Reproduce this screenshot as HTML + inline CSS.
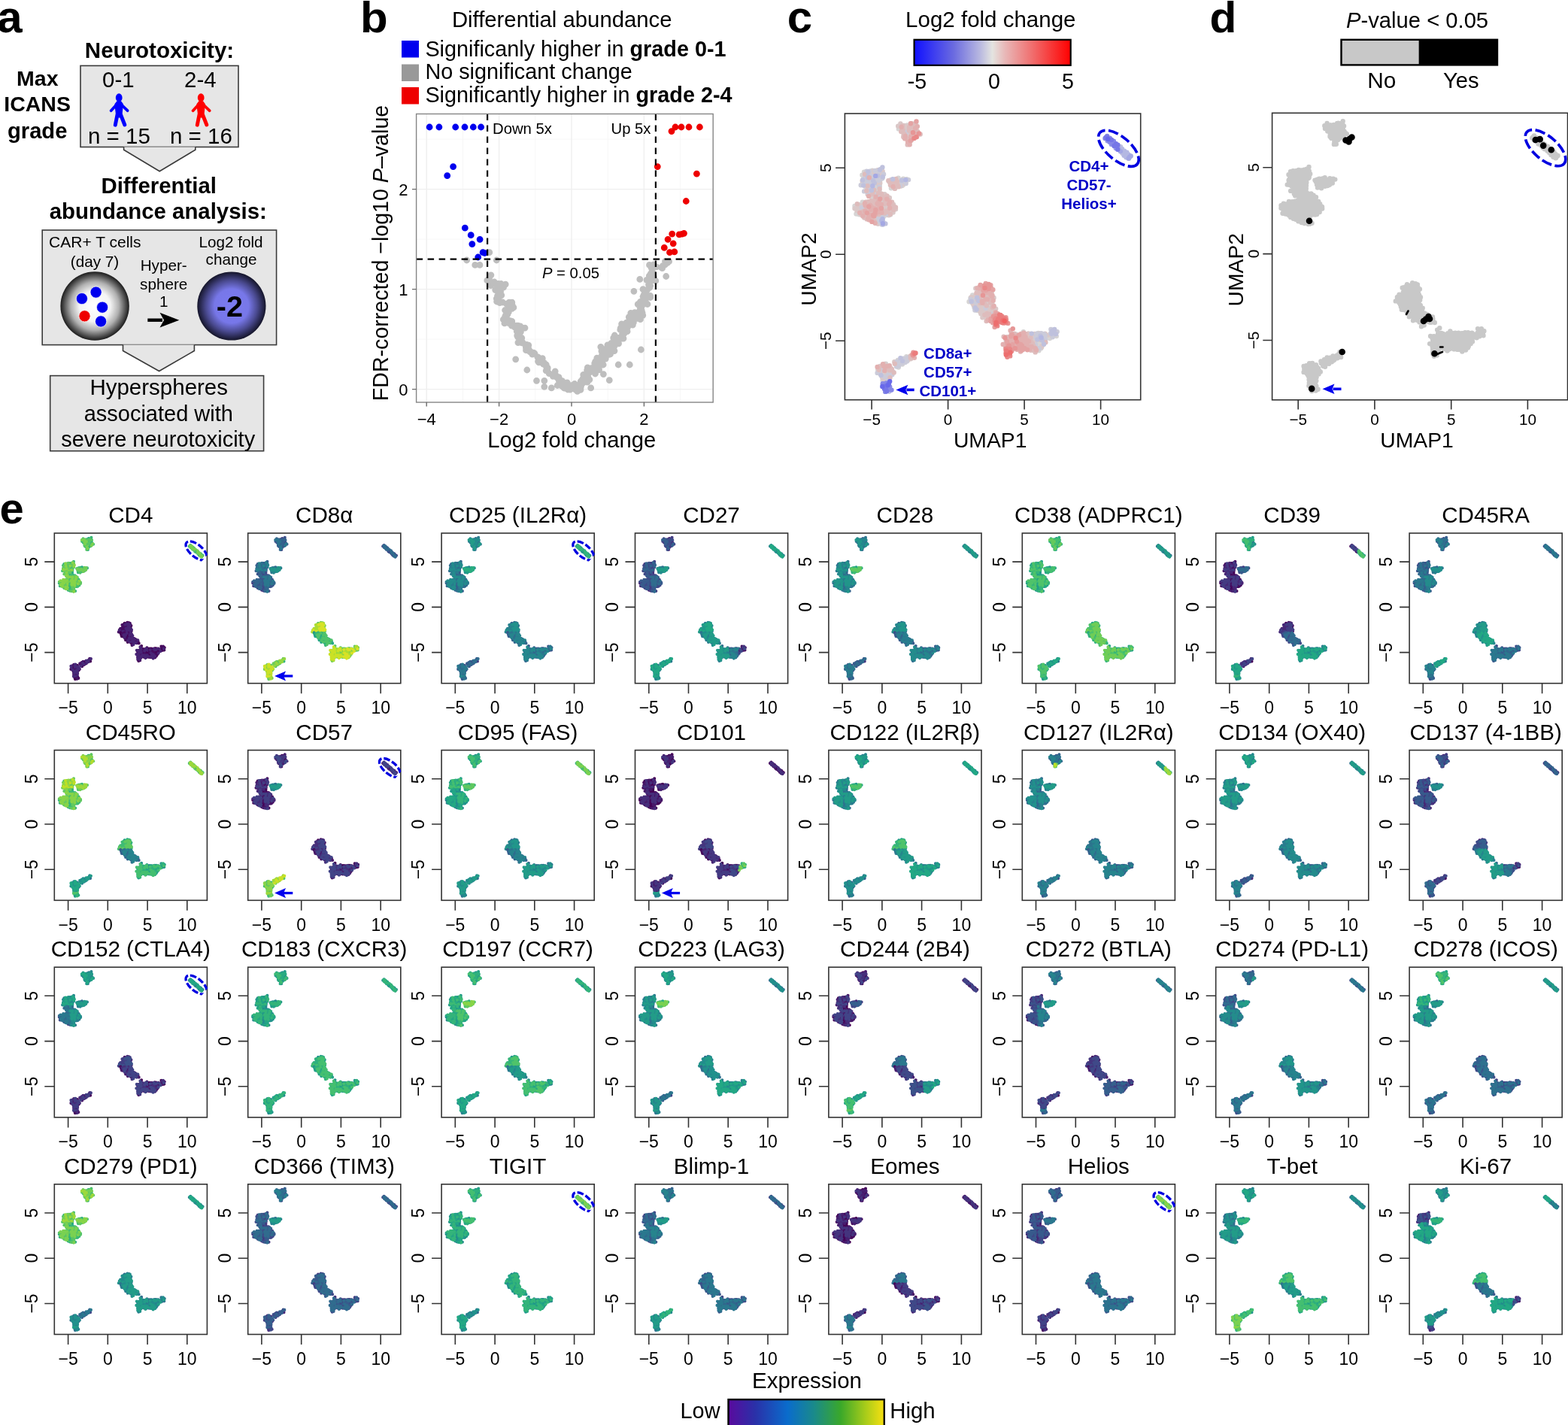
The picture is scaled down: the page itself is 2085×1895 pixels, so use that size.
<!DOCTYPE html><html><head><meta charset="utf-8"><style>html,body{margin:0;padding:0;background:#fff;}svg{display:block}</style></head><body><svg width="2085" height="1895" viewBox="0 0 2085 1895" font-family="Liberation Sans, Arial, Helvetica, sans-serif">
<defs><path id="pT10" d="M-33.3 -89.4h0M-28.1 -89.4h0M-29.1 -88.7h0M-25.4 -88.5h0M-29.8 -86.9h0M-24.8 -86.8h0M-28.9 -85.1h0M-22.7 -85.0h0M-22.5 -83.9h0M-27.3 -81.8h0M-25.8 -82.0h0M-23.7 -82.1h0M-29.8 -80.6h0M-25.1 -91.2h0M-25.8 -91.1h0M-23.0 -91.1h0"/><path id="pT11" d="M-26.8 -88.6h0M-22.5 -87.9h0M-26.9 -86.4h0M-23.2 -86.5h0M-24.2 -84.9h0M-30.8 -81.9h0M-29.5 -82.4h0M-28.3 -80.3h0M-24.6 -81.1h0M-28.3 -90.0h0M-21.9 -92.6h0M-22.1 -90.9h0M-29.1 -81.3h0M-32.4 -85.6h0M-34.2 -87.4h0"/><path id="pT12" d="M-30.3 -89.8h0M-26.6 -89.7h0M-25.2 -89.9h0M-23.2 -90.2h0M-32.2 -88.7h0M-23.5 -88.1h0M-21.8 -86.9h0M-30.3 -85.5h0M-27.4 -85.3h0M-25.3 -84.9h0M-28.5 -84.0h0M-26.0 -83.7h0M-24.9 -84.0h0M-23.5 -80.9h0M-32.8 -91.1h0M-30.6 -89.8h0M-21.2 -89.2h0M-23.4 -81.1h0M-30.2 -81.2h0M-30.7 -83.1h0"/><path id="pT13" d="M-31.4 -89.5h0M-30.8 -88.6h0M-31.2 -86.7h0M-28.2 -87.1h0M-30.2 -84.0h0M-26.5 -80.7h0M-34.5 -89.3h0"/><path id="pT20" d="M-22.0 -81.8h0M-20.9 -85.4h0"/><path id="pT21" d="M-19.2 -83.7h0"/><path id="pT22" d="M-20.8 -83.8h0"/><path id="pT23" d="M-20.1 -84.3h0M-21.6 -81.9h0"/><path id="pT30" d="M-25.9 -79.2h0M-27.8 -78.3h0M-26.4 -76.5h0"/><path id="pT31" d="M-25.3 -79.6h0"/><path id="pT32" d="M-28.0 -76.4h0"/><path id="pT33" d="M-27.6 -79.6h0M-26.6 -78.0h0"/><path id="pL10" d="M-47.7 -57.7h0M-57.5 -55.9h0M-45.8 -55.8h0M-48.5 -54.8h0M-46.2 -54.4h0M-50.5 -53.0h0M-49.4 -53.6h0M-45.7 -52.8h0M-57.1 -51.9h0M-54.8 -52.0h0M-50.3 -51.3h0M-47.8 -51.5h0M-47.0 -51.5h0M-49.3 -49.8h0M-54.7 -48.9h0M-53.1 -48.6h0M-51.4 -48.8h0M-54.1 -46.8h0M-48.8 -47.6h0M-54.2 -57.9h0M-50.4 -58.3h0M-46.9 -49.7h0M-58.0 -57.4h0"/><path id="pL11" d="M-47.1 -59.0h0M-56.6 -57.3h0M-53.6 -57.6h0M-51.4 -58.2h0M-49.7 -58.2h0M-46.6 -57.5h0M-54.3 -56.1h0M-52.6 -55.9h0M-48.8 -56.2h0M-53.4 -54.5h0M-52.1 -54.3h0M-55.4 -53.4h0M-54.4 -53.5h0M-52.9 -53.3h0M-47.5 -52.9h0M-55.7 -50.4h0M-58.4 -48.9h0M-55.6 -47.7h0M-50.8 -47.3h0M-48.6 -58.7h0M-45.3 -60.7h0M-45.3 -53.2h0M-47.1 -47.6h0M-60.2 -48.2h0M-59.3 -51.3h0M-58.4 -53.3h0M-59.3 -55.3h0"/><path id="pL12" d="M-55.2 -57.5h0M-55.7 -56.0h0M-50.9 -56.2h0M-47.5 -55.9h0M-58.4 -54.2h0M-56.4 -54.8h0M-57.5 -53.5h0M-59.0 -51.7h0M-53.2 -51.8h0M-51.7 -51.4h0M-52.8 -50.4h0M-50.8 -49.8h0M-47.2 -49.8h0M-56.6 -48.8h0M-49.7 -48.5h0M-57.2 -47.2h0M-52.4 -58.5h0M-45.2 -57.8h0M-56.6 -47.7h0M-58.5 -48.0h0"/><path id="pL13" d="M-55.3 -54.3h0M-50.1 -54.7h0M-59.1 -50.0h0M-57.7 -49.8h0M-54.6 -50.6h0M-48.3 -49.2h0M-52.1 -47.7h0M-47.6 -46.9h0M-56.3 -58.0h0M-46.8 -59.2h0M-44.4 -55.8h0M-45.1 -54.0h0"/><path id="pL20" d="M-36.2 -47.3h0M-34.3 -53.2h0M-29.2 -51.9h0M-31.0 -48.4h0"/><path id="pL21" d="M-38.8 -51.6h0M-31.9 -51.7h0M-33.3 -50.3h0M-29.2 -50.1h0M-34.6 -47.9h0M-39.5 -51.9h0M-38.2 -52.4h0M-36.0 -52.6h0M-27.3 -52.0h0M-34.3 -47.1h0M-39.4 -46.1h0"/><path id="pL22" d="M-37.4 -51.6h0M-38.3 -51.0h0M-36.2 -50.7h0M-31.9 -50.8h0M-38.8 -49.0h0M-35.8 -49.2h0M-30.6 -49.2h0M-37.9 -47.2h0M-32.9 -47.8h0M-31.6 -47.9h0M-41.2 -51.4h0M-36.7 -45.8h0M-39.9 -48.3h0"/><path id="pL23" d="M-39.7 -50.8h0M-35.2 -50.7h0M-37.7 -49.3h0M-34.4 -49.1h0M-32.3 -49.2h0M-30.9 -52.7h0M-28.6 -52.4h0M-29.1 -49.4h0M-32.5 -47.5h0M-40.6 -50.4h0"/><path id="pL3a0" d="M-54.0 -44.2h0M-52.8 -44.6h0M-51.0 -44.7h0M-55.5 -36.2h0M-50.2 -33.6h0M-63.0 -31.7h0M-61.5 -32.6h0M-56.1 -32.6h0M-53.9 -31.9h0M-50.7 -32.1h0M-54.9 -31.2h0M-59.0 -29.7h0M-54.6 -28.8h0M-50.5 -28.8h0M-54.7 -27.5h0M-51.7 -27.2h0M-57.6 -25.8h0M-54.1 -26.4h0M-51.1 -26.7h0M-52.9 -25.0h0M-50.4 -21.8h0M-52.6 -22.7h0M-63.5 -28.2h0M-64.5 -32.0h0"/><path id="pL3a1" d="M-51.6 -45.5h0M-56.3 -44.2h0M-53.5 -42.2h0M-53.9 -41.5h0M-52.4 -37.7h0M-50.5 -38.1h0M-61.5 -33.6h0M-60.2 -34.0h0M-58.5 -33.9h0M-51.9 -34.1h0M-57.3 -30.2h0M-57.5 -28.7h0M-58.0 -27.9h0M-52.1 -24.3h0M-57.9 -25.5h0M-63.0 -30.6h0M-55.1 -36.7h0"/><path id="pL3a2" d="M-53.6 -45.8h0M-55.5 -43.1h0M-52.8 -41.4h0M-51.0 -40.9h0M-52.1 -40.2h0M-53.3 -37.2h0M-51.6 -36.7h0M-57.5 -35.5h0M-52.1 -35.4h0M-57.2 -34.1h0M-54.7 -33.3h0M-53.7 -34.2h0M-52.4 -32.6h0M-58.0 -30.2h0M-56.0 -28.9h0M-52.4 -28.8h0M-56.9 -27.6h0M-58.8 -26.6h0M-50.9 -23.0h0M-58.8 -26.9h0M-61.5 -27.8h0M-64.5 -33.7h0M-54.8 -40.6h0M-58.0 -43.9h0"/><path id="pL3a3" d="M-54.8 -45.8h0M-52.1 -42.3h0M-59.3 -35.4h0M-55.5 -34.7h0M-54.2 -35.2h0M-50.5 -35.4h0M-59.6 -32.6h0M-57.7 -32.1h0M-61.5 -30.9h0M-60.0 -30.8h0M-53.4 -31.2h0M-51.6 -31.0h0M-62.7 -29.4h0M-61.0 -29.0h0M-60.1 -27.6h0M-53.4 -27.4h0M-56.0 -26.5h0M-52.0 -26.7h0M-55.2 -25.1h0M-54.5 -24.1h0M-56.0 -24.5h0M-62.8 -35.1h0M-60.5 -34.9h0M-59.1 -36.5h0M-56.8 -36.4h0M-52.2 -39.9h0M-55.5 -41.9h0"/><path id="pL3b0" d="M-47.9 -45.3h0M-49.4 -44.6h0M-47.4 -44.4h0M-49.8 -43.2h0M-46.4 -42.5h0M-48.5 -39.9h0M-49.0 -38.7h0M-43.6 -37.9h0M-47.3 -34.8h0M-42.4 -35.7h0M-45.0 -33.8h0M-38.1 -33.7h0M-40.3 -32.3h0M-38.9 -31.9h0M-37.4 -32.1h0M-46.1 -30.9h0M-43.2 -30.2h0M-41.8 -30.3h0M-45.8 -29.1h0M-38.8 -29.2h0M-50.2 -28.1h0M-46.1 -27.6h0M-44.8 -28.1h0M-48.8 -26.4h0M-49.8 -24.5h0M-47.5 -23.2h0M-45.9 -23.5h0M-45.1 -21.5h0M-47.3 -45.6h0M-45.8 -42.1h0M-43.8 -42.0h0M-38.7 -36.5h0M-43.2 -21.4h0"/><path id="pL3b1" d="M-48.1 -42.8h0M-49.2 -41.4h0M-47.2 -41.5h0M-46.1 -41.0h0M-44.4 -39.8h0M-46.0 -38.0h0M-41.0 -37.8h0M-50.0 -36.2h0M-47.7 -37.1h0M-46.9 -36.8h0M-44.4 -36.6h0M-40.2 -36.5h0M-40.8 -35.1h0M-39.2 -35.0h0M-46.8 -33.5h0M-41.6 -33.5h0M-49.1 -31.8h0M-42.5 -31.7h0M-50.1 -30.9h0M-37.7 -30.9h0M-49.5 -29.0h0M-42.7 -29.5h0M-40.7 -28.9h0M-47.9 -27.9h0M-42.8 -28.2h0M-40.9 -27.3h0M-39.9 -28.1h0M-48.0 -25.2h0M-46.9 -24.7h0M-45.3 -24.7h0M-49.1 -23.3h0M-46.4 -21.8h0M-42.1 -40.8h0M-36.2 -32.7h0M-37.9 -29.2h0M-39.8 -27.6h0M-42.4 -27.4h0"/><path id="pL3b2" d="M-49.9 -46.1h0M-43.7 -41.4h0M-43.4 -39.5h0M-41.7 -36.4h0M-43.1 -33.3h0M-39.9 -33.3h0M-44.7 -31.2h0M-46.9 -25.8h0M-45.2 -26.5h0M-44.5 -26.3h0M-40.4 -39.5h0M-36.7 -33.1h0M-36.2 -31.5h0M-45.2 -24.0h0M-44.7 -22.3h0M-45.8 -20.8h0M-48.4 -21.3h0"/><path id="pL3b3" d="M-49.9 -40.2h0M-46.9 -40.2h0M-41.9 -40.0h0M-47.0 -38.7h0M-42.3 -38.5h0M-42.8 -36.6h0M-48.8 -35.4h0M-46.1 -34.9h0M-43.9 -35.3h0M-48.3 -33.8h0M-47.5 -32.2h0M-46.1 -32.1h0M-43.7 -32.0h0M-48.1 -30.4h0M-39.5 -30.9h0M-47.7 -29.5h0M-43.8 -28.8h0M-37.7 -34.8h0M-44.9 -20.8h0"/><path id="pM10" d="M23.8 22.2h0M26.2 25.0h0M21.4 26.4h0M24.7 26.2h0M20.8 28.2h0M29.5 28.1h0M21.5 30.0h0M22.8 29.2h0M15.7 31.2h0M25.8 31.4h0M16.6 32.7h0M18.1 32.8h0M28.8 32.7h0M29.4 33.6h0M28.1 20.8h0M30.1 26.5h0M31.3 32.2h0M19.7 26.9h0M22.4 21.3h0"/><path id="pM11" d="M27.1 21.0h0M22.7 22.3h0M21.7 23.6h0M25.4 23.4h0M29.0 25.1h0M29.9 26.9h0M19.2 28.5h0M16.1 29.8h0M18.2 29.5h0M28.0 29.9h0M30.3 29.2h0M19.1 31.5h0M20.6 31.4h0M22.1 31.1h0M30.6 30.8h0M27.0 32.5h0M19.2 33.6h0M26.0 20.3h0M29.9 23.4h0M31.1 24.6h0M15.5 30.3h0M21.4 22.9h0"/><path id="pM12" d="M28.7 21.9h0M20.2 23.4h0M26.7 24.1h0M28.1 23.9h0M20.6 25.4h0M22.2 25.4h0M24.3 25.1h0M20.2 26.4h0M22.7 26.3h0M22.2 28.2h0M20.1 30.0h0M17.7 31.5h0M24.5 31.2h0M27.3 31.4h0M23.5 32.7h0M29.5 21.4h0M14.5 33.0h0M16.9 28.4h0M19.1 23.7h0M25.2 21.8h0"/><path id="pM13" d="M25.6 22.5h0M27.3 21.8h0M23.0 23.4h0M29.6 23.8h0M27.7 25.2h0M26.9 26.5h0M28.4 26.4h0M24.1 28.5h0M26.1 28.3h0M27.9 27.6h0M25.2 29.4h0M26.7 29.6h0M28.7 30.8h0M19.9 32.4h0M21.1 32.3h0M25.2 32.1h0M30.1 32.9h0M23.8 33.8h0M30.7 28.6h0M31.7 30.2h0M16.1 32.8h0M15.7 30.6h0"/><path id="pM20" d="M16.9 34.0h0M21.1 35.7h0M18.7 37.1h0M21.2 38.8h0M23.0 38.7h0M26.5 38.6h0M26.2 39.9h0M29.6 40.5h0M27.0 41.2h0M25.8 43.6h0M29.4 42.8h0M27.8 44.6h0M33.0 44.6h0M35.5 46.5h0M39.1 46.4h0M38.3 47.9h0M40.0 47.3h0M40.2 45.5h0M20.3 39.1h0M18.1 37.0h0M17.3 34.5h0"/><path id="pM21" d="M27.0 34.4h0M17.7 35.3h0M24.8 35.3h0M26.6 35.7h0M26.0 37.4h0M27.6 37.2h0M30.7 37.1h0M19.8 38.4h0M24.7 38.8h0M32.1 38.5h0M24.2 40.4h0M24.3 43.3h0M27.9 43.2h0M33.0 42.9h0M37.4 43.4h0M29.6 44.8h0M31.6 44.9h0M36.9 44.3h0M39.1 44.8h0M31.1 46.4h0M32.2 47.1h0M33.2 47.5h0M37.3 47.1h0M31.6 36.2h0M34.3 41.3h0M36.3 42.3h0M41.4 48.0h0M33.2 48.3h0M30.9 47.6h0M27.7 45.8h0M26.5 46.5h0M23.8 43.9h0M18.6 38.9h0"/><path id="pM22" d="M21.0 34.6h0M22.4 33.9h0M19.7 35.2h0M23.5 35.5h0M28.8 35.1h0M28.8 38.8h0M30.3 38.4h0M21.9 39.7h0M27.9 39.9h0M30.5 40.5h0M22.7 41.4h0M25.3 42.1h0M35.6 42.1h0M31.4 43.2h0M34.8 44.9h0M37.9 46.0h0M33.1 49.0h0M37.4 43.2h0M39.0 47.8h0M32.2 50.7h0"/><path id="pM23" d="M25.6 34.5h0M30.4 34.3h0M30.5 36.1h0M31.6 35.8h0M21.1 37.2h0M22.3 36.6h0M23.7 37.5h0M29.2 37.3h0M32.8 40.3h0M28.6 41.5h0M29.7 41.6h0M32.2 42.0h0M33.3 41.1h0M34.8 42.7h0M36.1 42.7h0M26.7 44.3h0M29.2 46.2h0M32.4 45.6h0M34.3 45.7h0M34.9 47.2h0M33.1 37.9h0M40.0 44.0h0M37.4 47.5h0M34.1 49.8h0M29.6 46.4h0M22.3 40.0h0"/><path id="pM30" d="M54.0 55.4h0M47.7 56.8h0M51.0 58.5h0M40.0 60.1h0M43.0 59.5h0M50.0 60.0h0M39.6 62.7h0M51.6 62.5h0M53.6 62.0h0M54.2 63.9h0M42.8 66.0h0M52.9 65.5h0M40.1 67.1h0M41.1 68.0h0M40.7 57.5h0M43.7 55.4h0M44.8 51.7h0M49.0 56.2h0M52.3 54.7h0M52.1 54.0h0M54.8 66.5h0"/><path id="pM31" d="M55.0 56.3h0M43.6 58.2h0M45.9 57.6h0M46.8 58.2h0M52.9 58.4h0M46.6 59.6h0M52.0 60.1h0M53.6 59.2h0M54.9 59.9h0M44.0 61.4h0M45.1 61.4h0M47.5 60.8h0M51.0 60.6h0M52.3 61.1h0M54.5 61.4h0M44.6 62.9h0M46.5 62.2h0M40.8 63.6h0M47.4 64.2h0M51.1 63.6h0M55.4 64.1h0M48.1 65.5h0M44.1 67.3h0M50.8 66.9h0M42.4 69.9h0M47.8 66.3h0M41.0 71.5h0M39.4 58.1h0"/><path id="pM32" d="M45.8 55.2h0M45.9 57.0h0M49.6 56.2h0M52.7 56.9h0M41.7 57.6h0M48.2 59.6h0M40.8 60.6h0M49.4 60.9h0M42.7 62.1h0M48.4 62.1h0M50.3 62.7h0M54.4 62.6h0M42.1 63.7h0M43.9 63.6h0M47.0 55.6h0M51.8 66.3h0M43.4 66.9h0M42.9 70.8h0M40.1 69.9h0M40.0 66.3h0M40.7 60.6h0"/><path id="pM33" d="M44.0 55.3h0M52.4 54.8h0M43.3 57.1h0M44.3 56.1h0M51.3 56.8h0M40.8 58.0h0M48.9 58.0h0M53.6 57.7h0M41.0 59.2h0M44.6 59.9h0M42.0 60.7h0M41.2 62.4h0M45.9 63.7h0M48.8 63.8h0M52.1 63.9h0M40.0 65.7h0M41.5 65.2h0M44.3 66.0h0M46.3 65.4h0M49.8 65.5h0M51.7 65.3h0M54.5 65.5h0M42.0 66.7h0M43.1 68.3h0M38.5 57.3h0M43.1 53.0h0M50.5 55.3h0M50.1 67.7h0M42.7 69.3h0M40.0 68.7h0M39.8 64.4h0M38.0 62.7h0"/><path id="pM40" d="M57.3 55.4h0M64.8 55.1h0M59.9 56.5h0M65.3 56.6h0M67.1 56.6h0M55.9 58.5h0M57.1 58.1h0M59.1 58.0h0M64.4 58.0h0M56.5 59.7h0M57.9 59.2h0M63.9 59.4h0M62.9 60.6h0M64.7 61.3h0M65.5 63.1h0M55.6 55.1h0M60.0 55.4h0M62.4 54.8h0M64.4 54.9h0M67.1 55.2h0M66.2 62.6h0"/><path id="pM41" d="M63.2 55.2h0M60.7 57.8h0M66.3 58.2h0M65.1 59.9h0M60.8 60.9h0M56.5 62.5h0M61.4 62.8h0M57.8 64.3h0M59.2 63.9h0M62.8 64.0h0M64.8 63.8h0M60.4 65.4h0M62.2 65.8h0M59.7 66.9h0M57.8 55.2h0M64.8 64.5h0M64.3 65.4h0M59.1 66.9h0"/><path id="pM42" d="M58.5 56.4h0M62.4 57.6h0M60.0 59.1h0M61.7 59.3h0M67.0 59.1h0M55.9 60.6h0M59.7 61.3h0M66.0 61.3h0M63.5 62.8h0M61.2 66.8h0M67.2 59.5h0M62.8 67.1h0M60.8 66.7h0M57.2 66.8h0"/><path id="pM43" d="M61.3 55.3h0M66.3 55.4h0M56.4 56.7h0M62.2 56.6h0M63.9 56.7h0M57.4 60.9h0M58.4 62.1h0M60.6 62.8h0M60.4 64.1h0M56.7 65.9h0M58.0 65.5h0M63.0 65.4h0M60.3 68.2h0"/><path id="pM50" d="M73.8 53.1h0M71.5 55.3h0M73.4 54.9h0M70.2 57.0h0M71.0 55.0h0M71.9 53.3h0M71.1 52.2h0M75.0 53.9h0M75.0 57.0h0M72.3 57.6h0"/><path id="pM51" d="M72.0 56.9h0M68.3 57.9h0M75.4 53.9h0"/><path id="pM52" d="M72.2 53.2h0M73.6 52.2h0"/><path id="pM53" d="M74.6 55.5h0M68.9 56.2h0M70.3 58.6h0M67.5 61.2h0"/><path id="pB10" d="M-42.7 89.6h0M-41.6 91.1h0M-40.9 92.6h0M-41.9 94.5h0M-43.4 95.7h0"/><path id="pB11" d="M-43.7 92.8h0M-42.9 92.3h0M-43.0 94.1h0M-39.0 94.5h0M-42.4 95.3h0M-44.0 93.7h0M-45.1 90.0h0"/><path id="pB12" d="M-40.2 88.5h0M-40.8 90.0h0M-40.2 92.2h0M-40.6 95.4h0"/><path id="pB13" d="M-44.5 90.0h0M-42.9 91.6h0M-41.0 89.9h0M-45.4 92.1h0"/><path id="pB20" d="M-45.5 77.6h0M-40.7 77.7h0M-47.8 80.4h0M-46.1 80.7h0M-39.0 80.5h0M-45.4 82.3h0M-39.4 83.6h0M-42.3 86.4h0M-40.8 86.3h0M-41.6 88.0h0M-45.0 77.5h0M-45.0 76.4h0M-42.1 77.7h0M-40.4 77.5h0M-38.6 83.8h0M-40.1 85.9h0"/><path id="pB21" d="M-44.2 77.9h0M-42.3 77.9h0M-47.1 78.7h0M-44.6 79.7h0M-40.3 80.8h0M-46.5 81.9h0M-38.6 82.2h0M-41.9 84.9h0M-45.8 85.0h0M-48.9 82.5h0"/><path id="pB22" d="M-43.8 81.0h0M-43.0 80.2h0M-43.0 82.0h0M-41.9 81.8h0M-46.2 84.2h0M-44.6 83.5h0M-42.4 83.6h0M-45.4 85.7h0M-44.4 87.2h0M-45.3 87.7h0M-43.5 88.1h0M-47.1 77.9h0M-37.4 82.3h0"/><path id="pB23" d="M-43.8 76.3h0M-43.6 79.3h0M-42.2 79.1h0M-39.7 79.1h0M-39.8 82.5h0M-41.3 84.1h0M-43.8 85.4h0M-40.3 85.7h0M-48.9 78.4h0M-42.9 76.2h0M-38.9 79.8h0M-38.2 81.5h0M-40.6 87.6h0M-44.5 87.6h0M-46.9 83.4h0M-48.5 80.3h0"/><path id="pB30" d="M-28.0 71.9h0M-24.3 71.5h0M-33.8 73.7h0M-31.5 74.3h0M-28.4 74.5h0M-34.0 76.0h0M-23.2 72.1h0"/><path id="pB31" d="M-22.9 69.0h0M-24.2 70.3h0M-30.9 73.3h0M-29.0 72.8h0M-29.4 74.7h0M-35.9 76.1h0M-30.8 72.5h0M-26.3 71.2h0M-24.5 69.6h0M-34.1 77.7h0M-34.2 78.8h0"/><path id="pB32" d="M-25.9 72.2h0M-35.1 74.5h0M-35.2 77.6h0M-37.1 74.9h0M-34.7 73.7h0M-32.8 72.3h0M-24.0 68.4h0M-23.6 69.3h0M-29.6 75.4h0M-31.5 76.7h0M-36.8 76.2h0"/><path id="pB33" d="M-25.8 70.7h0M-27.5 73.3h0M-33.3 74.4h0M-32.0 75.9h0M-28.7 71.2h0M-22.4 68.7h0M-25.7 72.8h0M-27.9 73.9h0M-35.6 78.2h0"/><path id="pR10" d="M108.5 -80.9h0M116.0 -74.0h0"/><path id="pR11" d="M110.0 -82.4h0M112.9 -79.5h0M112.4 -78.6h0M111.7 -78.3h0M114.3 -77.9h0M116.8 -75.7h0M117.7 -73.6h0"/><path id="pR12" d="M109.2 -81.4h0M113.0 -79.8h0M114.5 -78.9h0M112.9 -76.7h0M115.0 -76.1h0M114.8 -75.6h0M117.3 -76.2h0M116.4 -75.0h0M117.2 -73.1h0"/><path id="pR13" d="M109.8 -81.7h0M111.8 -81.0h0M110.9 -80.7h0M110.6 -80.3h0M110.2 -79.1h0M113.3 -77.4h0M116.1 -77.1h0M115.7 -77.0h0"/><path id="pR20" d="M118.5 -74.1h0M120.3 -73.3h0M119.2 -71.8h0M121.4 -71.5h0M121.6 -69.0h0M124.0 -68.2h0M126.3 -68.6h0M125.0 -67.0h0"/><path id="pR21" d="M120.7 -71.3h0M123.6 -71.1h0M124.7 -69.6h0"/><path id="pR22" d="M119.8 -72.9h0M120.5 -70.5h0M122.2 -70.0h0M124.5 -69.0h0"/><path id="pR23" d="M119.3 -75.0h0M119.5 -72.4h0M121.8 -72.1h0M122.7 -70.1h0M123.1 -67.6h0M125.5 -67.9h0M124.8 -66.8h0"/><radialGradient id="gs1"><stop offset="0" stop-color="#ffffff"/><stop offset="0.45" stop-color="#f4f4f4"/><stop offset="0.7" stop-color="#b0b0b0"/><stop offset="1" stop-color="#1c1c1c"/></radialGradient><radialGradient id="gs2"><stop offset="0" stop-color="#7b7bf0"/><stop offset="0.5" stop-color="#7777e8"/><stop offset="0.75" stop-color="#4a4a90"/><stop offset="1" stop-color="#15152a"/></radialGradient><linearGradient id="gc"><stop offset="0" stop-color="#1010ff"/><stop offset="0.25" stop-color="#6a6ae0"/><stop offset="0.42" stop-color="#b8b8e0"/><stop offset="0.5" stop-color="#e4e4e0"/><stop offset="0.58" stop-color="#e8b8b8"/><stop offset="0.75" stop-color="#f07070"/><stop offset="1" stop-color="#ff0000"/></linearGradient><linearGradient id="ge"><stop offset="0" stop-color="#5a0a9e"/><stop offset="0.17" stop-color="#2a30a8"/><stop offset="0.38" stop-color="#0a6ccc"/><stop offset="0.55" stop-color="#1a8a8a"/><stop offset="0.72" stop-color="#3aa82a"/><stop offset="0.88" stop-color="#a8cc1a"/><stop offset="1" stop-color="#f8e010"/></linearGradient></defs>
<rect width="2085" height="1895" fill="#fff"/>
<text x="-3.8" y="43" font-size="60" font-weight="bold">a</text>
<text x="212.0" y="77.0" font-size="29.5" text-anchor="middle" font-weight="bold">Neurotoxicity:</text>
<text x="49.8" y="114.1" font-size="28.5" text-anchor="middle" font-weight="bold">Max</text>
<text x="49.6" y="147.8" font-size="28.5" text-anchor="middle" font-weight="bold">ICANS</text>
<text x="49.7" y="183.5" font-size="29.2" text-anchor="middle" font-weight="bold">grade</text>
<rect x="107" y="87.4" width="210" height="108.1" fill="#e6e6e6" stroke="#3a3a3a" stroke-width="1.6"/>
<text x="157.3" y="116.0" font-size="29.4" text-anchor="middle">0-1</text>
<text x="266.3" y="116.0" font-size="29.4" text-anchor="middle">2-4</text>
<text x="158.4" y="191.0" font-size="29.5" text-anchor="middle">n = 15</text>
<text x="267.4" y="191.0" font-size="29.5" text-anchor="middle">n = 16</text>
<g fill="#0000ff" stroke="#0000ff" stroke-linecap="round" stroke-linejoin="round"><ellipse cx="158.2" cy="129.9" rx="4.4" ry="5.6" stroke="none"/><path d="M155.79999999999998 134.8 L160.6 134.8 L163.39999999999998 138.6 L162.0 151 L159.39999999999998 156 L157.0 156 L154.39999999999998 151 L153.0 138.6Z" stroke-width="1.2"/><path d="M154.7 139.5 L147.6 147.2 M161.7 139.5 L169.6 147.2" stroke-width="3.8" fill="none"/><path d="M156.1 152 L153.29999999999998 166.2 M160.29999999999998 152 L165.79999999999998 166" stroke-width="4.9" fill="none"/></g>
<g fill="#ff0000" stroke="#ff0000" stroke-linecap="round" stroke-linejoin="round"><ellipse cx="267.2" cy="129.9" rx="4.4" ry="5.6" stroke="none"/><path d="M264.8 134.8 L269.59999999999997 134.8 L272.4 138.6 L271.0 151 L268.4 156 L266.0 156 L263.4 151 L262.0 138.6Z" stroke-width="1.2"/><path d="M263.7 139.5 L256.59999999999997 147.2 M270.7 139.5 L278.59999999999997 147.2" stroke-width="3.8" fill="none"/><path d="M265.09999999999997 152 L262.3 166.2 M269.3 152 L274.8 166" stroke-width="4.9" fill="none"/></g>
<path d="M164.6 195.5 V199.2 L212.2 227.7 L259.8 199.2 V195.5" fill="#e6e6e6" stroke="#3a3a3a" stroke-width="1.6"/>
<text x="211.2" y="257.0" font-size="29.4" text-anchor="middle" font-weight="bold">Differential</text>
<text x="210.3" y="290.6" font-size="29.4" text-anchor="middle" font-weight="bold">abundance analysis:</text>
<rect x="56.2" y="306" width="311.4" height="152.6" fill="#e6e6e6" stroke="#3a3a3a" stroke-width="1.6"/>
<text x="126.3" y="329.3" font-size="21" text-anchor="middle">CAR+ T cells</text>
<text x="126.0" y="355.0" font-size="20.7" text-anchor="middle">(day 7)</text>
<text x="217.7" y="360.2" font-size="20.7" text-anchor="middle">Hyper-</text>
<text x="217.7" y="385.0" font-size="20.7" text-anchor="middle">sphere</text>
<text x="217.7" y="408.2" font-size="20.7" text-anchor="middle">1</text>
<text x="307.0" y="329.3" font-size="20.7" text-anchor="middle">Log2 fold</text>
<text x="307.5" y="352.0" font-size="20.7" text-anchor="middle">change</text>
<circle cx="126.1" cy="407" r="45.7" fill="url(#gs1)"/>
<circle cx="108.9" cy="397.1" r="7.6" fill="#0000ee" stroke="#ffffff" stroke-opacity="0.7" stroke-width="1"/>
<circle cx="127.6" cy="388.6" r="7.6" fill="#0000ee" stroke="#ffffff" stroke-opacity="0.7" stroke-width="1"/>
<circle cx="136.1" cy="408.7" r="7.6" fill="#0000ee" stroke="#ffffff" stroke-opacity="0.7" stroke-width="1"/>
<circle cx="134.1" cy="427.4" r="7.6" fill="#0000ee" stroke="#ffffff" stroke-opacity="0.7" stroke-width="1"/>
<circle cx="112.5" cy="420.3" r="7.6" fill="#ee0000" stroke="#ffffff" stroke-opacity="0.7" stroke-width="1"/>
<path d="M196.3 425.7 H216" stroke="#000" stroke-width="4.4"/><path d="M212.5 415.8 L238.3 425.7 L212.5 435.6 L218 425.7Z" fill="#000"/>
<circle cx="307.9" cy="407" r="45.6" fill="url(#gs2)"/>
<text x="305.3" y="421.4" font-size="39.5" text-anchor="middle" font-weight="bold">-2</text>
<path d="M163.5 458.6 V466.5 L211.6 493.5 L258.4 466.5 V458.6" fill="#e6e6e6" stroke="#3a3a3a" stroke-width="1.6"/>
<rect x="66.7" y="499.6" width="283.9" height="100.1" fill="#e6e6e6" stroke="#3a3a3a" stroke-width="1.6"/>
<text x="211.2" y="525.3" font-size="29.5" text-anchor="middle">Hyperspheres</text>
<text x="210.8" y="559.8" font-size="29" text-anchor="middle">associated with</text>
<text x="210.2" y="594.3" font-size="29" text-anchor="middle">severe neurotoxicity</text>
<text x="479" y="42.6" font-size="58" font-weight="bold" transform="translate(479 0) scale(1.035 1) translate(-479 0)">b</text>
<text x="747.2" y="36.0" font-size="29.3" text-anchor="middle">Differential abundance</text>
<rect x="534" y="54" width="23" height="22.5" fill="#0000ee"/>
<rect x="534" y="85.5" width="23" height="22.5" fill="#999999"/>
<rect x="534" y="116" width="23" height="22.5" fill="#ee0000"/>
<text x="565.4" y="74.5" font-size="28.8">Significanly higher in <tspan font-weight="bold">grade 0-1</tspan></text>
<text x="565.4" y="105.0" font-size="28.8">No significant change</text>
<text x="565.4" y="135.5" font-size="28.8">Significantly higher in <tspan font-weight="bold">grade 2-4</tspan></text>
<rect x="553.6" y="151.5" width="394.6" height="383.5" fill="#fff"/>
<path d="M615.4 151.5V535M711.8 151.5V535M808.2 151.5V535M904.6 151.5V535M553.6 451.1H948.2M553.6 318.1H948.2M553.6 185.1H948.2" stroke="#f7f7f7" stroke-width="1"/>
<path d="M567.2 151.5V535M663.6 151.5V535M760.0 151.5V535M856.4 151.5V535M553.6 517.6H948.2M553.6 384.6H948.2M553.6 251.6H948.2" stroke="#efefef" stroke-width="1.4"/>
<path d="M652.9 365.8h0M650.5 370.1h0M650.1 371.7h0M647.8 372.9h0M652.6 379.6h0M657.3 375.0h0M657.8 375.6h0M657.6 377.2h0M662.7 377.5h0M665.1 377.7h0M663.8 380.6h0M666.3 377.5h0M665.5 379.2h0M672.2 378.1h0M667.7 380.2h0M665.4 379.5h0M669.5 382.2h0M666.8 383.7h0M658.7 385.6h0M662.9 382.7h0M665.6 387.7h0M663.1 386.3h0M663.8 389.6h0M666.8 392.6h0M663.1 394.9h0M661.5 393.4h0M663.0 397.5h0M660.3 397.1h0M660.9 396.1h0M664.4 401.2h0M660.6 401.0h0M664.6 402.6h0M664.1 400.4h0M673.5 404.1h0M668.3 402.0h0M677.1 402.2h0M680.8 402.2h0M678.0 403.4h0M681.2 405.9h0M677.1 404.1h0M682.9 408.9h0M680.9 410.4h0M680.3 408.5h0M676.4 409.4h0M681.1 409.5h0M675.1 412.4h0M676.3 415.0h0M671.6 412.5h0M673.9 418.3h0M675.0 417.8h0M672.4 419.1h0M672.8 421.0h0M671.6 421.1h0M673.6 422.9h0M674.7 427.1h0M678.3 426.6h0M669.3 424.9h0M674.1 427.6h0M670.9 429.9h0M680.8 427.4h0M676.6 429.6h0M680.4 433.2h0M686.7 433.2h0M684.5 435.1h0M688.4 436.1h0M688.8 433.2h0M686.1 433.6h0M691.8 435.9h0M688.5 434.2h0M691.9 433.8h0M689.6 435.7h0M698.0 436.1h0M689.7 436.2h0M687.2 440.5h0M692.4 441.3h0M690.7 443.0h0M689.7 442.0h0M687.7 446.2h0M687.8 446.6h0M688.6 448.2h0M693.8 449.5h0M692.1 452.8h0M695.1 455.5h0M688.9 455.6h0M693.9 455.8h0M698.5 458.6h0M700.2 458.5h0M702.8 459.2h0M699.4 462.2h0M699.5 465.7h0M704.7 467.1h0M703.1 464.4h0M705.2 467.3h0M704.8 467.9h0M707.9 470.9h0M707.8 471.2h0M709.5 469.2h0M710.9 470.0h0M714.7 474.6h0M716.1 475.5h0M721.3 476.6h0M718.9 477.3h0M715.5 480.5h0M716.5 481.9h0M722.4 484.2h0M723.6 482.7h0M726.3 485.0h0M726.5 487.7h0M728.2 489.2h0M728.0 491.0h0M726.2 492.9h0M730.2 496.7h0M738.2 493.8h0M736.9 498.0h0M735.3 500.3h0M738.5 498.1h0M740.5 502.0h0M743.1 501.7h0M746.0 506.1h0M743.0 505.3h0M747.6 506.6h0M754.2 508.9h0M748.8 508.5h0M753.1 514.5h0M754.6 512.2h0M758.2 513.1h0M781.0 508.2h0M775.3 509.1h0M775.6 504.9h0M781.2 506.8h0M774.7 504.0h0M772.3 507.0h0M780.3 506.6h0M782.0 505.8h0M777.9 505.3h0M781.0 502.1h0M782.4 504.8h0M781.1 499.9h0M783.9 504.8h0M780.8 499.0h0M781.9 501.5h0M775.7 498.4h0M789.3 494.5h0M791.5 497.0h0M783.8 495.3h0M780.6 492.4h0M795.6 490.7h0M796.6 491.8h0M793.9 491.3h0M781.3 488.8h0M792.4 486.4h0M786.8 489.3h0M790.7 483.2h0M791.4 488.8h0M793.2 488.1h0M802.2 485.0h0M791.6 480.8h0M796.8 485.5h0M798.6 483.9h0M796.2 482.5h0M796.6 480.1h0M793.8 476.2h0M797.7 476.6h0M796.3 480.3h0M800.5 485.1h0M805.4 475.4h0M805.3 477.1h0M799.7 478.2h0M799.9 466.9h0M807.0 472.3h0M810.3 471.4h0M799.6 476.1h0M800.5 471.9h0M811.5 470.9h0M805.6 470.1h0M809.9 467.0h0M809.4 469.7h0M817.0 466.6h0M803.9 468.5h0M806.5 466.6h0M809.2 468.0h0M806.3 464.1h0M798.8 461.3h0M816.6 461.0h0M807.9 458.8h0M814.0 461.6h0M807.2 462.0h0M814.0 461.4h0M810.9 463.1h0M816.0 457.7h0M812.7 456.5h0M819.2 455.7h0M820.8 457.0h0M822.6 456.8h0M817.4 449.2h0M819.6 455.2h0M819.7 453.8h0M817.6 450.8h0M816.2 454.5h0M821.4 449.1h0M815.7 449.3h0M827.9 450.2h0M819.4 451.9h0M829.0 450.1h0M826.9 449.9h0M826.4 448.2h0M821.4 449.4h0M826.3 450.0h0M817.3 446.0h0M830.6 442.7h0M828.9 444.8h0M830.0 440.7h0M827.5 443.9h0M834.1 440.7h0M829.6 440.2h0M834.2 436.2h0M824.8 438.4h0M826.3 435.8h0M831.9 437.7h0M827.6 437.7h0M825.2 436.3h0M826.6 430.9h0M836.5 432.3h0M831.0 431.4h0M836.9 431.6h0M835.3 433.7h0M833.0 429.2h0M834.4 432.6h0M841.3 432.2h0M837.6 427.9h0M841.9 426.6h0M842.4 428.8h0M836.5 426.1h0M839.5 430.0h0M851.5 424.7h0M841.2 418.5h0M842.6 423.5h0M837.8 424.9h0M836.3 421.7h0M844.0 418.3h0M847.6 423.3h0M838.8 416.3h0M847.7 418.9h0M840.6 417.5h0M845.8 417.0h0M850.3 417.6h0M854.8 419.3h0M850.8 417.7h0M854.1 416.0h0M844.0 415.6h0M850.0 416.7h0M850.6 413.1h0M852.2 415.2h0M851.9 409.6h0M852.8 408.5h0M852.5 409.0h0M853.3 413.2h0M850.8 407.7h0M852.0 408.7h0M848.2 404.6h0M853.4 407.0h0M853.7 403.7h0M850.6 405.6h0M860.6 404.4h0M855.7 404.1h0M851.3 401.5h0M854.5 402.3h0M855.8 397.8h0M861.0 404.5h0M855.5 400.5h0M858.1 400.8h0M851.1 402.2h0M855.6 400.7h0M858.3 395.8h0M857.7 398.4h0M855.0 394.5h0M856.9 390.4h0M864.8 395.5h0M859.5 396.3h0M855.9 392.5h0M864.8 393.5h0M855.0 384.7h0M858.7 389.5h0M860.7 385.4h0M864.0 382.2h0M863.5 382.7h0M864.7 380.0h0M862.5 378.6h0M863.5 378.2h0M871.8 373.4h0M860.0 372.3h0M867.1 373.0h0M869.5 368.6h0M864.4 369.4h0M863.3 366.8h0M865.3 363.9h0M867.5 361.5h0M867.5 356.4h0M865.9 355.6h0M866.7 357.3h0M866.0 354.0h0M865.6 354.3h0M870.2 353.3h0M872.0 354.7h0M869.2 351.9h0M872.8 354.8h0M870.0 355.3h0M881.2 353.7h0M880.6 356.7h0M884.9 351.3h0M884.1 352.2h0M884.5 347.6h0M887.7 349.3h0M886.9 349.0h0M889.6 347.7h0M886.0 347.9h0M772.6 513.2h0M772.3 514.7h0M755.2 517.8h0M752.6 516.5h0M755.5 515.1h0M748.9 511.9h0M769.6 514.5h0M760.3 512.9h0M764.0 510.5h0M749.9 513.6h0M752.5 512.2h0M759.4 513.7h0M758.0 518.2h0M769.1 517.1h0M759.7 512.7h0M746.9 513.1h0M741.2 512.5h0M766.9 518.1h0M768.7 511.8h0M764.4 512.0h0M767.4 513.7h0M767.7 520.4h0M768.3 519.8h0M761.6 513.2h0M772.0 518.3h0M755.0 514.2h0M747.1 513.5h0M768.0 513.8h0M754.9 510.5h0M763.3 516.0h0M685.7 477.8h0M700.8 492.0h0M713.5 506.3h0M723.8 506.3h0M723.8 514.3h0M733.3 515.9h0M852.4 465.0h0M822.2 485.0h0M837.3 485.0h0M810.3 505.6h0M802.4 497.6h0M785.7 515.9h0M885.7 367.5h0M850.8 371.4h0M842.9 387.3h0M620.6 346.0h0M631.7 352.4h0M638.0 352.4h0M660.3 346.0h0M650.8 335.7h0M863.5 352.4h0M879.4 355.6h0M760.0 517.0h0M750.0 516.0h0M770.0 516.0h0M765.0 518.0h0M755.0 518.0h0" stroke="#bebebe" stroke-width="8.8" stroke-linecap="round"/>
<path d="M571.1 169.0h0M583.9 169.0h0M605.7 169.0h0M618.0 169.0h0M629.3 169.0h0M639.6 169.0h0M602.6 221.6h0M594.7 233.6h0M618.3 303.2h0M626.2 312.7h0M638.1 318.3h0M627.8 324.6h0M642.1 335.7h0M644.4 336.5h0M635.7 342.0h0" stroke="#0000ee" stroke-width="8.8" stroke-linecap="round"/>
<path d="M893.0 174.6h0M898.0 169.0h0M906.0 169.0h0M916.0 169.0h0M930.4 169.0h0M874.3 221.6h0M926.4 231.1h0M912.3 267.5h0M893.7 311.1h0M907.1 311.1h0M888.1 318.3h0M895.2 323.8h0M883.3 329.4h0M890.5 335.7h0M896.8 334.9h0M903.2 311.9h0M909.5 310.3h0" stroke="#ee0000" stroke-width="8.8" stroke-linecap="round"/>
<path d="M648.1 151.5V535M871.9 151.5V535M553.6 344.6H948.2" stroke="#000" stroke-width="2.2" stroke-dasharray="8.5 6.5"/>
<rect x="553.6" y="151.5" width="394.6" height="383.5" fill="none" stroke="#858585" stroke-width="1.4"/>
<path d="M567.2 535V540.5M663.6 535V540.5M760.0 535V540.5M856.4 535V540.5M548 517.6H553.6M548 384.6H553.6M548 251.6H553.6" stroke="#6a6a6a" stroke-width="1.4"/>
<text x="567.2" y="564.6" font-size="22" text-anchor="middle">−4</text>
<text x="663.6" y="564.6" font-size="22" text-anchor="middle">−2</text>
<text x="760.0" y="564.6" font-size="22" text-anchor="middle">0</text>
<text x="856.4" y="564.6" font-size="22" text-anchor="middle">2</text>
<text x="542.5" y="525.6" font-size="22" text-anchor="end">0</text>
<text x="542.5" y="392.6" font-size="22" text-anchor="end">1</text>
<text x="542.5" y="259.6" font-size="22" text-anchor="end">2</text>
<text x="655.0" y="178.0" font-size="20.3">Down 5x</text>
<text x="865.5" y="178.0" font-size="20.3" text-anchor="end">Up 5x</text>
<text x="759" y="369.6" font-size="20.3" text-anchor="middle"><tspan font-style="italic">P</tspan> = 0.05</text>
<text x="760.3" y="594.5" font-size="29.2" text-anchor="middle">Log2 fold change</text>
<text transform="translate(516.3 336.5) rotate(-90)" font-size="28.6" text-anchor="middle">FDR-corrected −log10 <tspan font-style="italic">P</tspan>–value</text>
<text x="1046.8" y="43.4" font-size="60" font-weight="bold">c</text>
<text x="1317.3" y="36.0" font-size="29.5" text-anchor="middle">Log2 fold change</text>
<rect x="1215.6" y="52.8" width="208.1" height="34" fill="url(#gc)" stroke="#000" stroke-width="2.2"/>
<text x="1219.5" y="117.8" font-size="28.6" text-anchor="middle">-5</text>
<text x="1322.0" y="117.8" font-size="28.6" text-anchor="middle">0</text>
<text x="1420.0" y="117.8" font-size="28.6" text-anchor="middle">5</text>
<rect x="1123.4" y="151" width="393.3" height="380.7" fill="none" stroke="#333333" stroke-width="1.6"/>
<path d="M1159.1 531.7v12.8M1260.6 531.7v12.8M1362.1 531.7v12.8M1463.6 531.7v12.8M1123.4 453.3h-12.3M1123.4 338.3h-12.3M1123.4 223.3h-12.3" stroke="#333333" stroke-width="1.6"/>
<text x="1159.1" y="565.2" font-size="20.7" text-anchor="middle">−5</text>
<text x="1260.6" y="565.2" font-size="20.7" text-anchor="middle">0</text>
<text x="1362.1" y="565.2" font-size="20.7" text-anchor="middle">5</text>
<text x="1463.6" y="565.2" font-size="20.7" text-anchor="middle">10</text>
<text transform="translate(1105.3 453.3) rotate(-90)" font-size="20.7" text-anchor="middle">−5</text>
<text transform="translate(1105.3 338.3) rotate(-90)" font-size="20.7" text-anchor="middle">0</text>
<text transform="translate(1105.3 223.3) rotate(-90)" font-size="20.7" text-anchor="middle">5</text>
<path d="M1150.5 248.1h0M1179.3 503.3h0M1170.2 240.0h0M1155.4 244.9h0M1316.0 405.3h0M1176.9 506.5h0M1180.0 494.5h0M1359.3 446.7h0M1195.5 479.0h0M1153.4 231.3h0M1381.4 466.3h0M1179.1 286.0h0M1148.1 236.5h0M1169.9 247.4h0M1304.9 412.1h0M1402.6 439.7h0M1292.5 400.6h0M1387.6 455.3h0M1298.6 405.5h0M1172.5 500.5h0M1194.9 171.4h0M1167.2 262.2h0M1151.2 285.6h0M1386.6 458.7h0M1401.8 443.2h0M1301.5 412.3h0M1290.5 396.1h0M1173.1 495.4h0M1201.7 166.9h0M1175.0 505.4h0M1318.9 411.6h0M1161.3 268.2h0M1160.3 270.7h0M1295.5 408.9h0M1312.6 400.3h0M1183.9 495.7h0M1205.8 178.0h0M1170.4 497.4h0M1169.7 259.0h0M1171.8 234.5h0M1157.4 228.3h0M1159.4 231.5h0M1164.8 255.9h0M1161.7 245.1h0M1380.7 442.9h0M1196.5 480.2h0M1212.7 177.9h0M1173.5 505.7h0M1165.7 243.3h0M1169.1 237.3h0M1166.7 231.1h0M1313.6 409.2h0M1194.6 236.8h0M1164.7 291.5h0M1395.6 447.0h0M1167.2 491.6h0M1174.7 490.4h0M1205.3 474.3h0M1290.8 396.7h0M1299.4 388.8h0M1172.0 260.1h0M1164.7 250.3h0M1146.9 242.9h0M1169.8 243.2h0M1299.6 412.9h0M1166.2 264.4h0M1301.9 395.6h0M1160.2 262.1h0M1144.2 271.7h0M1191.0 241.4h0M1385.1 455.2h0M1312.0 394.8h0M1159.8 266.3h0M1168.5 251.9h0M1178.9 277.8h0M1177.6 274.8h0M1147.4 287.4h0M1351.1 444.4h0M1307.1 415.4h0M1206.3 172.1h0M1136.5 273.9h0M1209.4 167.1h0M1295.6 394.6h0M1174.4 284.6h0M1169.4 253.6h0M1163.9 240.5h0M1388.2 449.4h0M1195.1 483.4h0M1166.7 247.4h0M1146.4 270.7h0M1293.1 403.2h0M1218.1 164.8h0M1159.8 226.6h0M1184.0 285.6h0M1171.8 285.6h0M1317.6 415.6h0M1381.7 454.0h0M1382.9 458.1h0M1391.9 448.8h0M1386.2 446.3h0M1312.5 403.9h0M1209.7 184.3h0M1355.6 454.4h0M1213.0 172.7h0M1201.1 237.8h0M1381.4 460.5h0M1175.1 288.0h0M1193.8 478.9h0M1174.7 497.7h0M1138.5 284.5h0M1172.5 231.7h0M1288.5 401.2h0M1204.9 477.2h0M1162.9 247.9h0M1208.1 182.1h0M1376.0 451.1h0M1384.3 463.2h0M1184.9 250.2h0M1311.6 411.9h0M1184.2 489.2h0M1377.7 454.6h0M1378.7 458.2h0M1139.9 282.1h0M1191.8 244.4h0M1395.9 450.1h0M1360.9 441.3h0M1206.2 166.5h0M1374.4 449.0h0M1306.1 409.8h0M1142.3 285.2h0M1165.0 245.7h0M1146.4 232.8h0M1182.1 503.1h0M1199.9 484.6h0M1178.0 483.8h0M1205.6 238.2h0M1188.7 239.7h0M1199.8 246.9h0M1165.6 236.0h0M1191.5 483.6h0M1404.8 447.1h0M1157.6 257.7h0M1156.9 259.1h0M1148.2 234.8h0M1312.0 422.9h0M1142.2 276.1h0M1293.2 392.5h0M1311.0 414.5h0M1380.2 463.9h0M1302.8 414.0h0M1194.8 488.6h0M1148.3 245.0h0M1146.9 268.6h0M1173.5 236.8h0M1192.9 486.3h0M1165.6 253.2h0M1149.0 228.8h0M1373.2 445.9h0M1200.9 246.0h0M1294.7 398.4h0M1160.3 261.6h0" stroke="#d6d4d4" stroke-width="6.4" stroke-linecap="round"/>
<path d="M1306.4 422.2h0M1149.7 277.0h0M1322.4 411.7h0M1201.4 169.2h0M1198.5 244.3h0M1194.4 244.6h0M1145.0 285.6h0M1184.6 279.3h0M1162.7 231.0h0M1301.2 406.5h0M1166.1 293.8h0M1291.6 395.3h0M1368.2 450.0h0M1298.9 400.2h0M1301.0 404.4h0M1167.1 226.2h0M1183.9 274.8h0M1173.9 486.3h0M1184.9 497.9h0M1191.0 278.3h0M1181.9 286.2h0M1182.6 242.1h0M1319.2 407.2h0M1176.6 277.3h0M1173.3 501.9h0M1160.3 291.9h0M1308.3 405.6h0M1164.4 269.1h0M1142.3 279.3h0M1176.6 259.2h0M1179.9 500.3h0M1156.9 277.4h0M1303.6 408.2h0M1399.0 447.0h0M1301.3 409.3h0M1170.3 243.4h0M1207.7 478.2h0M1297.3 383.5h0M1319.4 415.5h0M1307.3 421.0h0M1207.8 175.5h0M1186.0 282.6h0M1148.1 273.5h0M1198.0 247.6h0M1157.5 250.8h0M1210.0 474.1h0M1207.6 186.4h0M1169.9 488.6h0M1294.0 404.2h0M1316.0 400.7h0M1303.5 414.7h0M1177.8 491.4h0M1156.1 231.1h0M1405.0 441.2h0M1139.4 279.9h0M1152.8 287.8h0M1169.9 486.9h0M1177.8 494.8h0M1319.2 403.8h0M1389.6 443.6h0M1201.7 244.4h0M1136.5 277.3h0M1370.8 444.0h0M1294.6 405.8h0M1304.5 394.1h0M1180.5 274.4h0M1170.3 261.6h0M1179.0 497.9h0M1166.6 287.9h0M1196.6 242.3h0M1297.5 392.7h0M1376.0 444.0h0M1380.6 448.3h0M1367.5 443.4h0M1149.2 289.5h0M1158.2 239.4h0M1182.9 262.9h0M1307.8 397.8h0M1185.8 277.4h0M1188.1 271.9h0M1304.2 388.5h0M1217.0 176.0h0M1194.2 167.8h0M1202.3 167.0h0M1182.4 283.2h0M1376.9 460.6h0M1171.2 257.3h0M1159.1 259.2h0M1203.3 172.4h0M1197.4 164.4h0M1207.0 479.3h0M1314.3 391.0h0M1385.2 461.4h0M1162.5 260.2h0M1184.5 239.2h0M1372.1 463.2h0M1372.0 451.4h0M1366.5 445.7h0M1167.7 273.8h0M1365.4 457.8h0M1375.9 446.2h0M1174.0 273.8h0M1196.6 167.6h0M1151.8 228.8h0M1385.4 460.0h0M1216.0 166.2h0M1176.3 258.1h0M1211.1 477.2h0M1324.2 410.6h0M1170.4 268.1h0M1310.2 421.5h0M1308.1 412.5h0M1318.5 401.1h0M1145.2 279.5h0M1144.8 273.3h0M1202.5 183.2h0M1382.1 443.7h0M1180.4 268.9h0M1185.6 492.0h0M1153.7 258.4h0M1300.2 386.9h0M1172.0 265.8h0M1151.6 247.3h0M1304.3 417.3h0M1175.1 268.5h0M1309.1 394.4h0M1182.5 505.6h0M1314.2 420.7h0M1300.6 392.1h0M1375.6 455.2h0M1142.3 274.2h0M1204.3 242.6h0M1191.0 248.0h0M1340.8 448.3h0M1316.0 412.4h0M1174.5 278.7h0M1176.3 484.0h0M1180.0 262.0h0M1374.3 466.0h0M1189.3 481.2h0M1295.4 400.9h0M1176.7 489.7h0M1204.6 169.0h0M1173.7 228.0h0M1169.1 231.7h0M1186.3 495.3h0M1170.9 228.6h0M1314.3 414.4h0M1167.5 297.7h0M1210.6 178.5h0M1184.2 241.4h0M1156.6 253.9h0M1171.1 494.6h0M1350.0 457.0h0M1218.7 172.4h0M1393.1 445.6h0M1206.4 167.6h0M1161.8 227.3h0M1187.6 282.6h0M1146.6 240.3h0M1316.8 409.6h0M1202.2 175.2h0M1167.6 244.4h0M1321.6 396.0h0M1339.1 449.1h0M1309.1 399.6h0M1179.6 486.6h0M1369.0 446.6h0M1175.1 504.7h0M1305.7 406.0h0M1139.4 277.7h0M1337.7 453.0h0" stroke="#dac8c8" stroke-width="6.4" stroke-linecap="round"/>
<path d="M1176.4 501.2h0M1155.1 250.9h0M1150.0 236.2h0M1180.5 506.3h0M1492.8 202.3h0M1174.6 295.7h0M1173.6 287.8h0M1204.7 244.1h0M1301.8 388.7h0M1156.5 248.9h0M1494.2 201.9h0M1153.5 242.2h0M1317.7 417.6h0M1397.4 437.9h0M1381.9 463.2h0M1397.1 443.3h0M1378.6 443.8h0M1163.4 237.2h0M1168.3 290.2h0M1157.9 234.3h0M1160.4 234.6h0M1158.5 245.6h0M1170.5 225.3h0M1171.9 492.3h0M1384.5 443.1h0M1205.9 480.5h0M1178.3 284.5h0M1170.3 291.1h0M1296.4 412.5h0M1380.3 446.4h0M1165.0 227.2h0M1175.1 231.7h0M1152.1 233.7h0M1172.5 298.6h0M1155.2 239.0h0M1388.2 444.1h0M1149.1 254.4h0M1186.4 498.3h0M1153.9 256.0h0M1170.3 289.1h0M1491.0 199.2h0M1204.1 481.0h0M1201.1 478.2h0M1290.8 397.9h0M1172.7 237.6h0M1161.3 251.4h0M1163.6 227.0h0M1399.7 448.2h0M1377.4 448.7h0M1165.9 259.3h0M1195.1 486.6h0M1171.4 296.7h0M1297.6 402.4h0M1168.6 240.0h0M1158.7 236.6h0M1310.7 409.8h0M1168.7 228.1h0M1183.0 501.8h0M1166.6 495.9h0M1149.6 243.2h0M1405.7 441.1h0M1152.3 227.7h0M1156.3 227.8h0M1390.0 451.8h0M1181.1 498.8h0M1193.1 480.6h0M1155.5 241.7h0M1199.3 241.4h0M1159.0 242.1h0M1186.0 239.7h0M1187.1 493.9h0M1145.9 276.0h0M1192.1 487.6h0M1206.7 475.5h0M1186.0 244.8h0M1389.5 451.1h0M1150.7 239.1h0M1144.7 246.2h0M1389.7 446.3h0M1201.3 476.7h0M1169.0 248.8h0M1297.3 398.4h0M1208.1 239.1h0M1203.6 482.1h0M1377.2 458.1h0M1385.2 443.5h0M1197.3 247.1h0M1151.6 245.2h0M1169.2 294.0h0M1199.1 483.2h0M1205.0 175.9h0" stroke="#cbcbd9" stroke-width="6.4" stroke-linecap="round"/>
<path d="M1151.3 268.8h0M1206.1 185.0h0M1216.0 173.1h0M1383.5 451.6h0M1338.9 448.1h0M1220.4 175.3h0M1172.0 279.3h0M1202.5 178.1h0M1223.7 178.5h0M1370.7 465.8h0M1303.7 403.1h0M1159.8 283.3h0M1198.2 175.0h0M1365.5 463.3h0M1149.0 285.1h0M1188.7 495.4h0M1194.7 248.4h0M1173.0 486.4h0M1361.3 454.9h0M1373.0 456.8h0M1154.6 268.3h0M1210.9 473.3h0M1185.1 271.4h0M1161.3 279.1h0M1163.5 265.6h0M1155.5 283.3h0M1321.4 406.7h0M1209.4 189.4h0M1314.4 395.3h0M1190.0 275.1h0M1201.6 179.7h0M1344.4 449.3h0M1200.6 172.9h0M1158.1 267.3h0M1312.5 417.0h0M1181.7 266.1h0M1183.9 284.7h0M1364.9 460.3h0M1311.9 406.4h0M1160.3 257.6h0M1176.7 265.9h0M1163.9 274.1h0M1374.5 460.2h0M1370.4 449.2h0M1194.1 246.9h0M1177.1 262.9h0M1166.0 277.6h0M1209.0 169.2h0M1201.3 182.0h0M1318.6 389.0h0M1303.3 386.8h0M1153.8 272.0h0M1158.8 290.5h0M1311.6 427.0h0M1188.1 279.3h0M1152.8 291.4h0M1212.3 164.3h0M1310.8 392.4h0M1191.0 275.8h0M1152.6 276.0h0M1319.4 397.2h0M1178.2 268.4h0M1317.1 420.1h0M1149.7 289.1h0M1188.6 277.1h0M1304.8 383.0h0M1309.8 404.1h0M1192.8 241.5h0M1180.2 280.4h0M1375.5 466.0h0M1215.6 183.5h0M1156.3 271.0h0M1213.3 183.4h0M1376.7 468.4h0M1170.5 274.3h0M1300.2 398.2h0M1200.1 167.4h0M1211.9 176.3h0M1361.2 442.6h0M1298.4 389.6h0M1169.7 251.3h0M1152.3 253.8h0M1150.0 231.7h0M1181.3 240.2h0M1182.9 486.2h0M1162.5 253.0h0M1210.8 476.0h0M1189.8 483.8h0M1212.0 186.4h0M1149.9 283.5h0M1303.2 397.7h0M1371.1 454.6h0M1186.8 240.9h0M1156.4 287.9h0M1211.7 169.4h0M1147.1 281.7h0M1185.8 490.7h0M1220.6 178.4h0M1189.9 250.9h0M1212.1 166.7h0M1139.8 271.3h0M1153.6 247.3h0M1179.5 260.4h0M1148.9 280.6h0M1303.4 392.1h0M1348.7 443.7h0M1364.6 444.1h0M1318.1 389.6h0M1175.3 262.4h0M1208.8 173.4h0M1168.7 491.7h0M1179.5 489.2h0M1369.2 452.2h0M1186.1 268.6h0M1213.9 474.9h0M1314.1 423.5h0M1177.5 280.6h0M1187.4 274.0h0M1168.0 280.3h0M1378.3 465.8h0M1369.2 457.5h0M1390.4 455.2h0M1179.1 270.2h0M1162.7 294.4h0M1344.7 444.0h0M1336.9 457.9h0M1153.8 269.2h0M1176.1 270.9h0M1348.9 448.3h0M1168.0 256.7h0M1154.9 278.8h0M1160.8 273.2h0M1183.9 246.0h0M1183.1 492.4h0M1315.6 417.6h0M1206.7 192.4h0M1215.4 170.1h0M1319.7 409.1h0M1183.5 502.3h0M1347.3 455.6h0M1163.5 270.7h0M1188.0 244.2h0M1176.3 283.4h0M1309.3 418.7h0M1178.4 281.9h0M1216.4 164.5h0M1168.5 285.0h0M1191.4 238.0h0M1350.3 452.1h0M1172.5 258.0h0M1317.1 402.4h0M1315.8 397.1h0M1334.6 447.8h0M1339.5 451.3h0M1204.5 183.2h0" stroke="#debcbc" stroke-width="6.4" stroke-linecap="round"/>
<path d="M1173.4 222.4h0M1379.4 451.5h0M1404.1 444.2h0M1147.1 239.5h0M1177.4 297.4h0M1383.5 446.6h0M1398.2 443.8h0M1200.0 480.1h0M1402.2 438.0h0M1299.2 395.6h0M1153.9 236.3h0M1167.2 233.7h0M1296.7 409.1h0M1174.2 298.5h0M1490.1 195.1h0M1148.1 246.6h0M1291.7 400.9h0M1154.3 228.5h0M1301.1 399.9h0M1385.9 452.6h0M1162.8 243.3h0M1187.1 238.3h0M1492.4 203.8h0M1199.1 239.7h0M1154.2 234.7h0M1173.6 292.6h0M1398.9 440.1h0M1170.0 225.7h0M1298.6 411.6h0M1399.4 439.8h0M1388.1 457.8h0M1173.8 235.2h0M1197.4 476.3h0M1171.6 499.0h0M1161.1 240.3h0M1371.8 443.6h0M1501.2 210.4h0M1158.9 253.2h0" stroke="#bfc1dd" stroke-width="6.4" stroke-linecap="round"/>
<path d="M1182.3 486.6h0M1207.1 188.9h0M1143.2 283.0h0M1377.7 465.6h0M1360.3 464.9h0M1316.4 386.3h0M1351.9 460.9h0M1215.0 181.6h0M1179.2 487.0h0M1352.6 464.9h0M1333.7 457.9h0M1166.6 270.8h0M1313.1 398.3h0M1343.3 451.9h0M1339.1 454.0h0M1182.2 271.3h0M1317.6 383.8h0M1315.2 388.6h0M1150.0 270.4h0M1217.2 178.2h0M1198.6 169.0h0M1314.0 386.5h0M1176.3 492.9h0M1217.2 170.4h0M1304.3 380.8h0M1165.3 283.0h0M1306.4 402.7h0M1164.6 261.7h0M1302.3 383.3h0M1310.2 398.2h0M1203.3 184.4h0M1337.1 461.3h0M1354.6 449.0h0M1157.9 278.8h0M1321.5 407.3h0M1174.0 484.1h0M1163.7 296.8h0M1345.3 443.8h0M1367.2 460.7h0M1343.6 439.5h0M1361.5 442.9h0M1166.6 487.9h0M1341.4 454.2h0M1171.9 271.7h0M1312.3 388.9h0M1359.9 457.5h0M1348.9 447.1h0M1172.4 282.7h0M1323.8 415.2h0M1363.7 448.4h0M1210.9 181.8h0M1168.9 282.1h0M1168.7 267.5h0M1175.5 487.0h0M1365.5 455.5h0M1319.6 392.9h0M1366.2 452.6h0M1219.9 168.1h0M1169.7 271.9h0M1352.3 446.6h0M1345.3 455.5h0M1358.7 454.0h0M1160.5 287.4h0M1358.8 450.0h0M1203.9 181.0h0M1357.7 443.9h0M1305.8 400.8h0M1356.8 452.9h0M1317.3 391.8h0M1376.8 463.1h0M1363.8 451.2h0M1357.0 467.5h0M1354.5 460.0h0M1322.5 418.4h0M1368.1 454.0h0M1155.4 285.8h0M1363.7 456.7h0M1215.9 475.8h0M1179.3 264.7h0M1147.4 287.0h0M1369.6 464.0h0M1155.9 236.3h0M1164.1 284.7h0M1313.9 425.6h0M1209.7 192.3h0M1360.9 460.2h0M1353.4 452.2h0M1356.1 445.7h0M1318.9 394.1h0M1362.1 447.0h0M1360.6 453.0h0M1299.4 383.1h0M1150.4 280.7h0M1183.1 276.7h0M1155.2 260.9h0M1183.3 268.6h0M1308.2 388.3h0M1169.2 276.8h0M1157.2 273.0h0M1187.6 248.3h0M1301.8 382.1h0M1155.8 292.4h0M1342.8 456.8h0M1157.9 286.0h0M1360.2 463.0h0M1163.0 277.1h0M1159.7 276.1h0M1362.3 449.7h0M1320.7 399.7h0M1154.3 290.4h0M1371.7 461.0h0M1316.8 426.6h0M1346.3 452.5h0M1349.0 459.9h0M1150.6 273.2h0M1339.1 459.6h0" stroke="#e2b0b0" stroke-width="6.4" stroke-linecap="round"/>
<path d="M1172.3 293.5h0M1497.5 209.3h0M1492.2 198.3h0M1500.2 206.6h0M1495.0 200.6h0M1500.5 205.4h0M1494.6 206.7h0M1204.4 239.1h0M1495.8 204.7h0M1490.5 200.1h0M1496.7 204.5h0M1384.6 449.0h0M1498.4 202.6h0M1160.3 247.2h0M1182.4 520.5h0M1173.5 291.1h0M1499.1 208.2h0M1488.6 196.9h0" stroke="#b4b8e2" stroke-width="6.4" stroke-linecap="round"/>
<path d="M1338.9 454.0h0M1307.5 386.1h0M1210.7 187.1h0M1317.5 426.9h0M1155.3 274.8h0M1357.3 458.0h0M1322.6 435.1h0M1310.7 377.0h0M1218.5 161.5h0M1320.5 426.9h0M1317.4 379.2h0M1327.6 419.7h0M1306.4 380.6h0M1311.0 386.0h0M1164.3 279.3h0M1320.1 429.2h0M1358.9 459.6h0M1172.0 276.9h0M1366.1 465.3h0M1355.0 445.5h0M1321.4 424.0h0M1309.8 381.3h0M1345.0 459.8h0M1356.4 463.3h0M1362.4 463.3h0M1353.2 463.3h0M1152.9 283.1h0M1219.1 182.0h0M1163.5 283.3h0M1326.7 417.2h0M1345.8 464.3h0M1324.8 416.8h0M1162.3 287.4h0M1317.6 423.9h0M1159.4 294.9h0M1303.6 378.9h0M1170.2 264.5h0M1210.9 164.3h0M1358.4 465.9h0M1345.8 445.4h0M1312.0 384.2h0M1318.1 383.1h0M1161.2 286.3h0M1353.8 456.8h0M1312.7 378.4h0M1346.3 458.3h0M1320.4 385.3h0M1339.9 457.4h0M1344.0 447.2h0" stroke="#e4a3a3" stroke-width="6.4" stroke-linecap="round"/>
<path d="M1487.1 197.8h0M1503.7 207.4h0M1164.2 233.9h0M1173.9 297.3h0M1476.8 188.3h0M1502.1 208.8h0M1500.7 210.7h0M1480.6 189.7h0M1489.9 201.2h0M1175.0 510.2h0" stroke="#a4a8e3" stroke-width="6.4" stroke-linecap="round"/>
<path d="M1341.3 465.5h0M1344.1 466.1h0M1341.6 459.8h0M1307.0 392.7h0M1349.7 463.2h0M1345.4 466.7h0M1351.9 454.3h0M1314.7 384.0h0M1320.9 420.8h0M1337.6 464.8h0M1336.5 449.2h0M1214.4 468.8h0M1340.3 429.9h0M1214.0 176.3h0M1346.8 437.1h0M1222.0 177.4h0M1340.5 462.8h0M1337.5 422.3h0M1322.5 428.2h0M1309.0 379.8h0M1214.0 472.5h0M1314.7 378.0h0M1313.2 379.9h0M1315.9 380.2h0M1213.4 471.2h0M1324.1 420.1h0" stroke="#e69696" stroke-width="6.4" stroke-linecap="round"/>
<path d="M1483.2 191.3h0M1483.7 197.0h0M1481.8 193.0h0M1485.4 193.8h0M1484.5 195.1h0M1477.8 191.9h0M1472.6 187.3h0" stroke="#9597e5" stroke-width="6.4" stroke-linecap="round"/>
<path d="M1477.8 186.6h0M1472.2 181.0h0M1474.0 184.2h0M1182.0 515.0h0M1475.5 188.8h0M1469.5 183.9h0M1480.9 187.7h0M1178.5 509.4h0M1185.5 518.6h0M1173.7 510.2h0M1177.2 520.9h0M1178.1 514.5h0M1478.6 190.5h0M1176.5 515.4h0M1183.2 514.4h0M1180.0 518.6h0M1475.7 183.7h0" stroke="#8587e6" stroke-width="6.4" stroke-linecap="round"/>
<path d="M1343.2 473.4h0M1332.3 428.2h0M1334.2 429.6h0M1342.9 464.2h0M1332.6 420.7h0M1342.1 471.7h0M1218.2 182.2h0M1324.2 423.4h0M1215.4 183.9h0M1309.5 383.0h0M1337.9 425.2h0M1327.8 428.5h0M1350.6 449.4h0M1337.7 463.7h0M1339.4 474.7h0M1335.6 429.6h0M1326.2 433.4h0M1332.6 421.1h0M1215.2 470.6h0M1322.9 425.4h0" stroke="#e98989" stroke-width="6.4" stroke-linecap="round"/>
<path d="M1471.9 182.4h0M1181.7 509.9h0M1175.9 517.1h0M1182.0 510.2h0M1486.4 192.8h0M1481.4 193.9h0M1470.7 182.8h0M1486.2 198.8h0M1179.0 520.2h0M1484.0 191.1h0M1177.9 517.9h0M1478.0 185.9h0M1178.0 513.1h0" stroke="#7676e7" stroke-width="6.4" stroke-linecap="round"/>
<path d="M1337.8 466.4h0M1337.6 469.4h0M1342.8 470.6h0M1330.0 419.7h0M1329.1 418.6h0M1337.6 428.6h0M1217.5 469.4h0M1335.8 423.8h0M1329.0 427.1h0M1339.6 468.2h0M1216.5 469.9h0M1330.4 419.0h0M1331.7 422.9h0M1326.6 425.6h0M1324.3 431.9h0M1332.5 429.0h0M1327.5 424.0h0" stroke="#eb7c7c" stroke-width="6.4" stroke-linecap="round"/>
<path d="M1324.5 430.6h0M1324.5 428.9h0M1343.5 468.7h0M1337.8 471.7h0M1333.5 426.1h0" stroke="#ed6f6f" stroke-width="6.4" stroke-linecap="round"/>
<path d="M1473.3 185.0h0M1183.2 507.2h0M1173.3 514.0h0M1180.6 512.2h0" stroke="#6868ea" stroke-width="6.4" stroke-linecap="round"/>
<path d="M1335.8 426.8h0" stroke="#f06060" stroke-width="6.4" stroke-linecap="round"/>
<ellipse cx="1487.4" cy="197.3" rx="32.5" ry="15.5" transform="rotate(40 1487.4 197.3)" fill="none" stroke="#0000e0" stroke-width="3.7" stroke-dasharray="13.5 4.5"/>
<text x="1448.0" y="227.7" font-size="20.5" text-anchor="middle" font-weight="bold" fill="#0000c8">CD4+</text>
<text x="1448.0" y="252.7" font-size="20.5" text-anchor="middle" font-weight="bold" fill="#0000c8">CD57-</text>
<text x="1448.0" y="277.7" font-size="20.5" text-anchor="middle" font-weight="bold" fill="#0000c8">Helios+</text>
<text x="1260.3" y="476.6" font-size="20.5" text-anchor="middle" font-weight="bold" fill="#0000c8">CD8a+</text>
<text x="1260.3" y="501.6" font-size="20.5" text-anchor="middle" font-weight="bold" fill="#0000c8">CD57+</text>
<text x="1260.3" y="526.6" font-size="20.5" text-anchor="middle" font-weight="bold" fill="#0000c8">CD101+</text>
<path d="M1215.7 518.4H1205.4" stroke="#0000ee" stroke-width="3.6"/><path d="M1191.4 518.4L1207.4 511.65L1204.4 518.4L1207.4 525.15Z" fill="#0000ee"/>
<text x="1316.7" y="594.8" font-size="28.3" text-anchor="middle">UMAP1</text>
<text transform="translate(1085 358) rotate(-90)" font-size="28.3" text-anchor="middle">UMAP2</text>
<text x="1608.5" y="43" font-size="57.5" font-weight="bold" transform="translate(1608.5 0) scale(1.02 1) translate(-1608.5 0)">d</text>
<text x="1884.6" y="36.8" font-size="29.2" text-anchor="middle"><tspan font-style="italic">P</tspan>-value &lt; 0.05</text>
<rect x="1783.5" y="52.8" width="103.1" height="33.6" fill="#c8c8c8"/><rect x="1886.6" y="52.8" width="104.4" height="33.6" fill="#000"/>
<rect x="1783.5" y="52.8" width="207.5" height="33.6" fill="none" stroke="#000" stroke-width="2.4"/>
<text x="1837.2" y="117.4" font-size="29.8" text-anchor="middle">No</text>
<text x="1942.8" y="117.4" font-size="29.2" text-anchor="middle">Yes</text>
<rect x="1691.6" y="150.3" width="392.9" height="381.5" fill="none" stroke="#333333" stroke-width="1.6"/>
<path d="M1726.2 531.8v12.8M1827.9 531.8v12.8M1929.7 531.8v12.8M2031.4 531.8v12.8M1691.6 452.5h-12.3M1691.6 337.6h-12.3M1691.6 222.8h-12.3" stroke="#333333" stroke-width="1.6"/>
<text x="1726.2" y="565.3" font-size="20.7" text-anchor="middle">−5</text>
<text x="1827.9" y="565.3" font-size="20.7" text-anchor="middle">0</text>
<text x="1929.7" y="565.3" font-size="20.7" text-anchor="middle">5</text>
<text x="2031.4" y="565.3" font-size="20.7" text-anchor="middle">10</text>
<text transform="translate(1673.5 452.5) rotate(-90)" font-size="20.7" text-anchor="middle">−5</text>
<text transform="translate(1673.5 337.6) rotate(-90)" font-size="20.7" text-anchor="middle">0</text>
<text transform="translate(1673.5 222.8) rotate(-90)" font-size="20.7" text-anchor="middle">5</text>
<path d="M1763.7 167.1h0M1767.3 166.9h0M1769.5 166.5h0M1773.6 167.2h0M1776.6 166.6h0M1779.3 166.2h0M1783.2 165.7h0M1765.7 168.6h0M1768.5 168.7h0M1771.8 168.5h0M1776.2 168.7h0M1778.9 168.9h0M1782.6 169.6h0M1784.4 170.0h0M1767.8 172.4h0M1770.4 171.9h0M1773.4 171.6h0M1776.0 172.9h0M1780.1 172.2h0M1783.2 172.6h0M1785.9 171.9h0M1769.4 174.7h0M1772.1 175.4h0M1775.0 175.0h0M1779.1 175.8h0M1781.2 175.8h0M1784.2 175.5h0M1769.7 177.6h0M1773.0 177.5h0M1777.8 178.0h0M1779.9 177.4h0M1784.4 177.7h0M1787.8 177.9h0M1768.5 181.5h0M1771.1 180.6h0M1775.3 181.6h0M1778.0 181.3h0M1782.2 181.1h0M1785.4 181.7h0M1770.5 183.9h0M1773.2 184.5h0M1776.8 183.8h0M1780.5 182.9h0M1782.6 183.4h0M1774.7 185.9h0M1777.9 186.5h0M1774.3 188.4h0M1776.6 188.9h0M1761.3 167.3h0M1764.6 164.0h0M1768.9 166.4h0M1773.4 166.0h0M1779.5 163.8h0M1778.1 163.9h0M1783.6 164.0h0M1785.7 161.1h0M1785.3 164.4h0M1787.1 167.6h0M1787.6 174.8h0M1789.2 176.9h0M1790.9 178.1h0M1786.3 181.5h0M1782.7 183.0h0M1779.2 185.9h0M1776.9 191.7h0M1773.9 191.9h0M1771.7 182.7h0M1769.6 182.7h0M1768.7 179.2h0M1765.3 174.5h0M1762.0 171.0h0M1737.1 225.2h0M1718.8 228.3h0M1721.4 228.0h0M1724.4 227.7h0M1728.8 226.7h0M1732.1 226.7h0M1735.8 227.6h0M1738.0 228.1h0M1717.0 231.1h0M1720.4 230.8h0M1723.2 230.6h0M1726.4 231.0h0M1729.7 230.4h0M1733.8 230.5h0M1736.2 231.1h0M1739.6 231.2h0M1715.3 234.2h0M1719.2 233.1h0M1721.2 234.1h0M1725.0 233.7h0M1727.5 234.1h0M1731.2 233.3h0M1734.3 233.2h0M1738.8 234.0h0M1717.0 235.6h0M1721.0 235.8h0M1723.0 235.7h0M1725.8 236.0h0M1730.5 236.6h0M1732.6 235.5h0M1736.2 236.7h0M1739.8 237.0h0M1714.1 239.0h0M1717.7 238.6h0M1722.3 238.4h0M1725.2 238.9h0M1728.1 239.7h0M1730.9 239.9h0M1735.7 239.4h0M1737.3 239.4h0M1713.9 242.3h0M1716.6 242.6h0M1720.6 241.6h0M1722.5 241.2h0M1726.0 241.5h0M1729.9 242.8h0M1732.8 242.7h0M1736.9 242.6h0M1715.3 244.4h0M1718.7 244.7h0M1722.4 244.3h0M1725.5 245.0h0M1728.8 244.5h0M1732.1 245.2h0M1734.7 243.8h0M1717.5 247.6h0M1720.7 246.8h0M1723.5 248.4h0M1727.4 246.6h0M1730.0 247.4h0M1733.8 246.8h0M1736.1 248.2h0M1722.2 250.3h0M1724.5 250.2h0M1728.4 250.8h0M1731.7 249.7h0M1735.5 251.3h0M1719.4 253.3h0M1723.7 253.3h0M1726.0 252.6h0M1729.5 252.5h0M1732.7 252.6h0M1736.5 253.0h0M1720.9 255.4h0M1724.7 257.1h0M1727.4 257.0h0M1731.8 255.3h0M1735.0 256.1h0M1738.3 256.7h0M1724.0 258.5h0M1726.1 258.6h0M1729.5 259.6h0M1733.0 258.7h0M1736.8 258.4h0M1739.1 259.5h0M1743.7 258.7h0M1727.3 261.0h0M1731.7 261.1h0M1734.3 261.6h0M1737.3 261.0h0M1742.3 261.8h0M1744.2 262.3h0M1747.1 261.4h0M1726.8 265.7h0M1730.6 265.0h0M1733.3 263.8h0M1737.3 263.9h0M1739.1 265.2h0M1743.8 265.3h0M1746.4 264.1h0M1748.8 265.5h0M1720.8 268.6h0M1725.2 266.7h0M1728.3 267.6h0M1731.5 268.5h0M1735.8 266.9h0M1737.5 267.4h0M1742.2 267.9h0M1745.3 267.8h0M1747.5 268.3h0M1750.4 268.0h0M1713.5 270.1h0M1717.1 269.8h0M1720.9 271.4h0M1723.3 270.4h0M1727.4 270.1h0M1730.6 270.1h0M1733.7 270.2h0M1736.8 271.3h0M1739.0 271.1h0M1743.2 270.3h0M1746.2 269.6h0M1749.3 270.7h0M1752.2 270.8h0M1709.3 273.6h0M1711.8 272.7h0M1715.1 272.9h0M1717.6 272.6h0M1722.3 274.2h0M1724.3 272.4h0M1727.8 272.6h0M1731.0 273.5h0M1734.7 273.2h0M1737.6 273.7h0M1741.1 273.1h0M1744.7 274.2h0M1747.6 273.8h0M1751.0 274.1h0M1754.5 273.4h0M1706.5 277.1h0M1709.2 275.5h0M1712.9 275.4h0M1716.7 276.4h0M1719.7 275.4h0M1724.0 276.8h0M1726.8 275.5h0M1730.0 276.5h0M1733.1 276.9h0M1736.3 276.2h0M1739.1 276.3h0M1743.7 276.7h0M1746.0 277.2h0M1750.2 276.0h0M1752.9 276.8h0M1755.7 276.5h0M1709.3 278.7h0M1712.2 278.9h0M1716.0 279.9h0M1717.5 280.0h0M1721.9 278.2h0M1725.0 278.2h0M1728.4 278.4h0M1731.3 278.7h0M1735.1 279.7h0M1739.1 278.7h0M1741.6 278.1h0M1744.5 280.0h0M1747.3 279.8h0M1751.7 278.6h0M1755.3 278.6h0M1706.9 281.5h0M1710.3 282.4h0M1714.2 281.0h0M1716.9 282.9h0M1720.0 282.4h0M1722.5 282.7h0M1726.8 282.7h0M1730.5 282.7h0M1732.4 282.3h0M1735.9 281.4h0M1739.5 282.1h0M1743.4 282.8h0M1745.5 281.3h0M1749.5 282.5h0M1753.2 281.9h0M1712.0 285.0h0M1716.0 284.4h0M1718.2 285.0h0M1722.5 285.2h0M1724.9 285.4h0M1728.3 285.7h0M1731.2 284.0h0M1735.6 284.4h0M1738.9 285.0h0M1741.5 283.9h0M1745.4 283.9h0M1749.0 285.5h0M1751.0 284.0h0M1714.4 286.8h0M1716.8 288.5h0M1719.8 287.2h0M1723.5 287.3h0M1727.5 286.8h0M1729.4 286.8h0M1733.7 287.2h0M1737.3 288.4h0M1740.7 287.1h0M1742.1 287.4h0M1721.3 289.7h0M1725.8 289.9h0M1727.3 291.3h0M1731.8 290.8h0M1735.4 289.6h0M1737.4 290.5h0M1740.6 290.5h0M1729.7 293.8h0M1733.2 293.2h0M1736.3 293.3h0M1739.4 292.8h0M1738.4 296.1h0M1740.9 296.6h0M1719.4 227.1h0M1723.4 227.2h0M1726.8 226.0h0M1730.6 226.5h0M1734.1 225.6h0M1737.6 224.7h0M1740.5 221.9h0M1740.8 227.5h0M1742.2 231.2h0M1740.9 234.6h0M1740.6 236.2h0M1737.3 242.8h0M1737.0 246.8h0M1736.8 250.7h0M1739.6 257.4h0M1743.4 257.5h0M1746.6 259.8h0M1750.0 262.3h0M1753.2 268.0h0M1755.2 271.3h0M1757.2 274.4h0M1758.1 275.2h0M1758.2 277.6h0M1754.7 282.0h0M1751.1 285.0h0M1746.2 285.3h0M1740.7 291.9h0M1741.7 295.0h0M1744.5 296.7h0M1741.3 297.9h0M1739.6 298.0h0M1734.6 297.0h0M1730.7 296.1h0M1726.4 294.3h0M1722.9 291.8h0M1719.8 290.8h0M1716.2 288.9h0M1714.4 286.3h0M1709.3 284.6h0M1705.5 283.8h0M1706.4 279.3h0M1703.5 276.7h0M1703.5 273.3h0M1706.8 270.7h0M1711.2 271.1h0M1713.9 268.0h0M1718.3 268.2h0M1721.6 267.7h0M1727.2 261.5h0M1722.2 260.3h0M1720.8 257.8h0M1716.1 253.9h0M1718.7 246.7h0M1715.1 246.0h0M1711.7 245.6h0M1713.6 239.8h0M1715.2 236.0h0M1713.5 232.3h0M1716.0 228.2h0M1753.2 239.2h0M1755.8 239.2h0M1766.3 239.1h0M1751.3 240.9h0M1753.9 240.3h0M1758.2 240.9h0M1760.0 240.9h0M1763.7 241.8h0M1766.4 240.8h0M1771.5 242.0h0M1753.1 244.2h0M1755.2 243.6h0M1758.9 243.8h0M1761.6 244.0h0M1765.6 243.7h0M1768.8 243.8h0M1754.7 247.7h0M1758.1 247.4h0M1761.2 246.3h0M1764.5 246.5h0M1766.9 246.3h0M1748.5 239.6h0M1751.6 238.6h0M1754.3 237.7h0M1758.5 237.4h0M1761.7 236.2h0M1768.3 237.2h0M1771.6 238.6h0M1772.8 237.7h0M1775.3 238.6h0M1771.8 243.5h0M1768.1 245.4h0M1765.2 247.0h0M1761.8 247.8h0M1757.1 250.3h0M1752.0 249.6h0M1751.0 245.4h0M1749.7 241.5h0M1880.1 377.7h0M1871.7 380.0h0M1873.8 379.8h0M1877.2 380.6h0M1880.6 379.1h0M1883.3 379.4h0M1866.8 382.3h0M1869.7 382.6h0M1872.2 382.3h0M1876.9 382.3h0M1879.4 383.5h0M1882.2 383.2h0M1885.1 383.0h0M1867.6 386.1h0M1870.7 386.0h0M1874.9 385.4h0M1878.4 385.2h0M1881.4 385.7h0M1883.9 385.5h0M1866.8 388.0h0M1869.2 388.0h0M1871.7 387.7h0M1875.6 387.5h0M1879.8 388.1h0M1882.7 387.9h0M1885.6 388.8h0M1864.9 392.0h0M1868.0 391.3h0M1870.8 391.3h0M1874.4 391.9h0M1878.2 391.6h0M1881.7 390.3h0M1884.7 391.1h0M1859.0 394.5h0M1863.0 393.8h0M1866.6 394.8h0M1869.3 394.8h0M1871.9 393.3h0M1876.5 393.6h0M1879.4 394.0h0M1881.8 394.5h0M1886.3 393.3h0M1858.2 397.2h0M1862.0 397.6h0M1864.7 397.7h0M1867.6 397.5h0M1870.6 396.9h0M1875.3 397.1h0M1877.6 397.4h0M1880.5 397.5h0M1883.2 396.3h0M1886.9 396.4h0M1859.9 399.8h0M1862.8 400.1h0M1866.3 399.4h0M1868.5 399.1h0M1873.2 400.0h0M1876.5 398.8h0M1880.1 399.5h0M1883.4 399.9h0M1885.9 400.4h0M1860.5 402.4h0M1865.0 401.7h0M1868.4 403.6h0M1871.1 402.3h0M1873.8 401.9h0M1877.2 403.3h0M1879.9 403.2h0M1884.5 401.6h0M1886.6 403.0h0M1862.0 405.0h0M1866.0 404.7h0M1868.6 405.7h0M1873.1 405.2h0M1875.7 404.9h0M1879.3 405.6h0M1883.4 404.5h0M1886.7 406.4h0M1888.8 405.9h0M1864.1 408.3h0M1868.7 408.6h0M1871.0 407.4h0M1873.5 409.0h0M1878.1 409.0h0M1881.1 408.4h0M1884.3 408.8h0M1887.2 408.3h0M1866.0 410.9h0M1868.9 411.5h0M1872.3 411.3h0M1875.5 411.7h0M1879.0 411.1h0M1883.4 411.6h0M1886.3 410.8h0M1889.8 410.9h0M1870.2 413.2h0M1874.6 414.5h0M1878.4 413.7h0M1881.8 413.6h0M1885.1 414.8h0M1886.8 414.7h0M1891.2 414.4h0M1871.8 416.5h0M1876.8 417.9h0M1880.0 416.2h0M1883.1 416.8h0M1885.2 416.8h0M1890.0 417.6h0M1892.2 416.0h0M1896.6 417.8h0M1874.7 420.2h0M1877.6 420.7h0M1881.6 419.9h0M1884.6 419.3h0M1888.4 420.0h0M1891.6 419.3h0M1895.1 418.9h0M1897.5 418.9h0M1900.1 420.2h0M1879.5 422.1h0M1881.6 422.7h0M1885.0 423.1h0M1888.8 423.2h0M1891.6 422.6h0M1895.0 423.1h0M1899.2 422.1h0M1903.3 423.0h0M1884.2 425.7h0M1887.9 426.1h0M1890.3 424.6h0M1894.0 424.8h0M1896.4 426.3h0M1901.0 425.3h0M1903.3 426.0h0M1889.9 427.4h0M1892.0 428.1h0M1895.3 427.6h0M1899.8 427.3h0M1901.7 428.8h0M1905.1 427.8h0M1891.8 431.0h0M1878.1 376.3h0M1882.2 377.2h0M1884.9 378.4h0M1885.5 382.3h0M1887.9 384.5h0M1886.0 388.2h0M1887.1 392.1h0M1889.0 395.2h0M1888.2 399.0h0M1888.9 406.5h0M1891.7 409.8h0M1894.1 416.4h0M1897.8 418.2h0M1900.1 419.9h0M1905.0 421.5h0M1905.4 424.4h0M1907.8 429.0h0M1903.1 428.7h0M1900.0 428.2h0M1891.9 429.8h0M1893.7 432.5h0M1890.0 434.2h0M1887.5 428.4h0M1884.9 426.1h0M1881.3 424.8h0M1879.0 426.2h0M1873.8 421.3h0M1870.9 413.9h0M1867.0 412.1h0M1863.8 411.7h0M1862.9 408.1h0M1861.4 403.4h0M1859.0 400.1h0M1855.8 400.4h0M1858.2 396.0h0M1857.9 395.3h0M1860.6 391.7h0M1865.8 388.8h0M1864.7 382.7h0M1869.2 381.3h0M1871.0 378.2h0M1876.5 379.1h0M1967.1 439.0h0M1970.2 438.9h0M1912.8 443.0h0M1916.2 442.9h0M1929.0 442.1h0M1932.1 443.2h0M1938.4 443.2h0M1946.2 443.0h0M1949.7 442.9h0M1952.8 442.7h0M1955.8 443.3h0M1965.8 443.0h0M1969.4 442.3h0M1971.8 443.4h0M1911.5 446.4h0M1913.3 444.5h0M1916.4 446.3h0M1919.8 445.8h0M1923.6 444.8h0M1926.8 445.8h0M1929.6 446.2h0M1934.0 444.9h0M1936.6 445.7h0M1940.8 445.1h0M1943.5 445.4h0M1947.9 445.5h0M1951.1 445.7h0M1953.8 445.4h0M1957.4 445.4h0M1960.7 444.8h0M1963.2 446.2h0M1966.7 446.1h0M1906.6 448.2h0M1908.3 447.4h0M1911.9 448.5h0M1916.4 447.5h0M1918.1 448.5h0M1922.2 448.2h0M1926.3 449.1h0M1929.9 448.8h0M1931.3 447.6h0M1935.7 449.2h0M1938.0 448.3h0M1941.9 448.1h0M1945.0 447.8h0M1948.2 447.5h0M1952.2 448.2h0M1955.8 448.6h0M1959.6 448.0h0M1905.1 452.2h0M1907.0 450.4h0M1910.8 451.0h0M1913.9 451.7h0M1917.8 451.3h0M1920.9 451.3h0M1924.4 452.0h0M1928.2 452.1h0M1931.3 450.4h0M1933.8 451.7h0M1936.8 451.4h0M1939.6 450.5h0M1943.6 450.3h0M1946.9 450.6h0M1951.1 450.8h0M1953.5 451.8h0M1957.1 450.2h0M1906.6 453.1h0M1908.9 453.4h0M1912.8 454.6h0M1914.9 454.7h0M1919.4 453.4h0M1923.2 453.6h0M1926.2 453.2h0M1928.9 454.0h0M1933.0 454.7h0M1935.6 453.1h0M1938.7 453.8h0M1943.1 454.4h0M1945.3 453.7h0M1949.3 453.2h0M1952.7 454.4h0M1955.2 454.4h0M1904.4 457.1h0M1907.4 456.6h0M1910.3 456.0h0M1913.8 457.4h0M1917.5 456.2h0M1921.3 455.9h0M1924.9 457.2h0M1927.4 456.7h0M1931.3 455.9h0M1932.9 456.9h0M1936.8 456.7h0M1940.6 455.9h0M1944.8 457.2h0M1946.3 457.3h0M1950.5 457.2h0M1954.2 457.8h0M1906.6 458.7h0M1909.1 459.0h0M1912.5 458.9h0M1916.5 459.1h0M1919.4 460.0h0M1922.0 459.2h0M1926.5 458.8h0M1928.4 459.4h0M1932.4 459.5h0M1934.8 459.9h0M1939.3 460.1h0M1942.1 459.3h0M1944.5 459.8h0M1949.0 459.6h0M1953.0 459.1h0M1905.1 462.9h0M1908.0 461.9h0M1910.4 463.3h0M1913.3 463.5h0M1917.3 462.4h0M1920.7 462.5h0M1923.9 462.4h0M1927.7 462.1h0M1929.9 462.4h0M1933.1 462.5h0M1937.2 463.2h0M1939.7 462.4h0M1944.4 462.3h0M1947.8 463.0h0M1949.5 462.4h0M1905.3 465.5h0M1908.8 464.7h0M1912.9 465.8h0M1925.9 465.1h0M1943.1 465.1h0M1945.9 464.9h0M1907.1 467.3h0M1911.0 467.8h0M1909.6 470.8h0M1902.1 446.9h0M1906.4 447.3h0M1912.2 443.2h0M1911.1 438.6h0M1914.3 436.2h0M1918.6 443.6h0M1922.5 444.7h0M1925.3 443.1h0M1928.8 441.8h0M1928.4 440.5h0M1935.1 442.6h0M1939.4 442.7h0M1943.6 443.1h0M1948.2 442.1h0M1952.1 442.3h0M1957.3 442.8h0M1964.8 442.5h0M1966.5 439.3h0M1965.0 437.1h0M1969.9 437.1h0M1972.6 440.4h0M1973.4 440.3h0M1972.5 446.2h0M1967.4 447.3h0M1963.6 449.3h0M1957.6 451.0h0M1958.0 454.3h0M1955.7 457.0h0M1952.8 460.5h0M1951.9 462.4h0M1949.0 465.5h0M1945.3 464.7h0M1944.3 467.5h0M1941.9 465.1h0M1938.2 464.9h0M1933.6 464.4h0M1927.9 464.1h0M1924.5 466.6h0M1920.1 464.0h0M1911.6 465.2h0M1910.3 469.7h0M1910.7 472.5h0M1906.9 473.8h0M1905.3 470.8h0M1905.1 468.5h0M1905.1 464.0h0M1904.6 460.4h0M1901.1 457.1h0M1906.3 453.1h0M1904.0 448.4h0M1743.4 483.1h0M1740.1 485.5h0M1742.6 486.1h0M1746.3 486.1h0M1749.5 485.7h0M1737.0 487.7h0M1741.8 489.5h0M1743.8 488.8h0M1746.6 488.4h0M1751.3 488.3h0M1735.8 490.8h0M1739.0 491.4h0M1743.4 492.0h0M1744.9 490.5h0M1750.2 491.5h0M1752.7 491.1h0M1738.2 493.7h0M1740.2 494.5h0M1744.9 493.9h0M1747.2 493.6h0M1751.1 494.8h0M1753.4 494.4h0M1738.7 498.1h0M1741.8 496.8h0M1746.1 497.0h0M1748.2 497.9h0M1752.0 497.0h0M1740.4 500.9h0M1743.4 500.3h0M1747.0 499.4h0M1750.1 500.9h0M1742.2 503.8h0M1746.4 502.4h0M1749.2 502.2h0M1740.6 504.8h0M1744.0 505.5h0M1747.6 505.4h0M1750.3 506.3h0M1742.1 509.3h0M1745.6 508.4h0M1749.1 509.2h0M1745.1 512.2h0M1747.7 511.3h0M1743.6 514.5h0M1745.2 513.6h0M1749.1 514.1h0M1745.0 516.9h0M1747.2 517.7h0M1733.6 487.0h0M1737.0 486.1h0M1741.0 485.4h0M1741.1 483.2h0M1745.1 482.9h0M1746.7 485.7h0M1750.0 485.3h0M1752.9 489.8h0M1754.2 493.0h0M1755.8 494.5h0M1753.5 497.4h0M1750.6 501.4h0M1749.6 504.7h0M1748.8 508.9h0M1750.3 513.4h0M1752.6 517.7h0M1749.5 519.5h0M1746.1 519.2h0M1744.3 520.0h0M1743.0 516.2h0M1740.4 513.1h0M1740.8 509.2h0M1742.1 504.5h0M1739.6 499.6h0M1737.5 496.5h0M1733.6 494.9h0M1734.3 490.7h0M1783.7 469.1h0M1778.1 472.4h0M1781.1 471.7h0M1773.9 474.7h0M1778.0 475.1h0M1781.1 474.0h0M1762.6 478.1h0M1768.3 477.3h0M1772.0 476.3h0M1774.9 477.3h0M1760.2 479.7h0M1763.7 479.3h0M1767.2 479.2h0M1771.3 480.1h0M1773.0 479.6h0M1758.6 482.7h0M1762.3 482.5h0M1766.3 482.3h0M1760.1 485.4h0M1756.4 480.4h0M1760.9 478.1h0M1764.6 475.4h0M1768.5 475.8h0M1772.4 473.4h0M1777.1 473.3h0M1780.5 470.3h0M1781.6 468.0h0M1784.7 468.6h0M1782.4 469.7h0M1783.1 475.0h0M1778.3 476.3h0M1774.2 478.5h0M1770.8 481.3h0M1767.1 483.7h0M1762.2 485.8h0M1762.0 487.7h0M1759.2 486.7h0M1756.9 482.9h0M2040.0 180.5h0M2039.7 181.9h0M2038.5 182.3h0M2037.3 183.4h0M2043.5 183.2h0M2041.8 183.7h0M2041.1 184.5h0M2040.4 186.8h0M2045.9 185.4h0M2045.6 186.1h0M2044.6 187.8h0M2043.3 188.3h0M2048.7 187.1h0M2048.4 189.2h0M2046.5 190.0h0M2045.6 191.4h0M2051.9 190.6h0M2051.0 190.8h0M2049.6 192.5h0M2049.2 193.4h0M2054.2 192.3h0M2053.3 193.3h0M2052.4 194.5h0M2051.6 196.5h0M2058.0 194.6h0M2056.5 196.4h0M2055.0 197.3h0M2054.0 198.3h0M2060.0 197.8h0M2058.9 198.7h0M2058.3 199.6h0M2057.7 200.7h0M2062.8 200.1h0M2062.0 201.3h0M2060.6 201.8h0M2060.3 203.2h0M2066.3 202.0h0M2064.6 204.0h0M2063.7 204.2h0M2062.5 206.1h0M2068.4 204.9h0M2068.1 206.1h0M2067.0 207.7h0M2065.4 208.7h0M2071.6 206.9h0M2070.0 208.2h0M2069.1 209.9h0M2068.6 210.2h0" stroke="#c8c8c8" stroke-width="6.4" stroke-linecap="round"/>
<path d="M1794.7 184.8h0M1789.5 186.5h0M1793.5 188.5h0M1797.5 182.5h0M1741.0 293.8h0M1899.5 421.0h0M1896.0 424.5h0M1901.0 424.0h0M1893.0 427.0h0M1907.5 470.3h0M1784.7 468.0h0M1744.2 516.9h0M2041.8 186.0h0M2047.7 185.1h0M2052.2 193.6h0M2062.8 199.2h0" stroke="#000" stroke-width="8.6" stroke-linecap="round"/>
<path d="M1870 418L1872.5 413.5M1915 461.5h3.5M1911 471L1918 468" stroke="#000" stroke-width="2.6" stroke-linecap="round"/>
<ellipse cx="2055" cy="196.7" rx="32.5" ry="15.5" transform="rotate(40 2055 196.7)" fill="none" stroke="#0000e0" stroke-width="3.7" stroke-dasharray="13.5 4.5"/>
<path d="M1783.5 517.3H1772.5" stroke="#0000ee" stroke-width="3.6"/><path d="M1758.5 517.3L1774.5 510.54999999999995L1771.5 517.3L1774.5 524.05Z" fill="#0000ee"/>
<text x="1884.0" y="594.8" font-size="28.3" text-anchor="middle">UMAP1</text>
<text transform="translate(1652.6 358.7) rotate(-90)" font-size="28.3" text-anchor="middle">UMAP2</text>
<text x="-0.4" y="696.3" font-size="58" font-weight="bold">e</text>
<text x="173.8" y="695.0" font-size="29.6" text-anchor="middle">CD4</text>
<rect x="72.3" y="709.0" width="203.1" height="199.7" fill="none" stroke="#333333" stroke-width="1.6"/>
<path d="M90.6 908.7v13.5M143.3 908.7v13.5M196.1 908.7v13.5M248.8 908.7v13.5M72.3 867.6h-13M72.3 807.4h-13M72.3 747.1h-13" stroke="#333333" stroke-width="1.6"/>
<text x="90.6" y="948.9" font-size="23" text-anchor="middle">−5</text>
<text x="143.3" y="948.9" font-size="23" text-anchor="middle">0</text>
<text x="196.1" y="948.9" font-size="23" text-anchor="middle">5</text>
<text x="248.8" y="948.9" font-size="23" text-anchor="middle">10</text>
<text transform="translate(49.6 867.6) rotate(-90)" font-size="23" text-anchor="middle">−5</text>
<text transform="translate(49.6 807.4) rotate(-90)" font-size="23" text-anchor="middle">0</text>
<text transform="translate(49.6 747.1) rotate(-90)" font-size="23" text-anchor="middle">5</text>
<g transform="translate(143.3 807.4)" stroke-linecap="round" stroke-width="4.1" fill="none"><use href="#pT10" stroke="#22a884"/><use href="#pT11" stroke="#38b777"/><use href="#pT12" stroke="#57c565"/><use href="#pT13" stroke="#7ad151"/><use href="#pT20" stroke="#22a884"/><use href="#pT21" stroke="#38b777"/><use href="#pT22" stroke="#57c565"/><use href="#pT23" stroke="#7ad151"/><use href="#pT30" stroke="#22a884"/><use href="#pT31" stroke="#38b777"/><use href="#pT32" stroke="#57c565"/><use href="#pT33" stroke="#7ad151"/><use href="#pL10" stroke="#29ad80"/><use href="#pL11" stroke="#3fbc73"/><use href="#pL12" stroke="#62c95f"/><use href="#pL13" stroke="#87d448"/><use href="#pL20" stroke="#22a386"/><use href="#pL21" stroke="#31b27b"/><use href="#pL22" stroke="#4cc26b"/><use href="#pL23" stroke="#6fcd57"/><use href="#pL3a0" stroke="#29ad80"/><use href="#pL3a1" stroke="#3fbc73"/><use href="#pL3a2" stroke="#62c95f"/><use href="#pL3a3" stroke="#87d448"/><use href="#pL3b0" stroke="#29ad80"/><use href="#pL3b1" stroke="#3fbc73"/><use href="#pL3b2" stroke="#62c95f"/><use href="#pL3b3" stroke="#87d448"/><use href="#pM10" stroke="#440154"/><use href="#pM11" stroke="#440154"/><use href="#pM12" stroke="#450d60"/><use href="#pM13" stroke="#482475"/><use href="#pM20" stroke="#440154"/><use href="#pM21" stroke="#440154"/><use href="#pM22" stroke="#450d60"/><use href="#pM23" stroke="#482475"/><use href="#pM30" stroke="#440154"/><use href="#pM31" stroke="#440154"/><use href="#pM32" stroke="#450d60"/><use href="#pM33" stroke="#482475"/><use href="#pM40" stroke="#440154"/><use href="#pM41" stroke="#440154"/><use href="#pM42" stroke="#450d60"/><use href="#pM43" stroke="#482475"/><use href="#pM50" stroke="#440154"/><use href="#pM51" stroke="#440154"/><use href="#pM52" stroke="#450d60"/><use href="#pM53" stroke="#482475"/><use href="#pB10" stroke="#440154"/><use href="#pB11" stroke="#440154"/><use href="#pB12" stroke="#461466"/><use href="#pB13" stroke="#472a79"/><use href="#pB20" stroke="#440154"/><use href="#pB21" stroke="#440154"/><use href="#pB22" stroke="#461466"/><use href="#pB23" stroke="#472a79"/><use href="#pB30" stroke="#440154"/><use href="#pB31" stroke="#440154"/><use href="#pB32" stroke="#461466"/><use href="#pB33" stroke="#472a79"/><use href="#pR10" stroke="#22a884"/><use href="#pR11" stroke="#38b777"/><use href="#pR12" stroke="#57c565"/><use href="#pR13" stroke="#7ad151"/><use href="#pR20" stroke="#22a884"/><use href="#pR21" stroke="#38b777"/><use href="#pR22" stroke="#57c565"/><use href="#pR23" stroke="#7ad151"/></g>
<clipPath id="ce00"><rect x="72.3" y="709.0" width="203.4" height="199.7"/></clipPath>
<ellipse cx="261.0" cy="732.4" rx="16.9" ry="8.1" transform="rotate(40 261.0 732.4)" stroke="#0000e0" stroke-width="3.3" stroke-dasharray="8.5 2.9" fill="none" clip-path="url(#ce00)"/>
<text x="431.2" y="695.0" font-size="29.6" text-anchor="middle">CD8α</text>
<rect x="329.7" y="709.0" width="203.1" height="199.7" fill="none" stroke="#333333" stroke-width="1.6"/>
<path d="M347.9 908.7v13.5M400.7 908.7v13.5M453.4 908.7v13.5M506.2 908.7v13.5M329.7 867.6h-13M329.7 807.4h-13M329.7 747.1h-13" stroke="#333333" stroke-width="1.6"/>
<text x="347.9" y="948.9" font-size="23" text-anchor="middle">−5</text>
<text x="400.7" y="948.9" font-size="23" text-anchor="middle">0</text>
<text x="453.4" y="948.9" font-size="23" text-anchor="middle">5</text>
<text x="506.2" y="948.9" font-size="23" text-anchor="middle">10</text>
<text transform="translate(307.0 867.6) rotate(-90)" font-size="23" text-anchor="middle">−5</text>
<text transform="translate(307.0 807.4) rotate(-90)" font-size="23" text-anchor="middle">0</text>
<text transform="translate(307.0 747.1) rotate(-90)" font-size="23" text-anchor="middle">5</text>
<g transform="translate(400.7 807.4)" stroke-linecap="round" stroke-width="4.1" fill="none"><use href="#pT10" stroke="#423e83"/><use href="#pT11" stroke="#3c508a"/><use href="#pT12" stroke="#33638d"/><use href="#pT13" stroke="#2c738e"/><use href="#pT20" stroke="#414487"/><use href="#pT21" stroke="#39568b"/><use href="#pT22" stroke="#31688d"/><use href="#pT23" stroke="#2a788e"/><use href="#pT30" stroke="#414487"/><use href="#pT31" stroke="#39568b"/><use href="#pT32" stroke="#31688d"/><use href="#pT33" stroke="#2a788e"/><use href="#pL10" stroke="#3d4c89"/><use href="#pL11" stroke="#365e8d"/><use href="#pL12" stroke="#2e6f8e"/><use href="#pL13" stroke="#27808d"/><use href="#pL20" stroke="#33648d"/><use href="#pL21" stroke="#2c748e"/><use href="#pL22" stroke="#25868d"/><use href="#pL23" stroke="#21968a"/><use href="#pL3a0" stroke="#472a79"/><use href="#pL3a1" stroke="#423f84"/><use href="#pL3a2" stroke="#3a538a"/><use href="#pL3a3" stroke="#33648d"/><use href="#pL3b0" stroke="#414487"/><use href="#pL3b1" stroke="#39568b"/><use href="#pL3b2" stroke="#31688d"/><use href="#pL3b3" stroke="#2a788e"/><use href="#pM10" stroke="#5ac664"/><use href="#pM11" stroke="#7dd24f"/><use href="#pM12" stroke="#acdc31"/><use href="#pM13" stroke="#d7e226"/><use href="#pM20" stroke="#21968a"/><use href="#pM21" stroke="#22a585"/><use href="#pM22" stroke="#35b579"/><use href="#pM23" stroke="#4fc36a"/><use href="#pM30" stroke="#4fc36a"/><use href="#pM31" stroke="#72ce56"/><use href="#pM32" stroke="#9fd939"/><use href="#pM33" stroke="#cae126"/><use href="#pM40" stroke="#5ac664"/><use href="#pM41" stroke="#7dd24f"/><use href="#pM42" stroke="#acdc31"/><use href="#pM43" stroke="#d7e226"/><use href="#pM50" stroke="#5ac664"/><use href="#pM51" stroke="#7dd24f"/><use href="#pM52" stroke="#acdc31"/><use href="#pM53" stroke="#d7e226"/><use href="#pB10" stroke="#54c467"/><use href="#pB11" stroke="#77d053"/><use href="#pB12" stroke="#a6da35"/><use href="#pB13" stroke="#d0e126"/><use href="#pB20" stroke="#4fc36a"/><use href="#pB21" stroke="#72ce56"/><use href="#pB22" stroke="#9fd939"/><use href="#pB23" stroke="#cae126"/><use href="#pB30" stroke="#30b17c"/><use href="#pB31" stroke="#47c06e"/><use href="#pB32" stroke="#6ccc59"/><use href="#pB33" stroke="#95d740"/><use href="#pR10" stroke="#44347e"/><use href="#pR11" stroke="#3f4888"/><use href="#pR12" stroke="#375b8c"/><use href="#pR13" stroke="#306c8e"/><use href="#pR20" stroke="#44347e"/><use href="#pR21" stroke="#3f4888"/><use href="#pR22" stroke="#375b8c"/><use href="#pR23" stroke="#306c8e"/></g>
<path d="M389.3 899.0H376.1" stroke="#0000ee" stroke-width="3.3" stroke-linecap="butt"/><path d="M365.1 899.0L380.1 892.4L377.1 899.0L380.1 905.6Z" fill="#0000ee" stroke="none"/>
<text x="688.6" y="695.0" font-size="29.6" text-anchor="middle">CD25 (IL2Rα)</text>
<rect x="587.1" y="709.0" width="203.1" height="199.7" fill="none" stroke="#333333" stroke-width="1.6"/>
<path d="M605.3 908.7v13.5M658.1 908.7v13.5M710.8 908.7v13.5M763.6 908.7v13.5M587.1 867.6h-13M587.1 807.4h-13M587.1 747.1h-13" stroke="#333333" stroke-width="1.6"/>
<text x="605.3" y="948.9" font-size="23" text-anchor="middle">−5</text>
<text x="658.1" y="948.9" font-size="23" text-anchor="middle">0</text>
<text x="710.8" y="948.9" font-size="23" text-anchor="middle">5</text>
<text x="763.6" y="948.9" font-size="23" text-anchor="middle">10</text>
<text transform="translate(564.4 867.6) rotate(-90)" font-size="23" text-anchor="middle">−5</text>
<text transform="translate(564.4 807.4) rotate(-90)" font-size="23" text-anchor="middle">0</text>
<text transform="translate(564.4 747.1) rotate(-90)" font-size="23" text-anchor="middle">5</text>
<g transform="translate(658.1 807.4)" stroke-linecap="round" stroke-width="4.1" fill="none"><use href="#pT10" stroke="#306c8e"/><use href="#pT11" stroke="#297c8e"/><use href="#pT12" stroke="#228d8c"/><use href="#pT13" stroke="#229c88"/><use href="#pT20" stroke="#306c8e"/><use href="#pT21" stroke="#297c8e"/><use href="#pT22" stroke="#228d8c"/><use href="#pT23" stroke="#229c88"/><use href="#pT30" stroke="#306c8e"/><use href="#pT31" stroke="#297c8e"/><use href="#pT32" stroke="#228d8c"/><use href="#pT33" stroke="#229c88"/><use href="#pL10" stroke="#375a8c"/><use href="#pL11" stroke="#306a8d"/><use href="#pL12" stroke="#297c8e"/><use href="#pL13" stroke="#238c8c"/><use href="#pL20" stroke="#287d8e"/><use href="#pL21" stroke="#228d8c"/><use href="#pL22" stroke="#229e88"/><use href="#pL23" stroke="#29ad80"/><use href="#pL3a0" stroke="#375a8c"/><use href="#pL3a1" stroke="#306a8d"/><use href="#pL3a2" stroke="#297c8e"/><use href="#pL3a3" stroke="#238c8c"/><use href="#pL3b0" stroke="#375a8c"/><use href="#pL3b1" stroke="#306a8d"/><use href="#pL3b2" stroke="#297c8e"/><use href="#pL3b3" stroke="#238c8c"/><use href="#pM10" stroke="#355f8d"/><use href="#pM11" stroke="#2e6f8e"/><use href="#pM12" stroke="#27818d"/><use href="#pM13" stroke="#21918c"/><use href="#pM20" stroke="#3b518a"/><use href="#pM21" stroke="#33638d"/><use href="#pM22" stroke="#2c748e"/><use href="#pM23" stroke="#26848d"/><use href="#pM30" stroke="#3a548b"/><use href="#pM31" stroke="#32658d"/><use href="#pM32" stroke="#2b778e"/><use href="#pM33" stroke="#25878d"/><use href="#pM40" stroke="#3a548b"/><use href="#pM41" stroke="#32658d"/><use href="#pM42" stroke="#2b778e"/><use href="#pM43" stroke="#25878d"/><use href="#pM50" stroke="#3a548b"/><use href="#pM51" stroke="#32658d"/><use href="#pM52" stroke="#2b778e"/><use href="#pM53" stroke="#25878d"/><use href="#pB10" stroke="#3b518a"/><use href="#pB11" stroke="#33638d"/><use href="#pB12" stroke="#2c748e"/><use href="#pB13" stroke="#26848d"/><use href="#pB20" stroke="#414487"/><use href="#pB21" stroke="#39568b"/><use href="#pB22" stroke="#31688d"/><use href="#pB23" stroke="#2a788e"/><use href="#pB30" stroke="#44347e"/><use href="#pB31" stroke="#3f4888"/><use href="#pB32" stroke="#375b8c"/><use href="#pB33" stroke="#306c8e"/><use href="#pR10" stroke="#25858d"/><use href="#pR11" stroke="#21948b"/><use href="#pR12" stroke="#22a585"/><use href="#pR13" stroke="#33b47a"/><use href="#pR20" stroke="#25858d"/><use href="#pR21" stroke="#21948b"/><use href="#pR22" stroke="#22a585"/><use href="#pR23" stroke="#33b47a"/></g>
<clipPath id="ce20"><rect x="587.1" y="709.0" width="203.4" height="199.7"/></clipPath>
<ellipse cx="775.8" cy="732.4" rx="16.9" ry="8.1" transform="rotate(40 775.8 732.4)" stroke="#0000e0" stroke-width="3.3" stroke-dasharray="8.5 2.9" fill="none" clip-path="url(#ce20)"/>
<text x="946.0" y="695.0" font-size="29.6" text-anchor="middle">CD27</text>
<rect x="844.5" y="709.0" width="203.1" height="199.7" fill="none" stroke="#333333" stroke-width="1.6"/>
<path d="M862.8 908.7v13.5M915.5 908.7v13.5M968.2 908.7v13.5M1021.0 908.7v13.5M844.5 867.6h-13M844.5 807.4h-13M844.5 747.1h-13" stroke="#333333" stroke-width="1.6"/>
<text x="862.8" y="948.9" font-size="23" text-anchor="middle">−5</text>
<text x="915.5" y="948.9" font-size="23" text-anchor="middle">0</text>
<text x="968.2" y="948.9" font-size="23" text-anchor="middle">5</text>
<text x="1021.0" y="948.9" font-size="23" text-anchor="middle">10</text>
<text transform="translate(821.8 867.6) rotate(-90)" font-size="23" text-anchor="middle">−5</text>
<text transform="translate(821.8 807.4) rotate(-90)" font-size="23" text-anchor="middle">0</text>
<text transform="translate(821.8 747.1) rotate(-90)" font-size="23" text-anchor="middle">5</text>
<g transform="translate(915.5 807.4)" stroke-linecap="round" stroke-width="4.1" fill="none"><use href="#pT10" stroke="#482475"/><use href="#pT11" stroke="#433981"/><use href="#pT12" stroke="#3d4d89"/><use href="#pT13" stroke="#355f8d"/><use href="#pT20" stroke="#482475"/><use href="#pT21" stroke="#433981"/><use href="#pT22" stroke="#3d4d89"/><use href="#pT23" stroke="#355f8d"/><use href="#pT30" stroke="#482475"/><use href="#pT31" stroke="#433981"/><use href="#pT32" stroke="#3d4d89"/><use href="#pT33" stroke="#355f8d"/><use href="#pL10" stroke="#472a79"/><use href="#pL11" stroke="#423f84"/><use href="#pL12" stroke="#3a538a"/><use href="#pL13" stroke="#33648d"/><use href="#pL20" stroke="#306c8e"/><use href="#pL21" stroke="#297c8e"/><use href="#pL22" stroke="#228d8c"/><use href="#pL23" stroke="#229c88"/><use href="#pL3a0" stroke="#471d6e"/><use href="#pL3a1" stroke="#45327d"/><use href="#pL3a2" stroke="#3f4888"/><use href="#pL3a3" stroke="#375a8c"/><use href="#pL3b0" stroke="#44347e"/><use href="#pL3b1" stroke="#3f4888"/><use href="#pL3b2" stroke="#375b8c"/><use href="#pL3b3" stroke="#306c8e"/><use href="#pM10" stroke="#2a788e"/><use href="#pM11" stroke="#24888d"/><use href="#pM12" stroke="#219989"/><use href="#pM13" stroke="#22a884"/><use href="#pM20" stroke="#306c8e"/><use href="#pM21" stroke="#297c8e"/><use href="#pM22" stroke="#228d8c"/><use href="#pM23" stroke="#229c88"/><use href="#pM30" stroke="#306c8e"/><use href="#pM31" stroke="#297c8e"/><use href="#pM32" stroke="#228d8c"/><use href="#pM33" stroke="#229c88"/><use href="#pM40" stroke="#3b518a"/><use href="#pM41" stroke="#33638d"/><use href="#pM42" stroke="#2c748e"/><use href="#pM43" stroke="#26848d"/><use href="#pM50" stroke="#45085b"/><use href="#pM51" stroke="#471f70"/><use href="#pM52" stroke="#44367f"/><use href="#pM53" stroke="#3f4988"/><use href="#pB10" stroke="#2a788e"/><use href="#pB11" stroke="#24888d"/><use href="#pB12" stroke="#219989"/><use href="#pB13" stroke="#22a884"/><use href="#pB20" stroke="#2a788e"/><use href="#pB21" stroke="#24888d"/><use href="#pB22" stroke="#219989"/><use href="#pB23" stroke="#22a884"/><use href="#pB30" stroke="#2a788e"/><use href="#pB31" stroke="#24888d"/><use href="#pB32" stroke="#219989"/><use href="#pB33" stroke="#22a884"/><use href="#pR10" stroke="#2a788e"/><use href="#pR11" stroke="#24888d"/><use href="#pR12" stroke="#219989"/><use href="#pR13" stroke="#22a884"/><use href="#pR20" stroke="#2a788e"/><use href="#pR21" stroke="#24888d"/><use href="#pR22" stroke="#219989"/><use href="#pR23" stroke="#22a884"/></g>
<text x="1203.4" y="695.0" font-size="29.6" text-anchor="middle">CD28</text>
<rect x="1101.9" y="709.0" width="203.1" height="199.7" fill="none" stroke="#333333" stroke-width="1.6"/>
<path d="M1120.1 908.7v13.5M1172.9 908.7v13.5M1225.6 908.7v13.5M1278.4 908.7v13.5M1101.9 867.6h-13M1101.9 807.4h-13M1101.9 747.1h-13" stroke="#333333" stroke-width="1.6"/>
<text x="1120.1" y="948.9" font-size="23" text-anchor="middle">−5</text>
<text x="1172.9" y="948.9" font-size="23" text-anchor="middle">0</text>
<text x="1225.6" y="948.9" font-size="23" text-anchor="middle">5</text>
<text x="1278.4" y="948.9" font-size="23" text-anchor="middle">10</text>
<text transform="translate(1079.2 867.6) rotate(-90)" font-size="23" text-anchor="middle">−5</text>
<text transform="translate(1079.2 807.4) rotate(-90)" font-size="23" text-anchor="middle">0</text>
<text transform="translate(1079.2 747.1) rotate(-90)" font-size="23" text-anchor="middle">5</text>
<g transform="translate(1172.9 807.4)" stroke-linecap="round" stroke-width="4.1" fill="none"><use href="#pT10" stroke="#33648d"/><use href="#pT11" stroke="#2c748e"/><use href="#pT12" stroke="#25868d"/><use href="#pT13" stroke="#21968a"/><use href="#pT20" stroke="#33648d"/><use href="#pT21" stroke="#2c748e"/><use href="#pT22" stroke="#25868d"/><use href="#pT23" stroke="#21968a"/><use href="#pT30" stroke="#33648d"/><use href="#pT31" stroke="#2c748e"/><use href="#pT32" stroke="#25868d"/><use href="#pT33" stroke="#21968a"/><use href="#pL10" stroke="#33648d"/><use href="#pL11" stroke="#2c748e"/><use href="#pL12" stroke="#25868d"/><use href="#pL13" stroke="#21968a"/><use href="#pL20" stroke="#229c88"/><use href="#pL21" stroke="#27ab81"/><use href="#pL22" stroke="#3fbc73"/><use href="#pL23" stroke="#5fc860"/><use href="#pL3a0" stroke="#33648d"/><use href="#pL3a1" stroke="#2c748e"/><use href="#pL3a2" stroke="#25868d"/><use href="#pL3a3" stroke="#21968a"/><use href="#pL3b0" stroke="#33648d"/><use href="#pL3b1" stroke="#2c748e"/><use href="#pL3b2" stroke="#25868d"/><use href="#pL3b3" stroke="#21968a"/><use href="#pM10" stroke="#33648d"/><use href="#pM11" stroke="#2c748e"/><use href="#pM12" stroke="#25868d"/><use href="#pM13" stroke="#21968a"/><use href="#pM20" stroke="#3f4988"/><use href="#pM21" stroke="#375b8c"/><use href="#pM22" stroke="#2f6d8e"/><use href="#pM23" stroke="#287d8e"/><use href="#pM30" stroke="#375a8c"/><use href="#pM31" stroke="#306a8d"/><use href="#pM32" stroke="#297c8e"/><use href="#pM33" stroke="#238c8c"/><use href="#pM40" stroke="#3a548b"/><use href="#pM41" stroke="#32658d"/><use href="#pM42" stroke="#2b778e"/><use href="#pM43" stroke="#25878d"/><use href="#pM50" stroke="#3a548b"/><use href="#pM51" stroke="#32658d"/><use href="#pM52" stroke="#2b778e"/><use href="#pM53" stroke="#25878d"/><use href="#pB10" stroke="#414487"/><use href="#pB11" stroke="#39568b"/><use href="#pB12" stroke="#31688d"/><use href="#pB13" stroke="#2a788e"/><use href="#pB20" stroke="#3f4988"/><use href="#pB21" stroke="#375b8c"/><use href="#pB22" stroke="#2f6d8e"/><use href="#pB23" stroke="#287d8e"/><use href="#pB30" stroke="#44347e"/><use href="#pB31" stroke="#3f4888"/><use href="#pB32" stroke="#375b8c"/><use href="#pB33" stroke="#306c8e"/><use href="#pR10" stroke="#306c8e"/><use href="#pR11" stroke="#297c8e"/><use href="#pR12" stroke="#228d8c"/><use href="#pR13" stroke="#229c88"/><use href="#pR20" stroke="#306c8e"/><use href="#pR21" stroke="#297c8e"/><use href="#pR22" stroke="#228d8c"/><use href="#pR23" stroke="#229c88"/></g>
<text x="1460.8" y="695.0" font-size="29.6" text-anchor="middle">CD38 (ADPRC1)</text>
<rect x="1359.3" y="709.0" width="203.1" height="199.7" fill="none" stroke="#333333" stroke-width="1.6"/>
<path d="M1377.5 908.7v13.5M1430.3 908.7v13.5M1483.0 908.7v13.5M1535.8 908.7v13.5M1359.3 867.6h-13M1359.3 807.4h-13M1359.3 747.1h-13" stroke="#333333" stroke-width="1.6"/>
<text x="1377.5" y="948.9" font-size="23" text-anchor="middle">−5</text>
<text x="1430.3" y="948.9" font-size="23" text-anchor="middle">0</text>
<text x="1483.0" y="948.9" font-size="23" text-anchor="middle">5</text>
<text x="1535.8" y="948.9" font-size="23" text-anchor="middle">10</text>
<text transform="translate(1336.6 867.6) rotate(-90)" font-size="23" text-anchor="middle">−5</text>
<text transform="translate(1336.6 807.4) rotate(-90)" font-size="23" text-anchor="middle">0</text>
<text transform="translate(1336.6 747.1) rotate(-90)" font-size="23" text-anchor="middle">5</text>
<g transform="translate(1430.3 807.4)" stroke-linecap="round" stroke-width="4.1" fill="none"><use href="#pT10" stroke="#229f87"/><use href="#pT11" stroke="#2aae7f"/><use href="#pT12" stroke="#42be71"/><use href="#pT13" stroke="#64ca5d"/><use href="#pT20" stroke="#229f87"/><use href="#pT21" stroke="#2aae7f"/><use href="#pT22" stroke="#42be71"/><use href="#pT23" stroke="#64ca5d"/><use href="#pT30" stroke="#229f87"/><use href="#pT31" stroke="#2aae7f"/><use href="#pT32" stroke="#42be71"/><use href="#pT33" stroke="#64ca5d"/><use href="#pL10" stroke="#21968a"/><use href="#pL11" stroke="#22a585"/><use href="#pL12" stroke="#35b579"/><use href="#pL13" stroke="#4fc36a"/><use href="#pL20" stroke="#21918c"/><use href="#pL21" stroke="#22a087"/><use href="#pL22" stroke="#2eb07d"/><use href="#pL23" stroke="#44bf70"/><use href="#pL3a0" stroke="#21968a"/><use href="#pL3a1" stroke="#22a585"/><use href="#pL3a2" stroke="#35b579"/><use href="#pL3a3" stroke="#4fc36a"/><use href="#pL3b0" stroke="#21968a"/><use href="#pL3b1" stroke="#22a585"/><use href="#pL3b2" stroke="#35b579"/><use href="#pL3b3" stroke="#4fc36a"/><use href="#pM10" stroke="#22a386"/><use href="#pM11" stroke="#31b27b"/><use href="#pM12" stroke="#4cc26b"/><use href="#pM13" stroke="#6fcd57"/><use href="#pM20" stroke="#22a386"/><use href="#pM21" stroke="#31b27b"/><use href="#pM22" stroke="#4cc26b"/><use href="#pM23" stroke="#6fcd57"/><use href="#pM30" stroke="#22a386"/><use href="#pM31" stroke="#31b27b"/><use href="#pM32" stroke="#4cc26b"/><use href="#pM33" stroke="#6fcd57"/><use href="#pM40" stroke="#22a386"/><use href="#pM41" stroke="#31b27b"/><use href="#pM42" stroke="#4cc26b"/><use href="#pM43" stroke="#6fcd57"/><use href="#pM50" stroke="#22a386"/><use href="#pM51" stroke="#31b27b"/><use href="#pM52" stroke="#4cc26b"/><use href="#pM53" stroke="#6fcd57"/><use href="#pB10" stroke="#21918c"/><use href="#pB11" stroke="#22a087"/><use href="#pB12" stroke="#2eb07d"/><use href="#pB13" stroke="#44bf70"/><use href="#pB20" stroke="#21968a"/><use href="#pB21" stroke="#22a585"/><use href="#pB22" stroke="#35b579"/><use href="#pB23" stroke="#4fc36a"/><use href="#pB30" stroke="#2a788e"/><use href="#pB31" stroke="#24888d"/><use href="#pB32" stroke="#219989"/><use href="#pB33" stroke="#22a884"/><use href="#pR10" stroke="#306c8e"/><use href="#pR11" stroke="#297c8e"/><use href="#pR12" stroke="#228d8c"/><use href="#pR13" stroke="#229c88"/><use href="#pR20" stroke="#306c8e"/><use href="#pR21" stroke="#297c8e"/><use href="#pR22" stroke="#228d8c"/><use href="#pR23" stroke="#229c88"/></g>
<text x="1718.2" y="695.0" font-size="29.6" text-anchor="middle">CD39</text>
<rect x="1616.7" y="709.0" width="203.1" height="199.7" fill="none" stroke="#333333" stroke-width="1.6"/>
<path d="M1634.9 908.7v13.5M1687.7 908.7v13.5M1740.4 908.7v13.5M1793.2 908.7v13.5M1616.7 867.6h-13M1616.7 807.4h-13M1616.7 747.1h-13" stroke="#333333" stroke-width="1.6"/>
<text x="1634.9" y="948.9" font-size="23" text-anchor="middle">−5</text>
<text x="1687.7" y="948.9" font-size="23" text-anchor="middle">0</text>
<text x="1740.4" y="948.9" font-size="23" text-anchor="middle">5</text>
<text x="1793.2" y="948.9" font-size="23" text-anchor="middle">10</text>
<text transform="translate(1594.0 867.6) rotate(-90)" font-size="23" text-anchor="middle">−5</text>
<text transform="translate(1594.0 807.4) rotate(-90)" font-size="23" text-anchor="middle">0</text>
<text transform="translate(1594.0 747.1) rotate(-90)" font-size="23" text-anchor="middle">5</text>
<g transform="translate(1687.7 807.4)" stroke-linecap="round" stroke-width="4.1" fill="none"><use href="#pT10" stroke="#21918c"/><use href="#pT11" stroke="#22a087"/><use href="#pT12" stroke="#2eb07d"/><use href="#pT13" stroke="#44bf70"/><use href="#pT20" stroke="#306c8e"/><use href="#pT21" stroke="#297c8e"/><use href="#pT22" stroke="#228d8c"/><use href="#pT23" stroke="#229c88"/><use href="#pT30" stroke="#21918c"/><use href="#pT31" stroke="#22a087"/><use href="#pT32" stroke="#2eb07d"/><use href="#pT33" stroke="#44bf70"/><use href="#pL10" stroke="#440154"/><use href="#pL11" stroke="#450d60"/><use href="#pL12" stroke="#482676"/><use href="#pL13" stroke="#433a82"/><use href="#pL20" stroke="#44347e"/><use href="#pL21" stroke="#3f4888"/><use href="#pL22" stroke="#375b8c"/><use href="#pL23" stroke="#306c8e"/><use href="#pL3a0" stroke="#440154"/><use href="#pL3a1" stroke="#450d60"/><use href="#pL3a2" stroke="#482676"/><use href="#pL3a3" stroke="#433a82"/><use href="#pL3b0" stroke="#440154"/><use href="#pL3b1" stroke="#450d60"/><use href="#pL3b2" stroke="#482676"/><use href="#pL3b3" stroke="#433a82"/><use href="#pM10" stroke="#440154"/><use href="#pM11" stroke="#461163"/><use href="#pM12" stroke="#472978"/><use href="#pM13" stroke="#423e83"/><use href="#pM20" stroke="#44347e"/><use href="#pM21" stroke="#3f4888"/><use href="#pM22" stroke="#375b8c"/><use href="#pM23" stroke="#306c8e"/><use href="#pM30" stroke="#2a788e"/><use href="#pM31" stroke="#24888d"/><use href="#pM32" stroke="#219989"/><use href="#pM33" stroke="#22a884"/><use href="#pM40" stroke="#2a788e"/><use href="#pM41" stroke="#24888d"/><use href="#pM42" stroke="#219989"/><use href="#pM43" stroke="#22a884"/><use href="#pM50" stroke="#2a788e"/><use href="#pM51" stroke="#24888d"/><use href="#pM52" stroke="#219989"/><use href="#pM53" stroke="#22a884"/><use href="#pB10" stroke="#25858d"/><use href="#pB11" stroke="#21948b"/><use href="#pB12" stroke="#22a585"/><use href="#pB13" stroke="#33b47a"/><use href="#pB20" stroke="#2a788e"/><use href="#pB21" stroke="#24888d"/><use href="#pB22" stroke="#219989"/><use href="#pB23" stroke="#22a884"/><use href="#pB30" stroke="#440154"/><use href="#pB31" stroke="#471869"/><use href="#pB32" stroke="#462f7b"/><use href="#pB33" stroke="#414487"/><use href="#pR10" stroke="#440154"/><use href="#pR11" stroke="#471869"/><use href="#pR12" stroke="#462f7b"/><use href="#pR13" stroke="#414487"/><use href="#pR20" stroke="#21968a"/><use href="#pR21" stroke="#22a585"/><use href="#pR22" stroke="#35b579"/><use href="#pR23" stroke="#4fc36a"/></g>
<text x="1975.6" y="695.0" font-size="29.6" text-anchor="middle">CD45RA</text>
<rect x="1874.1" y="709.0" width="203.1" height="199.7" fill="none" stroke="#333333" stroke-width="1.6"/>
<path d="M1892.3 908.7v13.5M1945.1 908.7v13.5M1997.8 908.7v13.5M2050.6 908.7v13.5M1874.1 867.6h-13M1874.1 807.4h-13M1874.1 747.1h-13" stroke="#333333" stroke-width="1.6"/>
<text x="1892.3" y="948.9" font-size="23" text-anchor="middle">−5</text>
<text x="1945.1" y="948.9" font-size="23" text-anchor="middle">0</text>
<text x="1997.8" y="948.9" font-size="23" text-anchor="middle">5</text>
<text x="2050.6" y="948.9" font-size="23" text-anchor="middle">10</text>
<text transform="translate(1851.4 867.6) rotate(-90)" font-size="23" text-anchor="middle">−5</text>
<text transform="translate(1851.4 807.4) rotate(-90)" font-size="23" text-anchor="middle">0</text>
<text transform="translate(1851.4 747.1) rotate(-90)" font-size="23" text-anchor="middle">5</text>
<g transform="translate(1945.1 807.4)" stroke-linecap="round" stroke-width="4.1" fill="none"><use href="#pT10" stroke="#3d4c89"/><use href="#pT11" stroke="#365e8d"/><use href="#pT12" stroke="#2e6f8e"/><use href="#pT13" stroke="#27808d"/><use href="#pT20" stroke="#3d4c89"/><use href="#pT21" stroke="#365e8d"/><use href="#pT22" stroke="#2e6f8e"/><use href="#pT23" stroke="#27808d"/><use href="#pT30" stroke="#3d4c89"/><use href="#pT31" stroke="#365e8d"/><use href="#pT32" stroke="#2e6f8e"/><use href="#pT33" stroke="#27808d"/><use href="#pL10" stroke="#423e83"/><use href="#pL11" stroke="#3c508a"/><use href="#pL12" stroke="#33638d"/><use href="#pL13" stroke="#2c738e"/><use href="#pL20" stroke="#355f8d"/><use href="#pL21" stroke="#2e6f8e"/><use href="#pL22" stroke="#27818d"/><use href="#pL23" stroke="#21918c"/><use href="#pL3a0" stroke="#414487"/><use href="#pL3a1" stroke="#39568b"/><use href="#pL3a2" stroke="#31688d"/><use href="#pL3a3" stroke="#2a788e"/><use href="#pL3b0" stroke="#375a8c"/><use href="#pL3b1" stroke="#306a8d"/><use href="#pL3b2" stroke="#297c8e"/><use href="#pL3b3" stroke="#238c8c"/><use href="#pM10" stroke="#306c8e"/><use href="#pM11" stroke="#297c8e"/><use href="#pM12" stroke="#228d8c"/><use href="#pM13" stroke="#229c88"/><use href="#pM20" stroke="#2a788e"/><use href="#pM21" stroke="#24888d"/><use href="#pM22" stroke="#219989"/><use href="#pM23" stroke="#22a884"/><use href="#pM30" stroke="#414487"/><use href="#pM31" stroke="#39568b"/><use href="#pM32" stroke="#31688d"/><use href="#pM33" stroke="#2a788e"/><use href="#pM40" stroke="#414487"/><use href="#pM41" stroke="#39568b"/><use href="#pM42" stroke="#31688d"/><use href="#pM43" stroke="#2a788e"/><use href="#pM50" stroke="#414487"/><use href="#pM51" stroke="#39568b"/><use href="#pM52" stroke="#31688d"/><use href="#pM53" stroke="#2a788e"/><use href="#pB10" stroke="#414487"/><use href="#pB11" stroke="#39568b"/><use href="#pB12" stroke="#31688d"/><use href="#pB13" stroke="#2a788e"/><use href="#pB20" stroke="#3b518a"/><use href="#pB21" stroke="#33638d"/><use href="#pB22" stroke="#2c748e"/><use href="#pB23" stroke="#26848d"/><use href="#pB30" stroke="#2a788e"/><use href="#pB31" stroke="#24888d"/><use href="#pB32" stroke="#219989"/><use href="#pB33" stroke="#22a884"/><use href="#pR10" stroke="#414487"/><use href="#pR11" stroke="#39568b"/><use href="#pR12" stroke="#31688d"/><use href="#pR13" stroke="#2a788e"/><use href="#pR20" stroke="#414487"/><use href="#pR21" stroke="#39568b"/><use href="#pR22" stroke="#31688d"/><use href="#pR23" stroke="#2a788e"/></g>
<text x="173.8" y="983.6" font-size="29.6" text-anchor="middle">CD45RO</text>
<rect x="72.3" y="997.6" width="203.1" height="199.7" fill="none" stroke="#333333" stroke-width="1.6"/>
<path d="M90.6 1197.3v13.5M143.3 1197.3v13.5M196.1 1197.3v13.5M248.8 1197.3v13.5M72.3 1156.2h-13M72.3 1096.0h-13M72.3 1035.8h-13" stroke="#333333" stroke-width="1.6"/>
<text x="90.6" y="1237.5" font-size="23" text-anchor="middle">−5</text>
<text x="143.3" y="1237.5" font-size="23" text-anchor="middle">0</text>
<text x="196.1" y="1237.5" font-size="23" text-anchor="middle">5</text>
<text x="248.8" y="1237.5" font-size="23" text-anchor="middle">10</text>
<text transform="translate(49.6 1156.2) rotate(-90)" font-size="23" text-anchor="middle">−5</text>
<text transform="translate(49.6 1096.0) rotate(-90)" font-size="23" text-anchor="middle">0</text>
<text transform="translate(49.6 1035.8) rotate(-90)" font-size="23" text-anchor="middle">5</text>
<g transform="translate(143.3 1096.0)" stroke-linecap="round" stroke-width="4.1" fill="none"><use href="#pT10" stroke="#3dba74"/><use href="#pT11" stroke="#5cc762"/><use href="#pT12" stroke="#84d34b"/><use href="#pT13" stroke="#b0dc2f"/><use href="#pT20" stroke="#3dba74"/><use href="#pT21" stroke="#5cc762"/><use href="#pT22" stroke="#84d34b"/><use href="#pT23" stroke="#b0dc2f"/><use href="#pT30" stroke="#3dba74"/><use href="#pT31" stroke="#5cc762"/><use href="#pT32" stroke="#84d34b"/><use href="#pT33" stroke="#b0dc2f"/><use href="#pL10" stroke="#44bf70"/><use href="#pL11" stroke="#67cb5c"/><use href="#pL12" stroke="#91d642"/><use href="#pL13" stroke="#bddf26"/><use href="#pL20" stroke="#33b47a"/><use href="#pL21" stroke="#4cc26b"/><use href="#pL22" stroke="#72ce56"/><use href="#pL23" stroke="#9cd83c"/><use href="#pL3a0" stroke="#29ad80"/><use href="#pL3a1" stroke="#3fbc73"/><use href="#pL3a2" stroke="#62c95f"/><use href="#pL3a3" stroke="#87d448"/><use href="#pL3b0" stroke="#29ad80"/><use href="#pL3b1" stroke="#3fbc73"/><use href="#pL3b2" stroke="#62c95f"/><use href="#pL3b3" stroke="#87d448"/><use href="#pM10" stroke="#229c88"/><use href="#pM11" stroke="#27ab81"/><use href="#pM12" stroke="#3fbc73"/><use href="#pM13" stroke="#5fc860"/><use href="#pM20" stroke="#3b518a"/><use href="#pM21" stroke="#33638d"/><use href="#pM22" stroke="#2c748e"/><use href="#pM23" stroke="#26848d"/><use href="#pM30" stroke="#21918c"/><use href="#pM31" stroke="#22a087"/><use href="#pM32" stroke="#2eb07d"/><use href="#pM33" stroke="#44bf70"/><use href="#pM40" stroke="#21918c"/><use href="#pM41" stroke="#22a087"/><use href="#pM42" stroke="#2eb07d"/><use href="#pM43" stroke="#44bf70"/><use href="#pM50" stroke="#21918c"/><use href="#pM51" stroke="#22a087"/><use href="#pM52" stroke="#2eb07d"/><use href="#pM53" stroke="#44bf70"/><use href="#pB10" stroke="#21968a"/><use href="#pB11" stroke="#22a585"/><use href="#pB12" stroke="#35b579"/><use href="#pB13" stroke="#4fc36a"/><use href="#pB20" stroke="#2a788e"/><use href="#pB21" stroke="#24888d"/><use href="#pB22" stroke="#219989"/><use href="#pB23" stroke="#22a884"/><use href="#pB30" stroke="#306c8e"/><use href="#pB31" stroke="#297c8e"/><use href="#pB32" stroke="#228d8c"/><use href="#pB33" stroke="#229c88"/><use href="#pR10" stroke="#33b47a"/><use href="#pR11" stroke="#4cc26b"/><use href="#pR12" stroke="#72ce56"/><use href="#pR13" stroke="#9cd83c"/><use href="#pR20" stroke="#33b47a"/><use href="#pR21" stroke="#4cc26b"/><use href="#pR22" stroke="#72ce56"/><use href="#pR23" stroke="#9cd83c"/></g>
<text x="431.2" y="983.6" font-size="29.6" text-anchor="middle">CD57</text>
<rect x="329.7" y="997.6" width="203.1" height="199.7" fill="none" stroke="#333333" stroke-width="1.6"/>
<path d="M347.9 1197.3v13.5M400.7 1197.3v13.5M453.4 1197.3v13.5M506.2 1197.3v13.5M329.7 1156.2h-13M329.7 1096.0h-13M329.7 1035.8h-13" stroke="#333333" stroke-width="1.6"/>
<text x="347.9" y="1237.5" font-size="23" text-anchor="middle">−5</text>
<text x="400.7" y="1237.5" font-size="23" text-anchor="middle">0</text>
<text x="453.4" y="1237.5" font-size="23" text-anchor="middle">5</text>
<text x="506.2" y="1237.5" font-size="23" text-anchor="middle">10</text>
<text transform="translate(307.0 1156.2) rotate(-90)" font-size="23" text-anchor="middle">−5</text>
<text transform="translate(307.0 1096.0) rotate(-90)" font-size="23" text-anchor="middle">0</text>
<text transform="translate(307.0 1035.8) rotate(-90)" font-size="23" text-anchor="middle">5</text>
<g transform="translate(400.7 1096.0)" stroke-linecap="round" stroke-width="4.1" fill="none"><use href="#pT10" stroke="#45085b"/><use href="#pT11" stroke="#471f70"/><use href="#pT12" stroke="#44367f"/><use href="#pT13" stroke="#3f4988"/><use href="#pT20" stroke="#45085b"/><use href="#pT21" stroke="#471f70"/><use href="#pT22" stroke="#44367f"/><use href="#pT23" stroke="#3f4988"/><use href="#pT30" stroke="#45085b"/><use href="#pT31" stroke="#471f70"/><use href="#pT32" stroke="#44367f"/><use href="#pT33" stroke="#3f4988"/><use href="#pL10" stroke="#440154"/><use href="#pL11" stroke="#461163"/><use href="#pL12" stroke="#472978"/><use href="#pL13" stroke="#423e83"/><use href="#pL20" stroke="#306c8e"/><use href="#pL21" stroke="#297c8e"/><use href="#pL22" stroke="#228d8c"/><use href="#pL23" stroke="#229c88"/><use href="#pL3a0" stroke="#440154"/><use href="#pL3a1" stroke="#461163"/><use href="#pL3a2" stroke="#472978"/><use href="#pL3a3" stroke="#423e83"/><use href="#pL3b0" stroke="#440154"/><use href="#pL3b1" stroke="#461163"/><use href="#pL3b2" stroke="#472978"/><use href="#pL3b3" stroke="#423e83"/><use href="#pM10" stroke="#440154"/><use href="#pM11" stroke="#471869"/><use href="#pM12" stroke="#462f7b"/><use href="#pM13" stroke="#414487"/><use href="#pM20" stroke="#440154"/><use href="#pM21" stroke="#471869"/><use href="#pM22" stroke="#462f7b"/><use href="#pM23" stroke="#414487"/><use href="#pM30" stroke="#440154"/><use href="#pM31" stroke="#471869"/><use href="#pM32" stroke="#462f7b"/><use href="#pM33" stroke="#414487"/><use href="#pM40" stroke="#440154"/><use href="#pM41" stroke="#471869"/><use href="#pM42" stroke="#462f7b"/><use href="#pM43" stroke="#414487"/><use href="#pM50" stroke="#440154"/><use href="#pM51" stroke="#471869"/><use href="#pM52" stroke="#462f7b"/><use href="#pM53" stroke="#414487"/><use href="#pB10" stroke="#33b47a"/><use href="#pB11" stroke="#4cc26b"/><use href="#pB12" stroke="#72ce56"/><use href="#pB13" stroke="#9cd83c"/><use href="#pB20" stroke="#29ad80"/><use href="#pB21" stroke="#3fbc73"/><use href="#pB22" stroke="#62c95f"/><use href="#pB23" stroke="#87d448"/><use href="#pB30" stroke="#4fc36a"/><use href="#pB31" stroke="#72ce56"/><use href="#pB32" stroke="#9fd939"/><use href="#pB33" stroke="#cae126"/><use href="#pR10" stroke="#440154"/><use href="#pR11" stroke="#471869"/><use href="#pR12" stroke="#462f7b"/><use href="#pR13" stroke="#414487"/><use href="#pR20" stroke="#440154"/><use href="#pR21" stroke="#471869"/><use href="#pR22" stroke="#462f7b"/><use href="#pR23" stroke="#414487"/></g>
<clipPath id="ce11"><rect x="329.7" y="997.6" width="203.4" height="199.7"/></clipPath>
<ellipse cx="518.4" cy="1021.0" rx="16.9" ry="8.1" transform="rotate(40 518.4 1021.0)" stroke="#0000e0" stroke-width="3.3" stroke-dasharray="8.5 2.9" fill="none" clip-path="url(#ce11)"/>
<path d="M389.3 1187.6H376.1" stroke="#0000ee" stroke-width="3.3" stroke-linecap="butt"/><path d="M365.1 1187.6L380.1 1181.0L377.1 1187.6L380.1 1194.2Z" fill="#0000ee" stroke="none"/>
<text x="688.6" y="983.6" font-size="29.6" text-anchor="middle">CD95 (FAS)</text>
<rect x="587.1" y="997.6" width="203.1" height="199.7" fill="none" stroke="#333333" stroke-width="1.6"/>
<path d="M605.3 1197.3v13.5M658.1 1197.3v13.5M710.8 1197.3v13.5M763.6 1197.3v13.5M587.1 1156.2h-13M587.1 1096.0h-13M587.1 1035.8h-13" stroke="#333333" stroke-width="1.6"/>
<text x="605.3" y="1237.5" font-size="23" text-anchor="middle">−5</text>
<text x="658.1" y="1237.5" font-size="23" text-anchor="middle">0</text>
<text x="710.8" y="1237.5" font-size="23" text-anchor="middle">5</text>
<text x="763.6" y="1237.5" font-size="23" text-anchor="middle">10</text>
<text transform="translate(564.4 1156.2) rotate(-90)" font-size="23" text-anchor="middle">−5</text>
<text transform="translate(564.4 1096.0) rotate(-90)" font-size="23" text-anchor="middle">0</text>
<text transform="translate(564.4 1035.8) rotate(-90)" font-size="23" text-anchor="middle">5</text>
<g transform="translate(658.1 1096.0)" stroke-linecap="round" stroke-width="4.1" fill="none"><use href="#pT10" stroke="#21918c"/><use href="#pT11" stroke="#22a087"/><use href="#pT12" stroke="#2eb07d"/><use href="#pT13" stroke="#44bf70"/><use href="#pT20" stroke="#21918c"/><use href="#pT21" stroke="#22a087"/><use href="#pT22" stroke="#2eb07d"/><use href="#pT23" stroke="#44bf70"/><use href="#pT30" stroke="#21918c"/><use href="#pT31" stroke="#22a087"/><use href="#pT32" stroke="#2eb07d"/><use href="#pT33" stroke="#44bf70"/><use href="#pL10" stroke="#21918c"/><use href="#pL11" stroke="#22a087"/><use href="#pL12" stroke="#2eb07d"/><use href="#pL13" stroke="#44bf70"/><use href="#pL20" stroke="#229c88"/><use href="#pL21" stroke="#27ab81"/><use href="#pL22" stroke="#3fbc73"/><use href="#pL23" stroke="#5fc860"/><use href="#pL3a0" stroke="#2a788e"/><use href="#pL3a1" stroke="#24888d"/><use href="#pL3a2" stroke="#219989"/><use href="#pL3a3" stroke="#22a884"/><use href="#pL3b0" stroke="#25858d"/><use href="#pL3b1" stroke="#21948b"/><use href="#pL3b2" stroke="#22a585"/><use href="#pL3b3" stroke="#33b47a"/><use href="#pM10" stroke="#33648d"/><use href="#pM11" stroke="#2c748e"/><use href="#pM12" stroke="#25868d"/><use href="#pM13" stroke="#21968a"/><use href="#pM20" stroke="#3b518a"/><use href="#pM21" stroke="#33638d"/><use href="#pM22" stroke="#2c748e"/><use href="#pM23" stroke="#26848d"/><use href="#pM30" stroke="#306c8e"/><use href="#pM31" stroke="#297c8e"/><use href="#pM32" stroke="#228d8c"/><use href="#pM33" stroke="#229c88"/><use href="#pM40" stroke="#306c8e"/><use href="#pM41" stroke="#297c8e"/><use href="#pM42" stroke="#228d8c"/><use href="#pM43" stroke="#229c88"/><use href="#pM50" stroke="#306c8e"/><use href="#pM51" stroke="#297c8e"/><use href="#pM52" stroke="#228d8c"/><use href="#pM53" stroke="#229c88"/><use href="#pB10" stroke="#306c8e"/><use href="#pB11" stroke="#297c8e"/><use href="#pB12" stroke="#228d8c"/><use href="#pB13" stroke="#229c88"/><use href="#pB20" stroke="#306c8e"/><use href="#pB21" stroke="#297c8e"/><use href="#pB22" stroke="#228d8c"/><use href="#pB23" stroke="#229c88"/><use href="#pB30" stroke="#306c8e"/><use href="#pB31" stroke="#297c8e"/><use href="#pB32" stroke="#228d8c"/><use href="#pB33" stroke="#229c88"/><use href="#pR10" stroke="#22a884"/><use href="#pR11" stroke="#38b777"/><use href="#pR12" stroke="#57c565"/><use href="#pR13" stroke="#7ad151"/><use href="#pR20" stroke="#22a884"/><use href="#pR21" stroke="#38b777"/><use href="#pR22" stroke="#57c565"/><use href="#pR23" stroke="#7ad151"/></g>
<text x="946.0" y="983.6" font-size="29.6" text-anchor="middle">CD101</text>
<rect x="844.5" y="997.6" width="203.1" height="199.7" fill="none" stroke="#333333" stroke-width="1.6"/>
<path d="M862.8 1197.3v13.5M915.5 1197.3v13.5M968.2 1197.3v13.5M1021.0 1197.3v13.5M844.5 1156.2h-13M844.5 1096.0h-13M844.5 1035.8h-13" stroke="#333333" stroke-width="1.6"/>
<text x="862.8" y="1237.5" font-size="23" text-anchor="middle">−5</text>
<text x="915.5" y="1237.5" font-size="23" text-anchor="middle">0</text>
<text x="968.2" y="1237.5" font-size="23" text-anchor="middle">5</text>
<text x="1021.0" y="1237.5" font-size="23" text-anchor="middle">10</text>
<text transform="translate(821.8 1156.2) rotate(-90)" font-size="23" text-anchor="middle">−5</text>
<text transform="translate(821.8 1096.0) rotate(-90)" font-size="23" text-anchor="middle">0</text>
<text transform="translate(821.8 1035.8) rotate(-90)" font-size="23" text-anchor="middle">5</text>
<g transform="translate(915.5 1096.0)" stroke-linecap="round" stroke-width="4.1" fill="none"><use href="#pT10" stroke="#440154"/><use href="#pT11" stroke="#450659"/><use href="#pT12" stroke="#471f70"/><use href="#pT13" stroke="#44347e"/><use href="#pT20" stroke="#440154"/><use href="#pT21" stroke="#450659"/><use href="#pT22" stroke="#471f70"/><use href="#pT23" stroke="#44347e"/><use href="#pT30" stroke="#440154"/><use href="#pT31" stroke="#450659"/><use href="#pT32" stroke="#471f70"/><use href="#pT33" stroke="#44347e"/><use href="#pL10" stroke="#440154"/><use href="#pL11" stroke="#440154"/><use href="#pL12" stroke="#471869"/><use href="#pL13" stroke="#462e7a"/><use href="#pL20" stroke="#440154"/><use href="#pL21" stroke="#450659"/><use href="#pL22" stroke="#471f70"/><use href="#pL23" stroke="#44347e"/><use href="#pL3a0" stroke="#440154"/><use href="#pL3a1" stroke="#440154"/><use href="#pL3a2" stroke="#471869"/><use href="#pL3a3" stroke="#462e7a"/><use href="#pL3b0" stroke="#440154"/><use href="#pL3b1" stroke="#440154"/><use href="#pL3b2" stroke="#471869"/><use href="#pL3b3" stroke="#462e7a"/><use href="#pM10" stroke="#45085b"/><use href="#pM11" stroke="#471f70"/><use href="#pM12" stroke="#44367f"/><use href="#pM13" stroke="#3f4988"/><use href="#pM20" stroke="#440154"/><use href="#pM21" stroke="#450a5c"/><use href="#pM22" stroke="#482273"/><use href="#pM23" stroke="#443780"/><use href="#pM30" stroke="#440154"/><use href="#pM31" stroke="#450d60"/><use href="#pM32" stroke="#482676"/><use href="#pM33" stroke="#433a82"/><use href="#pM40" stroke="#45085b"/><use href="#pM41" stroke="#471f70"/><use href="#pM42" stroke="#44367f"/><use href="#pM43" stroke="#3f4988"/><use href="#pM50" stroke="#22a884"/><use href="#pM51" stroke="#38b777"/><use href="#pM52" stroke="#57c565"/><use href="#pM53" stroke="#7ad151"/><use href="#pB10" stroke="#306c8e"/><use href="#pB11" stroke="#297c8e"/><use href="#pB12" stroke="#228d8c"/><use href="#pB13" stroke="#229c88"/><use href="#pB20" stroke="#440154"/><use href="#pB21" stroke="#450659"/><use href="#pB22" stroke="#471f70"/><use href="#pB23" stroke="#44347e"/><use href="#pB30" stroke="#440154"/><use href="#pB31" stroke="#461163"/><use href="#pB32" stroke="#472978"/><use href="#pB33" stroke="#423e83"/><use href="#pR10" stroke="#440154"/><use href="#pR11" stroke="#440154"/><use href="#pR12" stroke="#471869"/><use href="#pR13" stroke="#462e7a"/><use href="#pR20" stroke="#440154"/><use href="#pR21" stroke="#440154"/><use href="#pR22" stroke="#471869"/><use href="#pR23" stroke="#462e7a"/></g>
<path d="M904.1 1187.6H890.9" stroke="#0000ee" stroke-width="3.3" stroke-linecap="butt"/><path d="M879.9 1187.6L894.9 1181.0L891.9 1187.6L894.9 1194.2Z" fill="#0000ee" stroke="none"/>
<text x="1203.4" y="983.6" font-size="29.6" text-anchor="middle">CD122 (IL2Rβ)</text>
<rect x="1101.9" y="997.6" width="203.1" height="199.7" fill="none" stroke="#333333" stroke-width="1.6"/>
<path d="M1120.1 1197.3v13.5M1172.9 1197.3v13.5M1225.6 1197.3v13.5M1278.4 1197.3v13.5M1101.9 1156.2h-13M1101.9 1096.0h-13M1101.9 1035.8h-13" stroke="#333333" stroke-width="1.6"/>
<text x="1120.1" y="1237.5" font-size="23" text-anchor="middle">−5</text>
<text x="1172.9" y="1237.5" font-size="23" text-anchor="middle">0</text>
<text x="1225.6" y="1237.5" font-size="23" text-anchor="middle">5</text>
<text x="1278.4" y="1237.5" font-size="23" text-anchor="middle">10</text>
<text transform="translate(1079.2 1156.2) rotate(-90)" font-size="23" text-anchor="middle">−5</text>
<text transform="translate(1079.2 1096.0) rotate(-90)" font-size="23" text-anchor="middle">0</text>
<text transform="translate(1079.2 1035.8) rotate(-90)" font-size="23" text-anchor="middle">5</text>
<g transform="translate(1172.9 1096.0)" stroke-linecap="round" stroke-width="4.1" fill="none"><use href="#pT10" stroke="#2a788e"/><use href="#pT11" stroke="#24888d"/><use href="#pT12" stroke="#219989"/><use href="#pT13" stroke="#22a884"/><use href="#pT20" stroke="#2a788e"/><use href="#pT21" stroke="#24888d"/><use href="#pT22" stroke="#219989"/><use href="#pT23" stroke="#22a884"/><use href="#pT30" stroke="#2a788e"/><use href="#pT31" stroke="#24888d"/><use href="#pT32" stroke="#219989"/><use href="#pT33" stroke="#22a884"/><use href="#pL10" stroke="#306c8e"/><use href="#pL11" stroke="#297c8e"/><use href="#pL12" stroke="#228d8c"/><use href="#pL13" stroke="#229c88"/><use href="#pL20" stroke="#21968a"/><use href="#pL21" stroke="#22a585"/><use href="#pL22" stroke="#35b579"/><use href="#pL23" stroke="#4fc36a"/><use href="#pL3a0" stroke="#306c8e"/><use href="#pL3a1" stroke="#297c8e"/><use href="#pL3a2" stroke="#228d8c"/><use href="#pL3a3" stroke="#229c88"/><use href="#pL3b0" stroke="#306c8e"/><use href="#pL3b1" stroke="#297c8e"/><use href="#pL3b2" stroke="#228d8c"/><use href="#pL3b3" stroke="#229c88"/><use href="#pM10" stroke="#21968a"/><use href="#pM11" stroke="#22a585"/><use href="#pM12" stroke="#35b579"/><use href="#pM13" stroke="#4fc36a"/><use href="#pM20" stroke="#306c8e"/><use href="#pM21" stroke="#297c8e"/><use href="#pM22" stroke="#228d8c"/><use href="#pM23" stroke="#229c88"/><use href="#pM30" stroke="#2a788e"/><use href="#pM31" stroke="#24888d"/><use href="#pM32" stroke="#219989"/><use href="#pM33" stroke="#22a884"/><use href="#pM40" stroke="#2a788e"/><use href="#pM41" stroke="#24888d"/><use href="#pM42" stroke="#219989"/><use href="#pM43" stroke="#22a884"/><use href="#pM50" stroke="#2a788e"/><use href="#pM51" stroke="#24888d"/><use href="#pM52" stroke="#219989"/><use href="#pM53" stroke="#22a884"/><use href="#pB10" stroke="#355f8d"/><use href="#pB11" stroke="#2e6f8e"/><use href="#pB12" stroke="#27818d"/><use href="#pB13" stroke="#21918c"/><use href="#pB20" stroke="#355f8d"/><use href="#pB21" stroke="#2e6f8e"/><use href="#pB22" stroke="#27818d"/><use href="#pB23" stroke="#21918c"/><use href="#pB30" stroke="#355f8d"/><use href="#pB31" stroke="#2e6f8e"/><use href="#pB32" stroke="#27818d"/><use href="#pB33" stroke="#21918c"/><use href="#pR10" stroke="#2a788e"/><use href="#pR11" stroke="#24888d"/><use href="#pR12" stroke="#219989"/><use href="#pR13" stroke="#22a884"/><use href="#pR20" stroke="#2a788e"/><use href="#pR21" stroke="#24888d"/><use href="#pR22" stroke="#219989"/><use href="#pR23" stroke="#22a884"/></g>
<text x="1460.8" y="983.6" font-size="29.6" text-anchor="middle">CD127 (IL2Rα)</text>
<rect x="1359.3" y="997.6" width="203.1" height="199.7" fill="none" stroke="#333333" stroke-width="1.6"/>
<path d="M1377.5 1197.3v13.5M1430.3 1197.3v13.5M1483.0 1197.3v13.5M1535.8 1197.3v13.5M1359.3 1156.2h-13M1359.3 1096.0h-13M1359.3 1035.8h-13" stroke="#333333" stroke-width="1.6"/>
<text x="1377.5" y="1237.5" font-size="23" text-anchor="middle">−5</text>
<text x="1430.3" y="1237.5" font-size="23" text-anchor="middle">0</text>
<text x="1483.0" y="1237.5" font-size="23" text-anchor="middle">5</text>
<text x="1535.8" y="1237.5" font-size="23" text-anchor="middle">10</text>
<text transform="translate(1336.6 1156.2) rotate(-90)" font-size="23" text-anchor="middle">−5</text>
<text transform="translate(1336.6 1096.0) rotate(-90)" font-size="23" text-anchor="middle">0</text>
<text transform="translate(1336.6 1035.8) rotate(-90)" font-size="23" text-anchor="middle">5</text>
<g transform="translate(1430.3 1096.0)" stroke-linecap="round" stroke-width="4.1" fill="none"><use href="#pT10" stroke="#3b518a"/><use href="#pT11" stroke="#33638d"/><use href="#pT12" stroke="#2c748e"/><use href="#pT13" stroke="#26848d"/><use href="#pT20" stroke="#3b518a"/><use href="#pT21" stroke="#33638d"/><use href="#pT22" stroke="#2c748e"/><use href="#pT23" stroke="#26848d"/><use href="#pT30" stroke="#44bf70"/><use href="#pT31" stroke="#67cb5c"/><use href="#pT32" stroke="#91d642"/><use href="#pT33" stroke="#bddf26"/><use href="#pL10" stroke="#355f8d"/><use href="#pL11" stroke="#2e6f8e"/><use href="#pL12" stroke="#27818d"/><use href="#pL13" stroke="#21918c"/><use href="#pL20" stroke="#306c8e"/><use href="#pL21" stroke="#297c8e"/><use href="#pL22" stroke="#228d8c"/><use href="#pL23" stroke="#229c88"/><use href="#pL3a0" stroke="#355f8d"/><use href="#pL3a1" stroke="#2e6f8e"/><use href="#pL3a2" stroke="#27818d"/><use href="#pL3a3" stroke="#21918c"/><use href="#pL3b0" stroke="#355f8d"/><use href="#pL3b1" stroke="#2e6f8e"/><use href="#pL3b2" stroke="#27818d"/><use href="#pL3b3" stroke="#21918c"/><use href="#pM10" stroke="#3b518a"/><use href="#pM11" stroke="#33638d"/><use href="#pM12" stroke="#2c748e"/><use href="#pM13" stroke="#26848d"/><use href="#pM20" stroke="#3b518a"/><use href="#pM21" stroke="#33638d"/><use href="#pM22" stroke="#2c748e"/><use href="#pM23" stroke="#26848d"/><use href="#pM30" stroke="#3b518a"/><use href="#pM31" stroke="#33638d"/><use href="#pM32" stroke="#2c748e"/><use href="#pM33" stroke="#26848d"/><use href="#pM40" stroke="#3b518a"/><use href="#pM41" stroke="#33638d"/><use href="#pM42" stroke="#2c748e"/><use href="#pM43" stroke="#26848d"/><use href="#pM50" stroke="#3b518a"/><use href="#pM51" stroke="#33638d"/><use href="#pM52" stroke="#2c748e"/><use href="#pM53" stroke="#26848d"/><use href="#pB10" stroke="#3d4c89"/><use href="#pB11" stroke="#365e8d"/><use href="#pB12" stroke="#2e6f8e"/><use href="#pB13" stroke="#27808d"/><use href="#pB20" stroke="#3d4c89"/><use href="#pB21" stroke="#365e8d"/><use href="#pB22" stroke="#2e6f8e"/><use href="#pB23" stroke="#27808d"/><use href="#pB30" stroke="#3d4c89"/><use href="#pB31" stroke="#365e8d"/><use href="#pB32" stroke="#2e6f8e"/><use href="#pB33" stroke="#27808d"/><use href="#pR10" stroke="#306c8e"/><use href="#pR11" stroke="#297c8e"/><use href="#pR12" stroke="#228d8c"/><use href="#pR13" stroke="#229c88"/><use href="#pR20" stroke="#33b47a"/><use href="#pR21" stroke="#4cc26b"/><use href="#pR22" stroke="#72ce56"/><use href="#pR23" stroke="#9cd83c"/></g>
<text x="1718.2" y="983.6" font-size="29.6" text-anchor="middle">CD134 (OX40)</text>
<rect x="1616.7" y="997.6" width="203.1" height="199.7" fill="none" stroke="#333333" stroke-width="1.6"/>
<path d="M1634.9 1197.3v13.5M1687.7 1197.3v13.5M1740.4 1197.3v13.5M1793.2 1197.3v13.5M1616.7 1156.2h-13M1616.7 1096.0h-13M1616.7 1035.8h-13" stroke="#333333" stroke-width="1.6"/>
<text x="1634.9" y="1237.5" font-size="23" text-anchor="middle">−5</text>
<text x="1687.7" y="1237.5" font-size="23" text-anchor="middle">0</text>
<text x="1740.4" y="1237.5" font-size="23" text-anchor="middle">5</text>
<text x="1793.2" y="1237.5" font-size="23" text-anchor="middle">10</text>
<text transform="translate(1594.0 1156.2) rotate(-90)" font-size="23" text-anchor="middle">−5</text>
<text transform="translate(1594.0 1096.0) rotate(-90)" font-size="23" text-anchor="middle">0</text>
<text transform="translate(1594.0 1035.8) rotate(-90)" font-size="23" text-anchor="middle">5</text>
<g transform="translate(1687.7 1096.0)" stroke-linecap="round" stroke-width="4.1" fill="none"><use href="#pT10" stroke="#2a788e"/><use href="#pT11" stroke="#24888d"/><use href="#pT12" stroke="#219989"/><use href="#pT13" stroke="#22a884"/><use href="#pT20" stroke="#2a788e"/><use href="#pT21" stroke="#24888d"/><use href="#pT22" stroke="#219989"/><use href="#pT23" stroke="#22a884"/><use href="#pT30" stroke="#2a788e"/><use href="#pT31" stroke="#24888d"/><use href="#pT32" stroke="#219989"/><use href="#pT33" stroke="#22a884"/><use href="#pL10" stroke="#306c8e"/><use href="#pL11" stroke="#297c8e"/><use href="#pL12" stroke="#228d8c"/><use href="#pL13" stroke="#229c88"/><use href="#pL20" stroke="#306c8e"/><use href="#pL21" stroke="#297c8e"/><use href="#pL22" stroke="#228d8c"/><use href="#pL23" stroke="#229c88"/><use href="#pL3a0" stroke="#306c8e"/><use href="#pL3a1" stroke="#297c8e"/><use href="#pL3a2" stroke="#228d8c"/><use href="#pL3a3" stroke="#229c88"/><use href="#pL3b0" stroke="#306c8e"/><use href="#pL3b1" stroke="#297c8e"/><use href="#pL3b2" stroke="#228d8c"/><use href="#pL3b3" stroke="#229c88"/><use href="#pM10" stroke="#375a8c"/><use href="#pM11" stroke="#306a8d"/><use href="#pM12" stroke="#297c8e"/><use href="#pM13" stroke="#238c8c"/><use href="#pM20" stroke="#375a8c"/><use href="#pM21" stroke="#306a8d"/><use href="#pM22" stroke="#297c8e"/><use href="#pM23" stroke="#238c8c"/><use href="#pM30" stroke="#375a8c"/><use href="#pM31" stroke="#306a8d"/><use href="#pM32" stroke="#297c8e"/><use href="#pM33" stroke="#238c8c"/><use href="#pM40" stroke="#375a8c"/><use href="#pM41" stroke="#306a8d"/><use href="#pM42" stroke="#297c8e"/><use href="#pM43" stroke="#238c8c"/><use href="#pM50" stroke="#375a8c"/><use href="#pM51" stroke="#306a8d"/><use href="#pM52" stroke="#297c8e"/><use href="#pM53" stroke="#238c8c"/><use href="#pB10" stroke="#3b518a"/><use href="#pB11" stroke="#33638d"/><use href="#pB12" stroke="#2c748e"/><use href="#pB13" stroke="#26848d"/><use href="#pB20" stroke="#3b518a"/><use href="#pB21" stroke="#33638d"/><use href="#pB22" stroke="#2c748e"/><use href="#pB23" stroke="#26848d"/><use href="#pB30" stroke="#482475"/><use href="#pB31" stroke="#433981"/><use href="#pB32" stroke="#3d4d89"/><use href="#pB33" stroke="#355f8d"/><use href="#pR10" stroke="#306c8e"/><use href="#pR11" stroke="#297c8e"/><use href="#pR12" stroke="#228d8c"/><use href="#pR13" stroke="#229c88"/><use href="#pR20" stroke="#306c8e"/><use href="#pR21" stroke="#297c8e"/><use href="#pR22" stroke="#228d8c"/><use href="#pR23" stroke="#229c88"/></g>
<text x="1975.6" y="983.6" font-size="29.6" text-anchor="middle">CD137 (4-1BB)</text>
<rect x="1874.1" y="997.6" width="203.1" height="199.7" fill="none" stroke="#333333" stroke-width="1.6"/>
<path d="M1892.3 1197.3v13.5M1945.1 1197.3v13.5M1997.8 1197.3v13.5M2050.6 1197.3v13.5M1874.1 1156.2h-13M1874.1 1096.0h-13M1874.1 1035.8h-13" stroke="#333333" stroke-width="1.6"/>
<text x="1892.3" y="1237.5" font-size="23" text-anchor="middle">−5</text>
<text x="1945.1" y="1237.5" font-size="23" text-anchor="middle">0</text>
<text x="1997.8" y="1237.5" font-size="23" text-anchor="middle">5</text>
<text x="2050.6" y="1237.5" font-size="23" text-anchor="middle">10</text>
<text transform="translate(1851.4 1156.2) rotate(-90)" font-size="23" text-anchor="middle">−5</text>
<text transform="translate(1851.4 1096.0) rotate(-90)" font-size="23" text-anchor="middle">0</text>
<text transform="translate(1851.4 1035.8) rotate(-90)" font-size="23" text-anchor="middle">5</text>
<g transform="translate(1945.1 1096.0)" stroke-linecap="round" stroke-width="4.1" fill="none"><use href="#pT10" stroke="#482475"/><use href="#pT11" stroke="#433981"/><use href="#pT12" stroke="#3d4d89"/><use href="#pT13" stroke="#355f8d"/><use href="#pT20" stroke="#482475"/><use href="#pT21" stroke="#433981"/><use href="#pT22" stroke="#3d4d89"/><use href="#pT23" stroke="#355f8d"/><use href="#pT30" stroke="#482475"/><use href="#pT31" stroke="#433981"/><use href="#pT32" stroke="#3d4d89"/><use href="#pT33" stroke="#355f8d"/><use href="#pL10" stroke="#471d6e"/><use href="#pL11" stroke="#45327d"/><use href="#pL12" stroke="#3f4888"/><use href="#pL13" stroke="#375a8c"/><use href="#pL20" stroke="#355f8d"/><use href="#pL21" stroke="#2e6f8e"/><use href="#pL22" stroke="#27818d"/><use href="#pL23" stroke="#21918c"/><use href="#pL3a0" stroke="#471d6e"/><use href="#pL3a1" stroke="#45327d"/><use href="#pL3a2" stroke="#3f4888"/><use href="#pL3a3" stroke="#375a8c"/><use href="#pL3b0" stroke="#471d6e"/><use href="#pL3b1" stroke="#45327d"/><use href="#pL3b2" stroke="#3f4888"/><use href="#pL3b3" stroke="#375a8c"/><use href="#pM10" stroke="#482475"/><use href="#pM11" stroke="#433981"/><use href="#pM12" stroke="#3d4d89"/><use href="#pM13" stroke="#355f8d"/><use href="#pM20" stroke="#306c8e"/><use href="#pM21" stroke="#297c8e"/><use href="#pM22" stroke="#228d8c"/><use href="#pM23" stroke="#229c88"/><use href="#pM30" stroke="#306c8e"/><use href="#pM31" stroke="#297c8e"/><use href="#pM32" stroke="#228d8c"/><use href="#pM33" stroke="#229c88"/><use href="#pM40" stroke="#414487"/><use href="#pM41" stroke="#39568b"/><use href="#pM42" stroke="#31688d"/><use href="#pM43" stroke="#2a788e"/><use href="#pM50" stroke="#461264"/><use href="#pM51" stroke="#472978"/><use href="#pM52" stroke="#423f84"/><use href="#pM53" stroke="#3b528a"/><use href="#pB10" stroke="#44347e"/><use href="#pB11" stroke="#3f4888"/><use href="#pB12" stroke="#375b8c"/><use href="#pB13" stroke="#306c8e"/><use href="#pB20" stroke="#44347e"/><use href="#pB21" stroke="#3f4888"/><use href="#pB22" stroke="#375b8c"/><use href="#pB23" stroke="#306c8e"/><use href="#pB30" stroke="#45085b"/><use href="#pB31" stroke="#471f70"/><use href="#pB32" stroke="#44367f"/><use href="#pB33" stroke="#3f4988"/><use href="#pR10" stroke="#472a79"/><use href="#pR11" stroke="#423f84"/><use href="#pR12" stroke="#3a538a"/><use href="#pR13" stroke="#33648d"/><use href="#pR20" stroke="#472a79"/><use href="#pR21" stroke="#423f84"/><use href="#pR22" stroke="#3a538a"/><use href="#pR23" stroke="#33648d"/></g>
<text x="173.8" y="1272.2" font-size="29.6" text-anchor="middle">CD152 (CTLA4)</text>
<rect x="72.3" y="1286.2" width="203.1" height="199.7" fill="none" stroke="#333333" stroke-width="1.6"/>
<path d="M90.6 1485.9v13.5M143.3 1485.9v13.5M196.1 1485.9v13.5M248.8 1485.9v13.5M72.3 1444.8h-13M72.3 1384.6h-13M72.3 1324.3h-13" stroke="#333333" stroke-width="1.6"/>
<text x="90.6" y="1526.1" font-size="23" text-anchor="middle">−5</text>
<text x="143.3" y="1526.1" font-size="23" text-anchor="middle">0</text>
<text x="196.1" y="1526.1" font-size="23" text-anchor="middle">5</text>
<text x="248.8" y="1526.1" font-size="23" text-anchor="middle">10</text>
<text transform="translate(49.6 1444.8) rotate(-90)" font-size="23" text-anchor="middle">−5</text>
<text transform="translate(49.6 1384.6) rotate(-90)" font-size="23" text-anchor="middle">0</text>
<text transform="translate(49.6 1324.3) rotate(-90)" font-size="23" text-anchor="middle">5</text>
<g transform="translate(143.3 1384.6)" stroke-linecap="round" stroke-width="4.1" fill="none"><use href="#pT10" stroke="#2a788e"/><use href="#pT11" stroke="#24888d"/><use href="#pT12" stroke="#219989"/><use href="#pT13" stroke="#22a884"/><use href="#pT20" stroke="#2a788e"/><use href="#pT21" stroke="#24888d"/><use href="#pT22" stroke="#219989"/><use href="#pT23" stroke="#22a884"/><use href="#pT30" stroke="#2a788e"/><use href="#pT31" stroke="#24888d"/><use href="#pT32" stroke="#219989"/><use href="#pT33" stroke="#22a884"/><use href="#pL10" stroke="#2a788e"/><use href="#pL11" stroke="#24888d"/><use href="#pL12" stroke="#219989"/><use href="#pL13" stroke="#22a884"/><use href="#pL20" stroke="#306c8e"/><use href="#pL21" stroke="#297c8e"/><use href="#pL22" stroke="#228d8c"/><use href="#pL23" stroke="#229c88"/><use href="#pL3a0" stroke="#414487"/><use href="#pL3a1" stroke="#39568b"/><use href="#pL3a2" stroke="#31688d"/><use href="#pL3a3" stroke="#2a788e"/><use href="#pL3b0" stroke="#306c8e"/><use href="#pL3b1" stroke="#297c8e"/><use href="#pL3b2" stroke="#228d8c"/><use href="#pL3b3" stroke="#229c88"/><use href="#pM10" stroke="#461264"/><use href="#pM11" stroke="#472978"/><use href="#pM12" stroke="#423f84"/><use href="#pM13" stroke="#3b528a"/><use href="#pM20" stroke="#440154"/><use href="#pM21" stroke="#471869"/><use href="#pM22" stroke="#462f7b"/><use href="#pM23" stroke="#414487"/><use href="#pM30" stroke="#440154"/><use href="#pM31" stroke="#471869"/><use href="#pM32" stroke="#462f7b"/><use href="#pM33" stroke="#414487"/><use href="#pM40" stroke="#440154"/><use href="#pM41" stroke="#471869"/><use href="#pM42" stroke="#462f7b"/><use href="#pM43" stroke="#414487"/><use href="#pM50" stroke="#440154"/><use href="#pM51" stroke="#471869"/><use href="#pM52" stroke="#462f7b"/><use href="#pM53" stroke="#414487"/><use href="#pB10" stroke="#440154"/><use href="#pB11" stroke="#461163"/><use href="#pB12" stroke="#472978"/><use href="#pB13" stroke="#423e83"/><use href="#pB20" stroke="#440154"/><use href="#pB21" stroke="#461163"/><use href="#pB22" stroke="#472978"/><use href="#pB23" stroke="#423e83"/><use href="#pB30" stroke="#440154"/><use href="#pB31" stroke="#461163"/><use href="#pB32" stroke="#472978"/><use href="#pB33" stroke="#423e83"/><use href="#pR10" stroke="#2a788e"/><use href="#pR11" stroke="#24888d"/><use href="#pR12" stroke="#219989"/><use href="#pR13" stroke="#22a884"/><use href="#pR20" stroke="#2a788e"/><use href="#pR21" stroke="#24888d"/><use href="#pR22" stroke="#219989"/><use href="#pR23" stroke="#22a884"/></g>
<clipPath id="ce02"><rect x="72.3" y="1286.2" width="203.4" height="199.7"/></clipPath>
<ellipse cx="261.0" cy="1309.6" rx="16.9" ry="8.1" transform="rotate(40 261.0 1309.6)" stroke="#0000e0" stroke-width="3.3" stroke-dasharray="8.5 2.9" fill="none" clip-path="url(#ce02)"/>
<text x="431.2" y="1272.2" font-size="29.6" text-anchor="middle">CD183 (CXCR3)</text>
<rect x="329.7" y="1286.2" width="203.1" height="199.7" fill="none" stroke="#333333" stroke-width="1.6"/>
<path d="M347.9 1485.9v13.5M400.7 1485.9v13.5M453.4 1485.9v13.5M506.2 1485.9v13.5M329.7 1444.8h-13M329.7 1384.6h-13M329.7 1324.3h-13" stroke="#333333" stroke-width="1.6"/>
<text x="347.9" y="1526.1" font-size="23" text-anchor="middle">−5</text>
<text x="400.7" y="1526.1" font-size="23" text-anchor="middle">0</text>
<text x="453.4" y="1526.1" font-size="23" text-anchor="middle">5</text>
<text x="506.2" y="1526.1" font-size="23" text-anchor="middle">10</text>
<text transform="translate(307.0 1444.8) rotate(-90)" font-size="23" text-anchor="middle">−5</text>
<text transform="translate(307.0 1384.6) rotate(-90)" font-size="23" text-anchor="middle">0</text>
<text transform="translate(307.0 1324.3) rotate(-90)" font-size="23" text-anchor="middle">5</text>
<g transform="translate(400.7 1384.6)" stroke-linecap="round" stroke-width="4.1" fill="none"><use href="#pT10" stroke="#238c8c"/><use href="#pT11" stroke="#219b88"/><use href="#pT12" stroke="#27ab81"/><use href="#pT13" stroke="#3dba74"/><use href="#pT20" stroke="#238c8c"/><use href="#pT21" stroke="#219b88"/><use href="#pT22" stroke="#27ab81"/><use href="#pT23" stroke="#3dba74"/><use href="#pT30" stroke="#238c8c"/><use href="#pT31" stroke="#219b88"/><use href="#pT32" stroke="#27ab81"/><use href="#pT33" stroke="#3dba74"/><use href="#pL10" stroke="#25858d"/><use href="#pL11" stroke="#21948b"/><use href="#pL12" stroke="#22a585"/><use href="#pL13" stroke="#33b47a"/><use href="#pL20" stroke="#25858d"/><use href="#pL21" stroke="#21948b"/><use href="#pL22" stroke="#22a585"/><use href="#pL23" stroke="#33b47a"/><use href="#pL3a0" stroke="#25858d"/><use href="#pL3a1" stroke="#21948b"/><use href="#pL3a2" stroke="#22a585"/><use href="#pL3a3" stroke="#33b47a"/><use href="#pL3b0" stroke="#25858d"/><use href="#pL3b1" stroke="#21948b"/><use href="#pL3b2" stroke="#22a585"/><use href="#pL3b3" stroke="#33b47a"/><use href="#pM10" stroke="#21918c"/><use href="#pM11" stroke="#22a087"/><use href="#pM12" stroke="#2eb07d"/><use href="#pM13" stroke="#44bf70"/><use href="#pM20" stroke="#21918c"/><use href="#pM21" stroke="#22a087"/><use href="#pM22" stroke="#2eb07d"/><use href="#pM23" stroke="#44bf70"/><use href="#pM30" stroke="#21918c"/><use href="#pM31" stroke="#22a087"/><use href="#pM32" stroke="#2eb07d"/><use href="#pM33" stroke="#44bf70"/><use href="#pM40" stroke="#21918c"/><use href="#pM41" stroke="#22a087"/><use href="#pM42" stroke="#2eb07d"/><use href="#pM43" stroke="#44bf70"/><use href="#pM50" stroke="#21918c"/><use href="#pM51" stroke="#22a087"/><use href="#pM52" stroke="#2eb07d"/><use href="#pM53" stroke="#44bf70"/><use href="#pB10" stroke="#25858d"/><use href="#pB11" stroke="#21948b"/><use href="#pB12" stroke="#22a585"/><use href="#pB13" stroke="#33b47a"/><use href="#pB20" stroke="#25858d"/><use href="#pB21" stroke="#21948b"/><use href="#pB22" stroke="#22a585"/><use href="#pB23" stroke="#33b47a"/><use href="#pB30" stroke="#25858d"/><use href="#pB31" stroke="#21948b"/><use href="#pB32" stroke="#22a585"/><use href="#pB33" stroke="#33b47a"/><use href="#pR10" stroke="#25858d"/><use href="#pR11" stroke="#21948b"/><use href="#pR12" stroke="#22a585"/><use href="#pR13" stroke="#33b47a"/><use href="#pR20" stroke="#25858d"/><use href="#pR21" stroke="#21948b"/><use href="#pR22" stroke="#22a585"/><use href="#pR23" stroke="#33b47a"/></g>
<text x="688.6" y="1272.2" font-size="29.6" text-anchor="middle">CD197 (CCR7)</text>
<rect x="587.1" y="1286.2" width="203.1" height="199.7" fill="none" stroke="#333333" stroke-width="1.6"/>
<path d="M605.3 1485.9v13.5M658.1 1485.9v13.5M710.8 1485.9v13.5M763.6 1485.9v13.5M587.1 1444.8h-13M587.1 1384.6h-13M587.1 1324.3h-13" stroke="#333333" stroke-width="1.6"/>
<text x="605.3" y="1526.1" font-size="23" text-anchor="middle">−5</text>
<text x="658.1" y="1526.1" font-size="23" text-anchor="middle">0</text>
<text x="710.8" y="1526.1" font-size="23" text-anchor="middle">5</text>
<text x="763.6" y="1526.1" font-size="23" text-anchor="middle">10</text>
<text transform="translate(564.4 1444.8) rotate(-90)" font-size="23" text-anchor="middle">−5</text>
<text transform="translate(564.4 1384.6) rotate(-90)" font-size="23" text-anchor="middle">0</text>
<text transform="translate(564.4 1324.3) rotate(-90)" font-size="23" text-anchor="middle">5</text>
<g transform="translate(658.1 1384.6)" stroke-linecap="round" stroke-width="4.1" fill="none"><use href="#pT10" stroke="#21918c"/><use href="#pT11" stroke="#22a087"/><use href="#pT12" stroke="#2eb07d"/><use href="#pT13" stroke="#44bf70"/><use href="#pT20" stroke="#21918c"/><use href="#pT21" stroke="#22a087"/><use href="#pT22" stroke="#2eb07d"/><use href="#pT23" stroke="#44bf70"/><use href="#pT30" stroke="#21918c"/><use href="#pT31" stroke="#22a087"/><use href="#pT32" stroke="#2eb07d"/><use href="#pT33" stroke="#44bf70"/><use href="#pL10" stroke="#238c8c"/><use href="#pL11" stroke="#219b88"/><use href="#pL12" stroke="#27ab81"/><use href="#pL13" stroke="#3dba74"/><use href="#pL20" stroke="#29ad80"/><use href="#pL21" stroke="#3fbc73"/><use href="#pL22" stroke="#62c95f"/><use href="#pL23" stroke="#87d448"/><use href="#pL3a0" stroke="#25858d"/><use href="#pL3a1" stroke="#21948b"/><use href="#pL3a2" stroke="#22a585"/><use href="#pL3a3" stroke="#33b47a"/><use href="#pL3b0" stroke="#21968a"/><use href="#pL3b1" stroke="#22a585"/><use href="#pL3b2" stroke="#35b579"/><use href="#pL3b3" stroke="#4fc36a"/><use href="#pM10" stroke="#21968a"/><use href="#pM11" stroke="#22a585"/><use href="#pM12" stroke="#35b579"/><use href="#pM13" stroke="#4fc36a"/><use href="#pM20" stroke="#306c8e"/><use href="#pM21" stroke="#297c8e"/><use href="#pM22" stroke="#228d8c"/><use href="#pM23" stroke="#229c88"/><use href="#pM30" stroke="#21918c"/><use href="#pM31" stroke="#22a087"/><use href="#pM32" stroke="#2eb07d"/><use href="#pM33" stroke="#44bf70"/><use href="#pM40" stroke="#21968a"/><use href="#pM41" stroke="#22a585"/><use href="#pM42" stroke="#35b579"/><use href="#pM43" stroke="#4fc36a"/><use href="#pM50" stroke="#25858d"/><use href="#pM51" stroke="#21948b"/><use href="#pM52" stroke="#22a585"/><use href="#pM53" stroke="#33b47a"/><use href="#pB10" stroke="#2a788e"/><use href="#pB11" stroke="#24888d"/><use href="#pB12" stroke="#219989"/><use href="#pB13" stroke="#22a884"/><use href="#pB20" stroke="#2a788e"/><use href="#pB21" stroke="#24888d"/><use href="#pB22" stroke="#219989"/><use href="#pB23" stroke="#22a884"/><use href="#pB30" stroke="#2a788e"/><use href="#pB31" stroke="#24888d"/><use href="#pB32" stroke="#219989"/><use href="#pB33" stroke="#22a884"/><use href="#pR10" stroke="#25858d"/><use href="#pR11" stroke="#21948b"/><use href="#pR12" stroke="#22a585"/><use href="#pR13" stroke="#33b47a"/><use href="#pR20" stroke="#25858d"/><use href="#pR21" stroke="#21948b"/><use href="#pR22" stroke="#22a585"/><use href="#pR23" stroke="#33b47a"/></g>
<text x="946.0" y="1272.2" font-size="29.6" text-anchor="middle">CD223 (LAG3)</text>
<rect x="844.5" y="1286.2" width="203.1" height="199.7" fill="none" stroke="#333333" stroke-width="1.6"/>
<path d="M862.8 1485.9v13.5M915.5 1485.9v13.5M968.2 1485.9v13.5M1021.0 1485.9v13.5M844.5 1444.8h-13M844.5 1384.6h-13M844.5 1324.3h-13" stroke="#333333" stroke-width="1.6"/>
<text x="862.8" y="1526.1" font-size="23" text-anchor="middle">−5</text>
<text x="915.5" y="1526.1" font-size="23" text-anchor="middle">0</text>
<text x="968.2" y="1526.1" font-size="23" text-anchor="middle">5</text>
<text x="1021.0" y="1526.1" font-size="23" text-anchor="middle">10</text>
<text transform="translate(821.8 1444.8) rotate(-90)" font-size="23" text-anchor="middle">−5</text>
<text transform="translate(821.8 1384.6) rotate(-90)" font-size="23" text-anchor="middle">0</text>
<text transform="translate(821.8 1324.3) rotate(-90)" font-size="23" text-anchor="middle">5</text>
<g transform="translate(915.5 1384.6)" stroke-linecap="round" stroke-width="4.1" fill="none"><use href="#pT10" stroke="#2a788e"/><use href="#pT11" stroke="#24888d"/><use href="#pT12" stroke="#219989"/><use href="#pT13" stroke="#22a884"/><use href="#pT20" stroke="#2a788e"/><use href="#pT21" stroke="#24888d"/><use href="#pT22" stroke="#219989"/><use href="#pT23" stroke="#22a884"/><use href="#pT30" stroke="#2a788e"/><use href="#pT31" stroke="#24888d"/><use href="#pT32" stroke="#219989"/><use href="#pT33" stroke="#22a884"/><use href="#pL10" stroke="#306c8e"/><use href="#pL11" stroke="#297c8e"/><use href="#pL12" stroke="#228d8c"/><use href="#pL13" stroke="#229c88"/><use href="#pL20" stroke="#22a884"/><use href="#pL21" stroke="#38b777"/><use href="#pL22" stroke="#57c565"/><use href="#pL23" stroke="#7ad151"/><use href="#pL3a0" stroke="#306c8e"/><use href="#pL3a1" stroke="#297c8e"/><use href="#pL3a2" stroke="#228d8c"/><use href="#pL3a3" stroke="#229c88"/><use href="#pL3b0" stroke="#306c8e"/><use href="#pL3b1" stroke="#297c8e"/><use href="#pL3b2" stroke="#228d8c"/><use href="#pL3b3" stroke="#229c88"/><use href="#pM10" stroke="#306c8e"/><use href="#pM11" stroke="#297c8e"/><use href="#pM12" stroke="#228d8c"/><use href="#pM13" stroke="#229c88"/><use href="#pM20" stroke="#355f8d"/><use href="#pM21" stroke="#2e6f8e"/><use href="#pM22" stroke="#27818d"/><use href="#pM23" stroke="#21918c"/><use href="#pM30" stroke="#2a788e"/><use href="#pM31" stroke="#24888d"/><use href="#pM32" stroke="#219989"/><use href="#pM33" stroke="#22a884"/><use href="#pM40" stroke="#2a788e"/><use href="#pM41" stroke="#24888d"/><use href="#pM42" stroke="#219989"/><use href="#pM43" stroke="#22a884"/><use href="#pM50" stroke="#2a788e"/><use href="#pM51" stroke="#24888d"/><use href="#pM52" stroke="#219989"/><use href="#pM53" stroke="#22a884"/><use href="#pB10" stroke="#306c8e"/><use href="#pB11" stroke="#297c8e"/><use href="#pB12" stroke="#228d8c"/><use href="#pB13" stroke="#229c88"/><use href="#pB20" stroke="#33648d"/><use href="#pB21" stroke="#2c748e"/><use href="#pB22" stroke="#25868d"/><use href="#pB23" stroke="#21968a"/><use href="#pB30" stroke="#414487"/><use href="#pB31" stroke="#39568b"/><use href="#pB32" stroke="#31688d"/><use href="#pB33" stroke="#2a788e"/><use href="#pR10" stroke="#355f8d"/><use href="#pR11" stroke="#2e6f8e"/><use href="#pR12" stroke="#27818d"/><use href="#pR13" stroke="#21918c"/><use href="#pR20" stroke="#355f8d"/><use href="#pR21" stroke="#2e6f8e"/><use href="#pR22" stroke="#27818d"/><use href="#pR23" stroke="#21918c"/></g>
<text x="1203.4" y="1272.2" font-size="29.6" text-anchor="middle">CD244 (2B4)</text>
<rect x="1101.9" y="1286.2" width="203.1" height="199.7" fill="none" stroke="#333333" stroke-width="1.6"/>
<path d="M1120.1 1485.9v13.5M1172.9 1485.9v13.5M1225.6 1485.9v13.5M1278.4 1485.9v13.5M1101.9 1444.8h-13M1101.9 1384.6h-13M1101.9 1324.3h-13" stroke="#333333" stroke-width="1.6"/>
<text x="1120.1" y="1526.1" font-size="23" text-anchor="middle">−5</text>
<text x="1172.9" y="1526.1" font-size="23" text-anchor="middle">0</text>
<text x="1225.6" y="1526.1" font-size="23" text-anchor="middle">5</text>
<text x="1278.4" y="1526.1" font-size="23" text-anchor="middle">10</text>
<text transform="translate(1079.2 1444.8) rotate(-90)" font-size="23" text-anchor="middle">−5</text>
<text transform="translate(1079.2 1384.6) rotate(-90)" font-size="23" text-anchor="middle">0</text>
<text transform="translate(1079.2 1324.3) rotate(-90)" font-size="23" text-anchor="middle">5</text>
<g transform="translate(1172.9 1384.6)" stroke-linecap="round" stroke-width="4.1" fill="none"><use href="#pT10" stroke="#440154"/><use href="#pT11" stroke="#471869"/><use href="#pT12" stroke="#462f7b"/><use href="#pT13" stroke="#414487"/><use href="#pT20" stroke="#440154"/><use href="#pT21" stroke="#471869"/><use href="#pT22" stroke="#462f7b"/><use href="#pT23" stroke="#414487"/><use href="#pT30" stroke="#440154"/><use href="#pT31" stroke="#471869"/><use href="#pT32" stroke="#462f7b"/><use href="#pT33" stroke="#414487"/><use href="#pL10" stroke="#440154"/><use href="#pL11" stroke="#471869"/><use href="#pL12" stroke="#462f7b"/><use href="#pL13" stroke="#414487"/><use href="#pL20" stroke="#482475"/><use href="#pL21" stroke="#433981"/><use href="#pL22" stroke="#3d4d89"/><use href="#pL23" stroke="#355f8d"/><use href="#pL3a0" stroke="#440154"/><use href="#pL3a1" stroke="#471869"/><use href="#pL3a2" stroke="#462f7b"/><use href="#pL3a3" stroke="#414487"/><use href="#pL3b0" stroke="#440154"/><use href="#pL3b1" stroke="#471869"/><use href="#pL3b2" stroke="#462f7b"/><use href="#pL3b3" stroke="#414487"/><use href="#pM10" stroke="#414487"/><use href="#pM11" stroke="#39568b"/><use href="#pM12" stroke="#31688d"/><use href="#pM13" stroke="#2a788e"/><use href="#pM20" stroke="#45085b"/><use href="#pM21" stroke="#471f70"/><use href="#pM22" stroke="#44367f"/><use href="#pM23" stroke="#3f4988"/><use href="#pM30" stroke="#461264"/><use href="#pM31" stroke="#472978"/><use href="#pM32" stroke="#423f84"/><use href="#pM33" stroke="#3b528a"/><use href="#pM40" stroke="#306c8e"/><use href="#pM41" stroke="#297c8e"/><use href="#pM42" stroke="#228d8c"/><use href="#pM43" stroke="#229c88"/><use href="#pM50" stroke="#2a788e"/><use href="#pM51" stroke="#24888d"/><use href="#pM52" stroke="#219989"/><use href="#pM53" stroke="#22a884"/><use href="#pB10" stroke="#229c88"/><use href="#pB11" stroke="#27ab81"/><use href="#pB12" stroke="#3fbc73"/><use href="#pB13" stroke="#5fc860"/><use href="#pB20" stroke="#21918c"/><use href="#pB21" stroke="#22a087"/><use href="#pB22" stroke="#2eb07d"/><use href="#pB23" stroke="#44bf70"/><use href="#pB30" stroke="#2a788e"/><use href="#pB31" stroke="#24888d"/><use href="#pB32" stroke="#219989"/><use href="#pB33" stroke="#22a884"/><use href="#pR10" stroke="#440154"/><use href="#pR11" stroke="#471869"/><use href="#pR12" stroke="#462f7b"/><use href="#pR13" stroke="#414487"/><use href="#pR20" stroke="#440154"/><use href="#pR21" stroke="#471869"/><use href="#pR22" stroke="#462f7b"/><use href="#pR23" stroke="#414487"/></g>
<text x="1460.8" y="1272.2" font-size="29.6" text-anchor="middle">CD272 (BTLA)</text>
<rect x="1359.3" y="1286.2" width="203.1" height="199.7" fill="none" stroke="#333333" stroke-width="1.6"/>
<path d="M1377.5 1485.9v13.5M1430.3 1485.9v13.5M1483.0 1485.9v13.5M1535.8 1485.9v13.5M1359.3 1444.8h-13M1359.3 1384.6h-13M1359.3 1324.3h-13" stroke="#333333" stroke-width="1.6"/>
<text x="1377.5" y="1526.1" font-size="23" text-anchor="middle">−5</text>
<text x="1430.3" y="1526.1" font-size="23" text-anchor="middle">0</text>
<text x="1483.0" y="1526.1" font-size="23" text-anchor="middle">5</text>
<text x="1535.8" y="1526.1" font-size="23" text-anchor="middle">10</text>
<text transform="translate(1336.6 1444.8) rotate(-90)" font-size="23" text-anchor="middle">−5</text>
<text transform="translate(1336.6 1384.6) rotate(-90)" font-size="23" text-anchor="middle">0</text>
<text transform="translate(1336.6 1324.3) rotate(-90)" font-size="23" text-anchor="middle">5</text>
<g transform="translate(1430.3 1384.6)" stroke-linecap="round" stroke-width="4.1" fill="none"><use href="#pT10" stroke="#3b518a"/><use href="#pT11" stroke="#33638d"/><use href="#pT12" stroke="#2c748e"/><use href="#pT13" stroke="#26848d"/><use href="#pT20" stroke="#3b518a"/><use href="#pT21" stroke="#33638d"/><use href="#pT22" stroke="#2c748e"/><use href="#pT23" stroke="#26848d"/><use href="#pT30" stroke="#3b518a"/><use href="#pT31" stroke="#33638d"/><use href="#pT32" stroke="#2c748e"/><use href="#pT33" stroke="#26848d"/><use href="#pL10" stroke="#461264"/><use href="#pL11" stroke="#472978"/><use href="#pL12" stroke="#423f84"/><use href="#pL13" stroke="#3b528a"/><use href="#pL20" stroke="#306c8e"/><use href="#pL21" stroke="#297c8e"/><use href="#pL22" stroke="#228d8c"/><use href="#pL23" stroke="#229c88"/><use href="#pL3a0" stroke="#461264"/><use href="#pL3a1" stroke="#472978"/><use href="#pL3a2" stroke="#423f84"/><use href="#pL3a3" stroke="#3b528a"/><use href="#pL3b0" stroke="#3b518a"/><use href="#pL3b1" stroke="#33638d"/><use href="#pL3b2" stroke="#2c748e"/><use href="#pL3b3" stroke="#26848d"/><use href="#pM10" stroke="#45085b"/><use href="#pM11" stroke="#471f70"/><use href="#pM12" stroke="#44367f"/><use href="#pM13" stroke="#3f4988"/><use href="#pM20" stroke="#45085b"/><use href="#pM21" stroke="#471f70"/><use href="#pM22" stroke="#44367f"/><use href="#pM23" stroke="#3f4988"/><use href="#pM30" stroke="#482475"/><use href="#pM31" stroke="#433981"/><use href="#pM32" stroke="#3d4d89"/><use href="#pM33" stroke="#355f8d"/><use href="#pM40" stroke="#472a79"/><use href="#pM41" stroke="#423f84"/><use href="#pM42" stroke="#3a538a"/><use href="#pM43" stroke="#33648d"/><use href="#pM50" stroke="#461264"/><use href="#pM51" stroke="#472978"/><use href="#pM52" stroke="#423f84"/><use href="#pM53" stroke="#3b528a"/><use href="#pB10" stroke="#414487"/><use href="#pB11" stroke="#39568b"/><use href="#pB12" stroke="#31688d"/><use href="#pB13" stroke="#2a788e"/><use href="#pB20" stroke="#45085b"/><use href="#pB21" stroke="#471f70"/><use href="#pB22" stroke="#44367f"/><use href="#pB23" stroke="#3f4988"/><use href="#pB30" stroke="#45085b"/><use href="#pB31" stroke="#471f70"/><use href="#pB32" stroke="#44367f"/><use href="#pB33" stroke="#3f4988"/><use href="#pR10" stroke="#3b518a"/><use href="#pR11" stroke="#33638d"/><use href="#pR12" stroke="#2c748e"/><use href="#pR13" stroke="#26848d"/><use href="#pR20" stroke="#3b518a"/><use href="#pR21" stroke="#33638d"/><use href="#pR22" stroke="#2c748e"/><use href="#pR23" stroke="#26848d"/></g>
<text x="1718.2" y="1272.2" font-size="29.6" text-anchor="middle">CD274 (PD-L1)</text>
<rect x="1616.7" y="1286.2" width="203.1" height="199.7" fill="none" stroke="#333333" stroke-width="1.6"/>
<path d="M1634.9 1485.9v13.5M1687.7 1485.9v13.5M1740.4 1485.9v13.5M1793.2 1485.9v13.5M1616.7 1444.8h-13M1616.7 1384.6h-13M1616.7 1324.3h-13" stroke="#333333" stroke-width="1.6"/>
<text x="1634.9" y="1526.1" font-size="23" text-anchor="middle">−5</text>
<text x="1687.7" y="1526.1" font-size="23" text-anchor="middle">0</text>
<text x="1740.4" y="1526.1" font-size="23" text-anchor="middle">5</text>
<text x="1793.2" y="1526.1" font-size="23" text-anchor="middle">10</text>
<text transform="translate(1594.0 1444.8) rotate(-90)" font-size="23" text-anchor="middle">−5</text>
<text transform="translate(1594.0 1384.6) rotate(-90)" font-size="23" text-anchor="middle">0</text>
<text transform="translate(1594.0 1324.3) rotate(-90)" font-size="23" text-anchor="middle">5</text>
<g transform="translate(1687.7 1384.6)" stroke-linecap="round" stroke-width="4.1" fill="none"><use href="#pT10" stroke="#414487"/><use href="#pT11" stroke="#39568b"/><use href="#pT12" stroke="#31688d"/><use href="#pT13" stroke="#2a788e"/><use href="#pT20" stroke="#306c8e"/><use href="#pT21" stroke="#297c8e"/><use href="#pT22" stroke="#228d8c"/><use href="#pT23" stroke="#229c88"/><use href="#pT30" stroke="#414487"/><use href="#pT31" stroke="#39568b"/><use href="#pT32" stroke="#31688d"/><use href="#pT33" stroke="#2a788e"/><use href="#pL10" stroke="#44347e"/><use href="#pL11" stroke="#3f4888"/><use href="#pL12" stroke="#375b8c"/><use href="#pL13" stroke="#306c8e"/><use href="#pL20" stroke="#306c8e"/><use href="#pL21" stroke="#297c8e"/><use href="#pL22" stroke="#228d8c"/><use href="#pL23" stroke="#229c88"/><use href="#pL3a0" stroke="#375a8c"/><use href="#pL3a1" stroke="#306a8d"/><use href="#pL3a2" stroke="#297c8e"/><use href="#pL3a3" stroke="#238c8c"/><use href="#pL3b0" stroke="#375a8c"/><use href="#pL3b1" stroke="#306a8d"/><use href="#pL3b2" stroke="#297c8e"/><use href="#pL3b3" stroke="#238c8c"/><use href="#pM10" stroke="#33648d"/><use href="#pM11" stroke="#2c748e"/><use href="#pM12" stroke="#25868d"/><use href="#pM13" stroke="#21968a"/><use href="#pM20" stroke="#3b518a"/><use href="#pM21" stroke="#33638d"/><use href="#pM22" stroke="#2c748e"/><use href="#pM23" stroke="#26848d"/><use href="#pM30" stroke="#33648d"/><use href="#pM31" stroke="#2c748e"/><use href="#pM32" stroke="#25868d"/><use href="#pM33" stroke="#21968a"/><use href="#pM40" stroke="#33648d"/><use href="#pM41" stroke="#2c748e"/><use href="#pM42" stroke="#25868d"/><use href="#pM43" stroke="#21968a"/><use href="#pM50" stroke="#414487"/><use href="#pM51" stroke="#39568b"/><use href="#pM52" stroke="#31688d"/><use href="#pM53" stroke="#2a788e"/><use href="#pB10" stroke="#414487"/><use href="#pB11" stroke="#39568b"/><use href="#pB12" stroke="#31688d"/><use href="#pB13" stroke="#2a788e"/><use href="#pB20" stroke="#414487"/><use href="#pB21" stroke="#39568b"/><use href="#pB22" stroke="#31688d"/><use href="#pB23" stroke="#2a788e"/><use href="#pB30" stroke="#414487"/><use href="#pB31" stroke="#39568b"/><use href="#pB32" stroke="#31688d"/><use href="#pB33" stroke="#2a788e"/><use href="#pR10" stroke="#414487"/><use href="#pR11" stroke="#39568b"/><use href="#pR12" stroke="#31688d"/><use href="#pR13" stroke="#2a788e"/><use href="#pR20" stroke="#414487"/><use href="#pR21" stroke="#39568b"/><use href="#pR22" stroke="#31688d"/><use href="#pR23" stroke="#2a788e"/></g>
<text x="1975.6" y="1272.2" font-size="29.6" text-anchor="middle">CD278 (ICOS)</text>
<rect x="1874.1" y="1286.2" width="203.1" height="199.7" fill="none" stroke="#333333" stroke-width="1.6"/>
<path d="M1892.3 1485.9v13.5M1945.1 1485.9v13.5M1997.8 1485.9v13.5M2050.6 1485.9v13.5M1874.1 1444.8h-13M1874.1 1384.6h-13M1874.1 1324.3h-13" stroke="#333333" stroke-width="1.6"/>
<text x="1892.3" y="1526.1" font-size="23" text-anchor="middle">−5</text>
<text x="1945.1" y="1526.1" font-size="23" text-anchor="middle">0</text>
<text x="1997.8" y="1526.1" font-size="23" text-anchor="middle">5</text>
<text x="2050.6" y="1526.1" font-size="23" text-anchor="middle">10</text>
<text transform="translate(1851.4 1444.8) rotate(-90)" font-size="23" text-anchor="middle">−5</text>
<text transform="translate(1851.4 1384.6) rotate(-90)" font-size="23" text-anchor="middle">0</text>
<text transform="translate(1851.4 1324.3) rotate(-90)" font-size="23" text-anchor="middle">5</text>
<g transform="translate(1945.1 1384.6)" stroke-linecap="round" stroke-width="4.1" fill="none"><use href="#pT10" stroke="#21968a"/><use href="#pT11" stroke="#22a585"/><use href="#pT12" stroke="#35b579"/><use href="#pT13" stroke="#4fc36a"/><use href="#pT20" stroke="#21968a"/><use href="#pT21" stroke="#22a585"/><use href="#pT22" stroke="#35b579"/><use href="#pT23" stroke="#4fc36a"/><use href="#pT30" stroke="#21968a"/><use href="#pT31" stroke="#22a585"/><use href="#pT32" stroke="#35b579"/><use href="#pT33" stroke="#4fc36a"/><use href="#pL10" stroke="#25858d"/><use href="#pL11" stroke="#21948b"/><use href="#pL12" stroke="#22a585"/><use href="#pL13" stroke="#33b47a"/><use href="#pL20" stroke="#306c8e"/><use href="#pL21" stroke="#297c8e"/><use href="#pL22" stroke="#228d8c"/><use href="#pL23" stroke="#229c88"/><use href="#pL3a0" stroke="#306c8e"/><use href="#pL3a1" stroke="#297c8e"/><use href="#pL3a2" stroke="#228d8c"/><use href="#pL3a3" stroke="#229c88"/><use href="#pL3b0" stroke="#306c8e"/><use href="#pL3b1" stroke="#297c8e"/><use href="#pL3b2" stroke="#228d8c"/><use href="#pL3b3" stroke="#229c88"/><use href="#pM10" stroke="#433a82"/><use href="#pM11" stroke="#3d4d89"/><use href="#pM12" stroke="#34608d"/><use href="#pM13" stroke="#2d718e"/><use href="#pM20" stroke="#433a82"/><use href="#pM21" stroke="#3d4d89"/><use href="#pM22" stroke="#34608d"/><use href="#pM23" stroke="#2d718e"/><use href="#pM30" stroke="#433a82"/><use href="#pM31" stroke="#3d4d89"/><use href="#pM32" stroke="#34608d"/><use href="#pM33" stroke="#2d718e"/><use href="#pM40" stroke="#433a82"/><use href="#pM41" stroke="#3d4d89"/><use href="#pM42" stroke="#34608d"/><use href="#pM43" stroke="#2d718e"/><use href="#pM50" stroke="#433a82"/><use href="#pM51" stroke="#3d4d89"/><use href="#pM52" stroke="#34608d"/><use href="#pM53" stroke="#2d718e"/><use href="#pB10" stroke="#423e83"/><use href="#pB11" stroke="#3c508a"/><use href="#pB12" stroke="#33638d"/><use href="#pB13" stroke="#2c738e"/><use href="#pB20" stroke="#423e83"/><use href="#pB21" stroke="#3c508a"/><use href="#pB22" stroke="#33638d"/><use href="#pB23" stroke="#2c738e"/><use href="#pB30" stroke="#423e83"/><use href="#pB31" stroke="#3c508a"/><use href="#pB32" stroke="#33638d"/><use href="#pB33" stroke="#2c738e"/><use href="#pR10" stroke="#306c8e"/><use href="#pR11" stroke="#297c8e"/><use href="#pR12" stroke="#228d8c"/><use href="#pR13" stroke="#229c88"/><use href="#pR20" stroke="#306c8e"/><use href="#pR21" stroke="#297c8e"/><use href="#pR22" stroke="#228d8c"/><use href="#pR23" stroke="#229c88"/></g>
<text x="173.8" y="1560.8" font-size="29.6" text-anchor="middle">CD279 (PD1)</text>
<rect x="72.3" y="1574.8" width="203.1" height="199.7" fill="none" stroke="#333333" stroke-width="1.6"/>
<path d="M90.6 1774.5v13.5M143.3 1774.5v13.5M196.1 1774.5v13.5M248.8 1774.5v13.5M72.3 1733.5h-13M72.3 1673.2h-13M72.3 1613.0h-13" stroke="#333333" stroke-width="1.6"/>
<text x="90.6" y="1814.7" font-size="23" text-anchor="middle">−5</text>
<text x="143.3" y="1814.7" font-size="23" text-anchor="middle">0</text>
<text x="196.1" y="1814.7" font-size="23" text-anchor="middle">5</text>
<text x="248.8" y="1814.7" font-size="23" text-anchor="middle">10</text>
<text transform="translate(49.6 1733.5) rotate(-90)" font-size="23" text-anchor="middle">−5</text>
<text transform="translate(49.6 1673.2) rotate(-90)" font-size="23" text-anchor="middle">0</text>
<text transform="translate(49.6 1613.0) rotate(-90)" font-size="23" text-anchor="middle">5</text>
<g transform="translate(143.3 1673.2)" stroke-linecap="round" stroke-width="4.1" fill="none"><use href="#pT10" stroke="#33b47a"/><use href="#pT11" stroke="#4cc26b"/><use href="#pT12" stroke="#72ce56"/><use href="#pT13" stroke="#9cd83c"/><use href="#pT20" stroke="#33b47a"/><use href="#pT21" stroke="#4cc26b"/><use href="#pT22" stroke="#72ce56"/><use href="#pT23" stroke="#9cd83c"/><use href="#pT30" stroke="#33b47a"/><use href="#pT31" stroke="#4cc26b"/><use href="#pT32" stroke="#72ce56"/><use href="#pT33" stroke="#9cd83c"/><use href="#pL10" stroke="#33b47a"/><use href="#pL11" stroke="#4cc26b"/><use href="#pL12" stroke="#72ce56"/><use href="#pL13" stroke="#9cd83c"/><use href="#pL20" stroke="#29ad80"/><use href="#pL21" stroke="#3fbc73"/><use href="#pL22" stroke="#62c95f"/><use href="#pL23" stroke="#87d448"/><use href="#pL3a0" stroke="#22a884"/><use href="#pL3a1" stroke="#38b777"/><use href="#pL3a2" stroke="#57c565"/><use href="#pL3a3" stroke="#7ad151"/><use href="#pL3b0" stroke="#22a884"/><use href="#pL3b1" stroke="#38b777"/><use href="#pL3b2" stroke="#57c565"/><use href="#pL3b3" stroke="#7ad151"/><use href="#pM10" stroke="#306c8e"/><use href="#pM11" stroke="#297c8e"/><use href="#pM12" stroke="#228d8c"/><use href="#pM13" stroke="#229c88"/><use href="#pM20" stroke="#306c8e"/><use href="#pM21" stroke="#297c8e"/><use href="#pM22" stroke="#228d8c"/><use href="#pM23" stroke="#229c88"/><use href="#pM30" stroke="#306c8e"/><use href="#pM31" stroke="#297c8e"/><use href="#pM32" stroke="#228d8c"/><use href="#pM33" stroke="#229c88"/><use href="#pM40" stroke="#306c8e"/><use href="#pM41" stroke="#297c8e"/><use href="#pM42" stroke="#228d8c"/><use href="#pM43" stroke="#229c88"/><use href="#pM50" stroke="#306c8e"/><use href="#pM51" stroke="#297c8e"/><use href="#pM52" stroke="#228d8c"/><use href="#pM53" stroke="#229c88"/><use href="#pB10" stroke="#306c8e"/><use href="#pB11" stroke="#297c8e"/><use href="#pB12" stroke="#228d8c"/><use href="#pB13" stroke="#229c88"/><use href="#pB20" stroke="#355f8d"/><use href="#pB21" stroke="#2e6f8e"/><use href="#pB22" stroke="#27818d"/><use href="#pB23" stroke="#21918c"/><use href="#pB30" stroke="#414487"/><use href="#pB31" stroke="#39568b"/><use href="#pB32" stroke="#31688d"/><use href="#pB33" stroke="#2a788e"/><use href="#pR10" stroke="#2a788e"/><use href="#pR11" stroke="#24888d"/><use href="#pR12" stroke="#219989"/><use href="#pR13" stroke="#22a884"/><use href="#pR20" stroke="#2a788e"/><use href="#pR21" stroke="#24888d"/><use href="#pR22" stroke="#219989"/><use href="#pR23" stroke="#22a884"/></g>
<text x="431.2" y="1560.8" font-size="29.6" text-anchor="middle">CD366 (TIM3)</text>
<rect x="329.7" y="1574.8" width="203.1" height="199.7" fill="none" stroke="#333333" stroke-width="1.6"/>
<path d="M347.9 1774.5v13.5M400.7 1774.5v13.5M453.4 1774.5v13.5M506.2 1774.5v13.5M329.7 1733.5h-13M329.7 1673.2h-13M329.7 1613.0h-13" stroke="#333333" stroke-width="1.6"/>
<text x="347.9" y="1814.7" font-size="23" text-anchor="middle">−5</text>
<text x="400.7" y="1814.7" font-size="23" text-anchor="middle">0</text>
<text x="453.4" y="1814.7" font-size="23" text-anchor="middle">5</text>
<text x="506.2" y="1814.7" font-size="23" text-anchor="middle">10</text>
<text transform="translate(307.0 1733.5) rotate(-90)" font-size="23" text-anchor="middle">−5</text>
<text transform="translate(307.0 1673.2) rotate(-90)" font-size="23" text-anchor="middle">0</text>
<text transform="translate(307.0 1613.0) rotate(-90)" font-size="23" text-anchor="middle">5</text>
<g transform="translate(400.7 1673.2)" stroke-linecap="round" stroke-width="4.1" fill="none"><use href="#pT10" stroke="#3d4c89"/><use href="#pT11" stroke="#365e8d"/><use href="#pT12" stroke="#2e6f8e"/><use href="#pT13" stroke="#27808d"/><use href="#pT20" stroke="#3d4c89"/><use href="#pT21" stroke="#365e8d"/><use href="#pT22" stroke="#2e6f8e"/><use href="#pT23" stroke="#27808d"/><use href="#pT30" stroke="#3d4c89"/><use href="#pT31" stroke="#365e8d"/><use href="#pT32" stroke="#2e6f8e"/><use href="#pT33" stroke="#27808d"/><use href="#pL10" stroke="#44347e"/><use href="#pL11" stroke="#3f4888"/><use href="#pL12" stroke="#375b8c"/><use href="#pL13" stroke="#306c8e"/><use href="#pL20" stroke="#306c8e"/><use href="#pL21" stroke="#297c8e"/><use href="#pL22" stroke="#228d8c"/><use href="#pL23" stroke="#229c88"/><use href="#pL3a0" stroke="#44347e"/><use href="#pL3a1" stroke="#3f4888"/><use href="#pL3a2" stroke="#375b8c"/><use href="#pL3a3" stroke="#306c8e"/><use href="#pL3b0" stroke="#44347e"/><use href="#pL3b1" stroke="#3f4888"/><use href="#pL3b2" stroke="#375b8c"/><use href="#pL3b3" stroke="#306c8e"/><use href="#pM10" stroke="#44347e"/><use href="#pM11" stroke="#3f4888"/><use href="#pM12" stroke="#375b8c"/><use href="#pM13" stroke="#306c8e"/><use href="#pM20" stroke="#44347e"/><use href="#pM21" stroke="#3f4888"/><use href="#pM22" stroke="#375b8c"/><use href="#pM23" stroke="#306c8e"/><use href="#pM30" stroke="#44347e"/><use href="#pM31" stroke="#3f4888"/><use href="#pM32" stroke="#375b8c"/><use href="#pM33" stroke="#306c8e"/><use href="#pM40" stroke="#44347e"/><use href="#pM41" stroke="#3f4888"/><use href="#pM42" stroke="#375b8c"/><use href="#pM43" stroke="#306c8e"/><use href="#pM50" stroke="#44347e"/><use href="#pM51" stroke="#3f4888"/><use href="#pM52" stroke="#375b8c"/><use href="#pM53" stroke="#306c8e"/><use href="#pB10" stroke="#482475"/><use href="#pB11" stroke="#433981"/><use href="#pB12" stroke="#3d4d89"/><use href="#pB13" stroke="#355f8d"/><use href="#pB20" stroke="#482475"/><use href="#pB21" stroke="#433981"/><use href="#pB22" stroke="#3d4d89"/><use href="#pB23" stroke="#355f8d"/><use href="#pB30" stroke="#482475"/><use href="#pB31" stroke="#433981"/><use href="#pB32" stroke="#3d4d89"/><use href="#pB33" stroke="#355f8d"/><use href="#pR10" stroke="#44347e"/><use href="#pR11" stroke="#3f4888"/><use href="#pR12" stroke="#375b8c"/><use href="#pR13" stroke="#306c8e"/><use href="#pR20" stroke="#44347e"/><use href="#pR21" stroke="#3f4888"/><use href="#pR22" stroke="#375b8c"/><use href="#pR23" stroke="#306c8e"/></g>
<text x="688.6" y="1560.8" font-size="29.6" text-anchor="middle">TIGIT</text>
<rect x="587.1" y="1574.8" width="203.1" height="199.7" fill="none" stroke="#333333" stroke-width="1.6"/>
<path d="M605.3 1774.5v13.5M658.1 1774.5v13.5M710.8 1774.5v13.5M763.6 1774.5v13.5M587.1 1733.5h-13M587.1 1673.2h-13M587.1 1613.0h-13" stroke="#333333" stroke-width="1.6"/>
<text x="605.3" y="1814.7" font-size="23" text-anchor="middle">−5</text>
<text x="658.1" y="1814.7" font-size="23" text-anchor="middle">0</text>
<text x="710.8" y="1814.7" font-size="23" text-anchor="middle">5</text>
<text x="763.6" y="1814.7" font-size="23" text-anchor="middle">10</text>
<text transform="translate(564.4 1733.5) rotate(-90)" font-size="23" text-anchor="middle">−5</text>
<text transform="translate(564.4 1673.2) rotate(-90)" font-size="23" text-anchor="middle">0</text>
<text transform="translate(564.4 1613.0) rotate(-90)" font-size="23" text-anchor="middle">5</text>
<g transform="translate(658.1 1673.2)" stroke-linecap="round" stroke-width="4.1" fill="none"><use href="#pT10" stroke="#21918c"/><use href="#pT11" stroke="#22a087"/><use href="#pT12" stroke="#2eb07d"/><use href="#pT13" stroke="#44bf70"/><use href="#pT20" stroke="#21918c"/><use href="#pT21" stroke="#22a087"/><use href="#pT22" stroke="#2eb07d"/><use href="#pT23" stroke="#44bf70"/><use href="#pT30" stroke="#21918c"/><use href="#pT31" stroke="#22a087"/><use href="#pT32" stroke="#2eb07d"/><use href="#pT33" stroke="#44bf70"/><use href="#pL10" stroke="#25858d"/><use href="#pL11" stroke="#21948b"/><use href="#pL12" stroke="#22a585"/><use href="#pL13" stroke="#33b47a"/><use href="#pL20" stroke="#21918c"/><use href="#pL21" stroke="#22a087"/><use href="#pL22" stroke="#2eb07d"/><use href="#pL23" stroke="#44bf70"/><use href="#pL3a0" stroke="#25858d"/><use href="#pL3a1" stroke="#21948b"/><use href="#pL3a2" stroke="#22a585"/><use href="#pL3a3" stroke="#33b47a"/><use href="#pL3b0" stroke="#25858d"/><use href="#pL3b1" stroke="#21948b"/><use href="#pL3b2" stroke="#22a585"/><use href="#pL3b3" stroke="#33b47a"/><use href="#pM10" stroke="#25858d"/><use href="#pM11" stroke="#21948b"/><use href="#pM12" stroke="#22a585"/><use href="#pM13" stroke="#33b47a"/><use href="#pM20" stroke="#25858d"/><use href="#pM21" stroke="#21948b"/><use href="#pM22" stroke="#22a585"/><use href="#pM23" stroke="#33b47a"/><use href="#pM30" stroke="#25858d"/><use href="#pM31" stroke="#21948b"/><use href="#pM32" stroke="#22a585"/><use href="#pM33" stroke="#33b47a"/><use href="#pM40" stroke="#25858d"/><use href="#pM41" stroke="#21948b"/><use href="#pM42" stroke="#22a585"/><use href="#pM43" stroke="#33b47a"/><use href="#pM50" stroke="#25858d"/><use href="#pM51" stroke="#21948b"/><use href="#pM52" stroke="#22a585"/><use href="#pM53" stroke="#33b47a"/><use href="#pB10" stroke="#2a788e"/><use href="#pB11" stroke="#24888d"/><use href="#pB12" stroke="#219989"/><use href="#pB13" stroke="#22a884"/><use href="#pB20" stroke="#2a788e"/><use href="#pB21" stroke="#24888d"/><use href="#pB22" stroke="#219989"/><use href="#pB23" stroke="#22a884"/><use href="#pB30" stroke="#355f8d"/><use href="#pB31" stroke="#2e6f8e"/><use href="#pB32" stroke="#27818d"/><use href="#pB33" stroke="#21918c"/><use href="#pR10" stroke="#22a884"/><use href="#pR11" stroke="#38b777"/><use href="#pR12" stroke="#57c565"/><use href="#pR13" stroke="#7ad151"/><use href="#pR20" stroke="#22a884"/><use href="#pR21" stroke="#38b777"/><use href="#pR22" stroke="#57c565"/><use href="#pR23" stroke="#7ad151"/></g>
<clipPath id="ce23"><rect x="587.1" y="1574.8" width="203.4" height="199.7"/></clipPath>
<ellipse cx="775.8" cy="1598.2" rx="16.9" ry="8.1" transform="rotate(40 775.8 1598.2)" stroke="#0000e0" stroke-width="3.3" stroke-dasharray="8.5 2.9" fill="none" clip-path="url(#ce23)"/>
<text x="946.0" y="1560.8" font-size="29.6" text-anchor="middle">Blimp-1</text>
<rect x="844.5" y="1574.8" width="203.1" height="199.7" fill="none" stroke="#333333" stroke-width="1.6"/>
<path d="M862.8 1774.5v13.5M915.5 1774.5v13.5M968.2 1774.5v13.5M1021.0 1774.5v13.5M844.5 1733.5h-13M844.5 1673.2h-13M844.5 1613.0h-13" stroke="#333333" stroke-width="1.6"/>
<text x="862.8" y="1814.7" font-size="23" text-anchor="middle">−5</text>
<text x="915.5" y="1814.7" font-size="23" text-anchor="middle">0</text>
<text x="968.2" y="1814.7" font-size="23" text-anchor="middle">5</text>
<text x="1021.0" y="1814.7" font-size="23" text-anchor="middle">10</text>
<text transform="translate(821.8 1733.5) rotate(-90)" font-size="23" text-anchor="middle">−5</text>
<text transform="translate(821.8 1673.2) rotate(-90)" font-size="23" text-anchor="middle">0</text>
<text transform="translate(821.8 1613.0) rotate(-90)" font-size="23" text-anchor="middle">5</text>
<g transform="translate(915.5 1673.2)" stroke-linecap="round" stroke-width="4.1" fill="none"><use href="#pT10" stroke="#3b518a"/><use href="#pT11" stroke="#33638d"/><use href="#pT12" stroke="#2c748e"/><use href="#pT13" stroke="#26848d"/><use href="#pT20" stroke="#3b518a"/><use href="#pT21" stroke="#33638d"/><use href="#pT22" stroke="#2c748e"/><use href="#pT23" stroke="#26848d"/><use href="#pT30" stroke="#3b518a"/><use href="#pT31" stroke="#33638d"/><use href="#pT32" stroke="#2c748e"/><use href="#pT33" stroke="#26848d"/><use href="#pL10" stroke="#44347e"/><use href="#pL11" stroke="#3f4888"/><use href="#pL12" stroke="#375b8c"/><use href="#pL13" stroke="#306c8e"/><use href="#pL20" stroke="#306c8e"/><use href="#pL21" stroke="#297c8e"/><use href="#pL22" stroke="#228d8c"/><use href="#pL23" stroke="#229c88"/><use href="#pL3a0" stroke="#414487"/><use href="#pL3a1" stroke="#39568b"/><use href="#pL3a2" stroke="#31688d"/><use href="#pL3a3" stroke="#2a788e"/><use href="#pL3b0" stroke="#3b518a"/><use href="#pL3b1" stroke="#33638d"/><use href="#pL3b2" stroke="#2c748e"/><use href="#pL3b3" stroke="#26848d"/><use href="#pM10" stroke="#414487"/><use href="#pM11" stroke="#39568b"/><use href="#pM12" stroke="#31688d"/><use href="#pM13" stroke="#2a788e"/><use href="#pM20" stroke="#414487"/><use href="#pM21" stroke="#39568b"/><use href="#pM22" stroke="#31688d"/><use href="#pM23" stroke="#2a788e"/><use href="#pM30" stroke="#414487"/><use href="#pM31" stroke="#39568b"/><use href="#pM32" stroke="#31688d"/><use href="#pM33" stroke="#2a788e"/><use href="#pM40" stroke="#414487"/><use href="#pM41" stroke="#39568b"/><use href="#pM42" stroke="#31688d"/><use href="#pM43" stroke="#2a788e"/><use href="#pM50" stroke="#414487"/><use href="#pM51" stroke="#39568b"/><use href="#pM52" stroke="#31688d"/><use href="#pM53" stroke="#2a788e"/><use href="#pB10" stroke="#306c8e"/><use href="#pB11" stroke="#297c8e"/><use href="#pB12" stroke="#228d8c"/><use href="#pB13" stroke="#229c88"/><use href="#pB20" stroke="#306c8e"/><use href="#pB21" stroke="#297c8e"/><use href="#pB22" stroke="#228d8c"/><use href="#pB23" stroke="#229c88"/><use href="#pB30" stroke="#25858d"/><use href="#pB31" stroke="#21948b"/><use href="#pB32" stroke="#22a585"/><use href="#pB33" stroke="#33b47a"/><use href="#pR10" stroke="#44347e"/><use href="#pR11" stroke="#3f4888"/><use href="#pR12" stroke="#375b8c"/><use href="#pR13" stroke="#306c8e"/><use href="#pR20" stroke="#44347e"/><use href="#pR21" stroke="#3f4888"/><use href="#pR22" stroke="#375b8c"/><use href="#pR23" stroke="#306c8e"/></g>
<text x="1203.4" y="1560.8" font-size="29.6" text-anchor="middle">Eomes</text>
<rect x="1101.9" y="1574.8" width="203.1" height="199.7" fill="none" stroke="#333333" stroke-width="1.6"/>
<path d="M1120.1 1774.5v13.5M1172.9 1774.5v13.5M1225.6 1774.5v13.5M1278.4 1774.5v13.5M1101.9 1733.5h-13M1101.9 1673.2h-13M1101.9 1613.0h-13" stroke="#333333" stroke-width="1.6"/>
<text x="1120.1" y="1814.7" font-size="23" text-anchor="middle">−5</text>
<text x="1172.9" y="1814.7" font-size="23" text-anchor="middle">0</text>
<text x="1225.6" y="1814.7" font-size="23" text-anchor="middle">5</text>
<text x="1278.4" y="1814.7" font-size="23" text-anchor="middle">10</text>
<text transform="translate(1079.2 1733.5) rotate(-90)" font-size="23" text-anchor="middle">−5</text>
<text transform="translate(1079.2 1673.2) rotate(-90)" font-size="23" text-anchor="middle">0</text>
<text transform="translate(1079.2 1613.0) rotate(-90)" font-size="23" text-anchor="middle">5</text>
<g transform="translate(1172.9 1673.2)" stroke-linecap="round" stroke-width="4.1" fill="none"><use href="#pT10" stroke="#440154"/><use href="#pT11" stroke="#450659"/><use href="#pT12" stroke="#471f70"/><use href="#pT13" stroke="#44347e"/><use href="#pT20" stroke="#440154"/><use href="#pT21" stroke="#450659"/><use href="#pT22" stroke="#471f70"/><use href="#pT23" stroke="#44347e"/><use href="#pT30" stroke="#440154"/><use href="#pT31" stroke="#450659"/><use href="#pT32" stroke="#471f70"/><use href="#pT33" stroke="#44347e"/><use href="#pL10" stroke="#440154"/><use href="#pL11" stroke="#450659"/><use href="#pL12" stroke="#471f70"/><use href="#pL13" stroke="#44347e"/><use href="#pL20" stroke="#440154"/><use href="#pL21" stroke="#450659"/><use href="#pL22" stroke="#471f70"/><use href="#pL23" stroke="#44347e"/><use href="#pL3a0" stroke="#440154"/><use href="#pL3a1" stroke="#450659"/><use href="#pL3a2" stroke="#471f70"/><use href="#pL3a3" stroke="#44347e"/><use href="#pL3b0" stroke="#440154"/><use href="#pL3b1" stroke="#450659"/><use href="#pL3b2" stroke="#471f70"/><use href="#pL3b3" stroke="#44347e"/><use href="#pM10" stroke="#414487"/><use href="#pM11" stroke="#39568b"/><use href="#pM12" stroke="#31688d"/><use href="#pM13" stroke="#2a788e"/><use href="#pM20" stroke="#440154"/><use href="#pM21" stroke="#461163"/><use href="#pM22" stroke="#472978"/><use href="#pM23" stroke="#423e83"/><use href="#pM30" stroke="#45085b"/><use href="#pM31" stroke="#471f70"/><use href="#pM32" stroke="#44367f"/><use href="#pM33" stroke="#3f4988"/><use href="#pM40" stroke="#461264"/><use href="#pM41" stroke="#472978"/><use href="#pM42" stroke="#423f84"/><use href="#pM43" stroke="#3b528a"/><use href="#pM50" stroke="#440154"/><use href="#pM51" stroke="#471869"/><use href="#pM52" stroke="#462f7b"/><use href="#pM53" stroke="#414487"/><use href="#pB10" stroke="#3b518a"/><use href="#pB11" stroke="#33638d"/><use href="#pB12" stroke="#2c748e"/><use href="#pB13" stroke="#26848d"/><use href="#pB20" stroke="#414487"/><use href="#pB21" stroke="#39568b"/><use href="#pB22" stroke="#31688d"/><use href="#pB23" stroke="#2a788e"/><use href="#pB30" stroke="#440154"/><use href="#pB31" stroke="#461163"/><use href="#pB32" stroke="#472978"/><use href="#pB33" stroke="#423e83"/><use href="#pR10" stroke="#440154"/><use href="#pR11" stroke="#450659"/><use href="#pR12" stroke="#471f70"/><use href="#pR13" stroke="#44347e"/><use href="#pR20" stroke="#440154"/><use href="#pR21" stroke="#450659"/><use href="#pR22" stroke="#471f70"/><use href="#pR23" stroke="#44347e"/></g>
<text x="1460.8" y="1560.8" font-size="29.6" text-anchor="middle">Helios</text>
<rect x="1359.3" y="1574.8" width="203.1" height="199.7" fill="none" stroke="#333333" stroke-width="1.6"/>
<path d="M1377.5 1774.5v13.5M1430.3 1774.5v13.5M1483.0 1774.5v13.5M1535.8 1774.5v13.5M1359.3 1733.5h-13M1359.3 1673.2h-13M1359.3 1613.0h-13" stroke="#333333" stroke-width="1.6"/>
<text x="1377.5" y="1814.7" font-size="23" text-anchor="middle">−5</text>
<text x="1430.3" y="1814.7" font-size="23" text-anchor="middle">0</text>
<text x="1483.0" y="1814.7" font-size="23" text-anchor="middle">5</text>
<text x="1535.8" y="1814.7" font-size="23" text-anchor="middle">10</text>
<text transform="translate(1336.6 1733.5) rotate(-90)" font-size="23" text-anchor="middle">−5</text>
<text transform="translate(1336.6 1673.2) rotate(-90)" font-size="23" text-anchor="middle">0</text>
<text transform="translate(1336.6 1613.0) rotate(-90)" font-size="23" text-anchor="middle">5</text>
<g transform="translate(1430.3 1673.2)" stroke-linecap="round" stroke-width="4.1" fill="none"><use href="#pT10" stroke="#44347e"/><use href="#pT11" stroke="#3f4888"/><use href="#pT12" stroke="#375b8c"/><use href="#pT13" stroke="#306c8e"/><use href="#pT20" stroke="#44347e"/><use href="#pT21" stroke="#3f4888"/><use href="#pT22" stroke="#375b8c"/><use href="#pT23" stroke="#306c8e"/><use href="#pT30" stroke="#44347e"/><use href="#pT31" stroke="#3f4888"/><use href="#pT32" stroke="#375b8c"/><use href="#pT33" stroke="#306c8e"/><use href="#pL10" stroke="#471d6e"/><use href="#pL11" stroke="#45327d"/><use href="#pL12" stroke="#3f4888"/><use href="#pL13" stroke="#375a8c"/><use href="#pL20" stroke="#414487"/><use href="#pL21" stroke="#39568b"/><use href="#pL22" stroke="#31688d"/><use href="#pL23" stroke="#2a788e"/><use href="#pL3a0" stroke="#471d6e"/><use href="#pL3a1" stroke="#45327d"/><use href="#pL3a2" stroke="#3f4888"/><use href="#pL3a3" stroke="#375a8c"/><use href="#pL3b0" stroke="#471d6e"/><use href="#pL3b1" stroke="#45327d"/><use href="#pL3b2" stroke="#3f4888"/><use href="#pL3b3" stroke="#375a8c"/><use href="#pM10" stroke="#414487"/><use href="#pM11" stroke="#39568b"/><use href="#pM12" stroke="#31688d"/><use href="#pM13" stroke="#2a788e"/><use href="#pM20" stroke="#414487"/><use href="#pM21" stroke="#39568b"/><use href="#pM22" stroke="#31688d"/><use href="#pM23" stroke="#2a788e"/><use href="#pM30" stroke="#423e83"/><use href="#pM31" stroke="#3c508a"/><use href="#pM32" stroke="#33638d"/><use href="#pM33" stroke="#2c738e"/><use href="#pM40" stroke="#414487"/><use href="#pM41" stroke="#39568b"/><use href="#pM42" stroke="#31688d"/><use href="#pM43" stroke="#2a788e"/><use href="#pM50" stroke="#414487"/><use href="#pM51" stroke="#39568b"/><use href="#pM52" stroke="#31688d"/><use href="#pM53" stroke="#2a788e"/><use href="#pB10" stroke="#440154"/><use href="#pB11" stroke="#471869"/><use href="#pB12" stroke="#462f7b"/><use href="#pB13" stroke="#414487"/><use href="#pB20" stroke="#440154"/><use href="#pB21" stroke="#471869"/><use href="#pB22" stroke="#462f7b"/><use href="#pB23" stroke="#414487"/><use href="#pB30" stroke="#440154"/><use href="#pB31" stroke="#471869"/><use href="#pB32" stroke="#462f7b"/><use href="#pB33" stroke="#414487"/><use href="#pR10" stroke="#29ad80"/><use href="#pR11" stroke="#3fbc73"/><use href="#pR12" stroke="#62c95f"/><use href="#pR13" stroke="#87d448"/><use href="#pR20" stroke="#29ad80"/><use href="#pR21" stroke="#3fbc73"/><use href="#pR22" stroke="#62c95f"/><use href="#pR23" stroke="#87d448"/></g>
<clipPath id="ce53"><rect x="1359.3" y="1574.8" width="203.4" height="199.7"/></clipPath>
<ellipse cx="1548.0" cy="1598.2" rx="16.9" ry="8.1" transform="rotate(40 1548.0 1598.2)" stroke="#0000e0" stroke-width="3.3" stroke-dasharray="8.5 2.9" fill="none" clip-path="url(#ce53)"/>
<text x="1718.2" y="1560.8" font-size="29.6" text-anchor="middle">T-bet</text>
<rect x="1616.7" y="1574.8" width="203.1" height="199.7" fill="none" stroke="#333333" stroke-width="1.6"/>
<path d="M1634.9 1774.5v13.5M1687.7 1774.5v13.5M1740.4 1774.5v13.5M1793.2 1774.5v13.5M1616.7 1733.5h-13M1616.7 1673.2h-13M1616.7 1613.0h-13" stroke="#333333" stroke-width="1.6"/>
<text x="1634.9" y="1814.7" font-size="23" text-anchor="middle">−5</text>
<text x="1687.7" y="1814.7" font-size="23" text-anchor="middle">0</text>
<text x="1740.4" y="1814.7" font-size="23" text-anchor="middle">5</text>
<text x="1793.2" y="1814.7" font-size="23" text-anchor="middle">10</text>
<text transform="translate(1594.0 1733.5) rotate(-90)" font-size="23" text-anchor="middle">−5</text>
<text transform="translate(1594.0 1673.2) rotate(-90)" font-size="23" text-anchor="middle">0</text>
<text transform="translate(1594.0 1613.0) rotate(-90)" font-size="23" text-anchor="middle">5</text>
<g transform="translate(1687.7 1673.2)" stroke-linecap="round" stroke-width="4.1" fill="none"><use href="#pT10" stroke="#2a788e"/><use href="#pT11" stroke="#24888d"/><use href="#pT12" stroke="#219989"/><use href="#pT13" stroke="#22a884"/><use href="#pT20" stroke="#2a788e"/><use href="#pT21" stroke="#24888d"/><use href="#pT22" stroke="#219989"/><use href="#pT23" stroke="#22a884"/><use href="#pT30" stroke="#2a788e"/><use href="#pT31" stroke="#24888d"/><use href="#pT32" stroke="#219989"/><use href="#pT33" stroke="#22a884"/><use href="#pL10" stroke="#355f8d"/><use href="#pL11" stroke="#2e6f8e"/><use href="#pL12" stroke="#27818d"/><use href="#pL13" stroke="#21918c"/><use href="#pL20" stroke="#25858d"/><use href="#pL21" stroke="#21948b"/><use href="#pL22" stroke="#22a585"/><use href="#pL23" stroke="#33b47a"/><use href="#pL3a0" stroke="#306c8e"/><use href="#pL3a1" stroke="#297c8e"/><use href="#pL3a2" stroke="#228d8c"/><use href="#pL3a3" stroke="#229c88"/><use href="#pL3b0" stroke="#306c8e"/><use href="#pL3b1" stroke="#297c8e"/><use href="#pL3b2" stroke="#228d8c"/><use href="#pL3b3" stroke="#229c88"/><use href="#pM10" stroke="#21968a"/><use href="#pM11" stroke="#22a585"/><use href="#pM12" stroke="#35b579"/><use href="#pM13" stroke="#4fc36a"/><use href="#pM20" stroke="#306c8e"/><use href="#pM21" stroke="#297c8e"/><use href="#pM22" stroke="#228d8c"/><use href="#pM23" stroke="#229c88"/><use href="#pM30" stroke="#21918c"/><use href="#pM31" stroke="#22a087"/><use href="#pM32" stroke="#2eb07d"/><use href="#pM33" stroke="#44bf70"/><use href="#pM40" stroke="#21918c"/><use href="#pM41" stroke="#22a087"/><use href="#pM42" stroke="#2eb07d"/><use href="#pM43" stroke="#44bf70"/><use href="#pM50" stroke="#21918c"/><use href="#pM51" stroke="#22a087"/><use href="#pM52" stroke="#2eb07d"/><use href="#pM53" stroke="#44bf70"/><use href="#pB10" stroke="#29ad80"/><use href="#pB11" stroke="#3fbc73"/><use href="#pB12" stroke="#62c95f"/><use href="#pB13" stroke="#87d448"/><use href="#pB20" stroke="#22a884"/><use href="#pB21" stroke="#38b777"/><use href="#pB22" stroke="#57c565"/><use href="#pB23" stroke="#7ad151"/><use href="#pB30" stroke="#21918c"/><use href="#pB31" stroke="#22a087"/><use href="#pB32" stroke="#2eb07d"/><use href="#pB33" stroke="#44bf70"/><use href="#pR10" stroke="#355f8d"/><use href="#pR11" stroke="#2e6f8e"/><use href="#pR12" stroke="#27818d"/><use href="#pR13" stroke="#21918c"/><use href="#pR20" stroke="#355f8d"/><use href="#pR21" stroke="#2e6f8e"/><use href="#pR22" stroke="#27818d"/><use href="#pR23" stroke="#21918c"/></g>
<text x="1975.6" y="1560.8" font-size="29.6" text-anchor="middle">Ki-67</text>
<rect x="1874.1" y="1574.8" width="203.1" height="199.7" fill="none" stroke="#333333" stroke-width="1.6"/>
<path d="M1892.3 1774.5v13.5M1945.1 1774.5v13.5M1997.8 1774.5v13.5M2050.6 1774.5v13.5M1874.1 1733.5h-13M1874.1 1673.2h-13M1874.1 1613.0h-13" stroke="#333333" stroke-width="1.6"/>
<text x="1892.3" y="1814.7" font-size="23" text-anchor="middle">−5</text>
<text x="1945.1" y="1814.7" font-size="23" text-anchor="middle">0</text>
<text x="1997.8" y="1814.7" font-size="23" text-anchor="middle">5</text>
<text x="2050.6" y="1814.7" font-size="23" text-anchor="middle">10</text>
<text transform="translate(1851.4 1733.5) rotate(-90)" font-size="23" text-anchor="middle">−5</text>
<text transform="translate(1851.4 1673.2) rotate(-90)" font-size="23" text-anchor="middle">0</text>
<text transform="translate(1851.4 1613.0) rotate(-90)" font-size="23" text-anchor="middle">5</text>
<g transform="translate(1945.1 1673.2)" stroke-linecap="round" stroke-width="4.1" fill="none"><use href="#pT10" stroke="#306c8e"/><use href="#pT11" stroke="#297c8e"/><use href="#pT12" stroke="#228d8c"/><use href="#pT13" stroke="#229c88"/><use href="#pT20" stroke="#306c8e"/><use href="#pT21" stroke="#297c8e"/><use href="#pT22" stroke="#228d8c"/><use href="#pT23" stroke="#229c88"/><use href="#pT30" stroke="#306c8e"/><use href="#pT31" stroke="#297c8e"/><use href="#pT32" stroke="#228d8c"/><use href="#pT33" stroke="#229c88"/><use href="#pL10" stroke="#461264"/><use href="#pL11" stroke="#472978"/><use href="#pL12" stroke="#423f84"/><use href="#pL13" stroke="#3b528a"/><use href="#pL20" stroke="#25858d"/><use href="#pL21" stroke="#21948b"/><use href="#pL22" stroke="#22a585"/><use href="#pL23" stroke="#33b47a"/><use href="#pL3a0" stroke="#2a788e"/><use href="#pL3a1" stroke="#24888d"/><use href="#pL3a2" stroke="#219989"/><use href="#pL3a3" stroke="#22a884"/><use href="#pL3b0" stroke="#2a788e"/><use href="#pL3b1" stroke="#24888d"/><use href="#pL3b2" stroke="#219989"/><use href="#pL3b3" stroke="#22a884"/><use href="#pM10" stroke="#21918c"/><use href="#pM11" stroke="#22a087"/><use href="#pM12" stroke="#2eb07d"/><use href="#pM13" stroke="#44bf70"/><use href="#pM20" stroke="#414487"/><use href="#pM21" stroke="#39568b"/><use href="#pM22" stroke="#31688d"/><use href="#pM23" stroke="#2a788e"/><use href="#pM30" stroke="#2a788e"/><use href="#pM31" stroke="#24888d"/><use href="#pM32" stroke="#219989"/><use href="#pM33" stroke="#22a884"/><use href="#pM40" stroke="#2a788e"/><use href="#pM41" stroke="#24888d"/><use href="#pM42" stroke="#219989"/><use href="#pM43" stroke="#22a884"/><use href="#pM50" stroke="#461264"/><use href="#pM51" stroke="#472978"/><use href="#pM52" stroke="#423f84"/><use href="#pM53" stroke="#3b528a"/><use href="#pB10" stroke="#461264"/><use href="#pB11" stroke="#472978"/><use href="#pB12" stroke="#423f84"/><use href="#pB13" stroke="#3b528a"/><use href="#pB20" stroke="#306c8e"/><use href="#pB21" stroke="#297c8e"/><use href="#pB22" stroke="#228d8c"/><use href="#pB23" stroke="#229c88"/><use href="#pB30" stroke="#355f8d"/><use href="#pB31" stroke="#2e6f8e"/><use href="#pB32" stroke="#27818d"/><use href="#pB33" stroke="#21918c"/><use href="#pR10" stroke="#2a788e"/><use href="#pR11" stroke="#24888d"/><use href="#pR12" stroke="#219989"/><use href="#pR13" stroke="#22a884"/><use href="#pR20" stroke="#3b518a"/><use href="#pR21" stroke="#33638d"/><use href="#pR22" stroke="#2c748e"/><use href="#pR23" stroke="#26848d"/></g>
<text x="1073.0" y="1846.3" font-size="29.5" text-anchor="middle">Expression</text>
<rect x="968.5" y="1861.1" width="207.3" height="36" fill="url(#ge)" stroke="#000" stroke-width="2.4"/>
<text x="957.5" y="1885.5" font-size="28.9" text-anchor="end">Low</text>
<text x="1183.2" y="1885.5" font-size="29.4">High</text>
</svg></body></html>
